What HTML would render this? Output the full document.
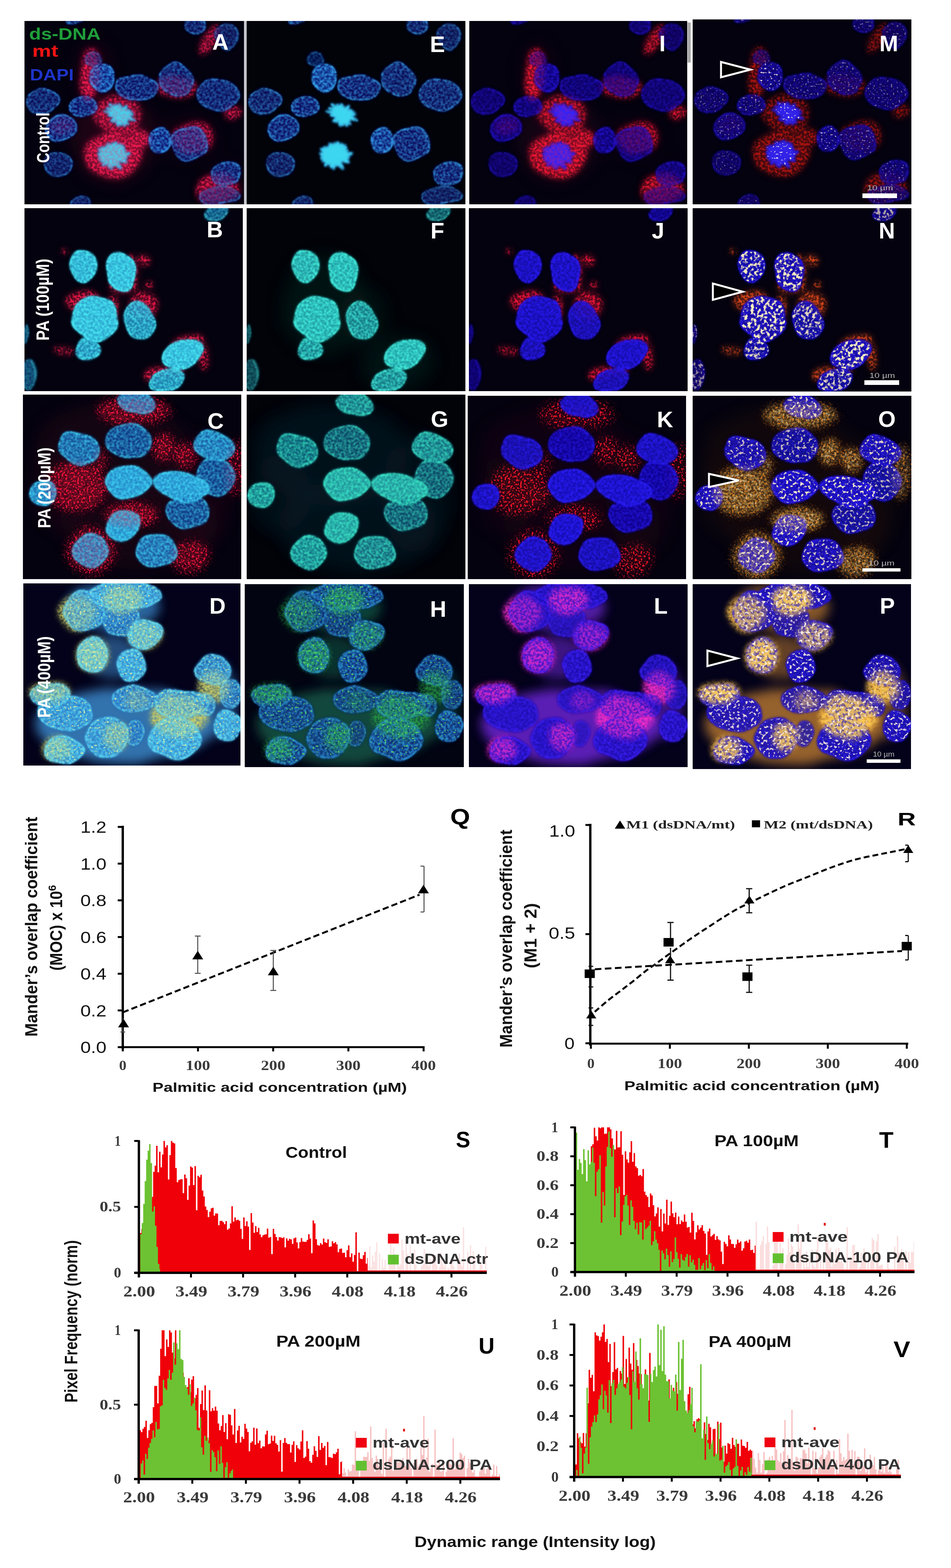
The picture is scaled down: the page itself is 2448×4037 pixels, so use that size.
<!DOCTYPE html>
<html><head><meta charset="utf-8"><title>Figure</title>
<style>
html,body{margin:0;padding:0;background:#fff;}
svg{display:block;}
</style></head><body>

<svg width="2448" height="4037" viewBox="0 0 2448 4037">
<rect width="2448" height="4037" fill="#fff"/>

<filter id="blurBig" x="-30%" y="-30%" width="160%" height="160%"><feTurbulence type="fractalNoise" baseFrequency="0.018" numOctaves="1" seed="41" result="dn" color-interpolation-filters="sRGB"/><feDisplacementMap in="SourceGraphic" in2="dn" scale="22" xChannelSelector="R" yChannelSelector="G" result="src" color-interpolation-filters="sRGB"/><feGaussianBlur in="src" stdDeviation="9"/></filter>
<filter id="blurMid" x="-40%" y="-40%" width="180%" height="180%"><feTurbulence type="fractalNoise" baseFrequency="0.018" numOctaves="1" seed="41" result="dn" color-interpolation-filters="sRGB"/><feDisplacementMap in="SourceGraphic" in2="dn" scale="22" xChannelSelector="R" yChannelSelector="G" result="src" color-interpolation-filters="sRGB"/><feGaussianBlur in="src" stdDeviation="14"/></filter>
<filter id="blurHuge" x="-40%" y="-40%" width="180%" height="180%"><feTurbulence type="fractalNoise" baseFrequency="0.018" numOctaves="1" seed="41" result="dn" color-interpolation-filters="sRGB"/><feDisplacementMap in="SourceGraphic" in2="dn" scale="22" xChannelSelector="R" yChannelSelector="G" result="src" color-interpolation-filters="sRGB"/><feGaussianBlur in="src" stdDeviation="22"/></filter>
<filter id="nucBase" x="-10%" y="-10%" width="120%" height="120%"><feTurbulence type="fractalNoise" baseFrequency="0.018" numOctaves="1" seed="41" result="dn" color-interpolation-filters="sRGB"/><feDisplacementMap in="SourceGraphic" in2="dn" scale="22" xChannelSelector="R" yChannelSelector="G" result="src" color-interpolation-filters="sRGB"/><feGaussianBlur in="src" stdDeviation="3"/></filter>
<filter id="mot" x="-5%" y="-5%" width="110%" height="110%" color-interpolation-filters="sRGB"><feTurbulence type="fractalNoise" baseFrequency="0.018" numOctaves="1" seed="41" result="dn" color-interpolation-filters="sRGB"/><feDisplacementMap in="SourceGraphic" in2="dn" scale="22" xChannelSelector="R" yChannelSelector="G" result="src" color-interpolation-filters="sRGB"/>
  <feTurbulence type="fractalNoise" baseFrequency="0.17" numOctaves="2" seed="7" result="n"/>
  <feColorMatrix in="n" type="matrix" values="0 0 0 0 0  0 0 0 0 0  0 0 0 0 0  3.2 0 0 0 -1.2" result="na"/>
  <feComposite in="src" in2="na" operator="in" result="t"/>
  <feGaussianBlur in="t" stdDeviation="1"/>
</filter>
<filter id="mot2" x="-5%" y="-5%" width="110%" height="110%" color-interpolation-filters="sRGB"><feTurbulence type="fractalNoise" baseFrequency="0.018" numOctaves="1" seed="41" result="dn" color-interpolation-filters="sRGB"/><feDisplacementMap in="SourceGraphic" in2="dn" scale="22" xChannelSelector="R" yChannelSelector="G" result="src" color-interpolation-filters="sRGB"/>
  <feTurbulence type="fractalNoise" baseFrequency="0.12" numOctaves="2" seed="17" result="n"/>
  <feColorMatrix in="n" type="matrix" values="0 0 0 0 0  0 0 0 0 0  0 0 0 0 0  3.5 0 0 0 -1.2" result="na"/>
  <feComposite in="src" in2="na" operator="in" result="t"/>
  <feGaussianBlur in="t" stdDeviation="1.5"/>
</filter>
<filter id="redTex" x="-20%" y="-20%" width="140%" height="140%" color-interpolation-filters="sRGB"><feTurbulence type="fractalNoise" baseFrequency="0.018" numOctaves="1" seed="41" result="dn" color-interpolation-filters="sRGB"/><feDisplacementMap in="SourceGraphic" in2="dn" scale="22" xChannelSelector="R" yChannelSelector="G" result="src" color-interpolation-filters="sRGB"/>
  <feGaussianBlur in="src" stdDeviation="10" result="b"/>
  <feComponentTransfer in="b" result="bd"><feFuncA type="linear" slope="0.45"/></feComponentTransfer>
  <feTurbulence type="fractalNoise" baseFrequency="0.16" numOctaves="2" seed="23" result="n"/>
  <feColorMatrix in="n" type="matrix" values="0 0 0 0 0  0 0 0 0 0  0 0 0 0 0  4.5 0 0 0 -1.9" result="na"/>
  <feGaussianBlur in="src" stdDeviation="5" result="sb"/>
  <feComposite in="sb" in2="na" operator="in" result="t"/>
  <feMerge><feMergeNode in="bd"/><feMergeNode in="t"/></feMerge>
</filter>
<filter id="ovTex" x="-20%" y="-20%" width="140%" height="140%" color-interpolation-filters="sRGB"><feTurbulence type="fractalNoise" baseFrequency="0.018" numOctaves="1" seed="41" result="dn" color-interpolation-filters="sRGB"/><feDisplacementMap in="SourceGraphic" in2="dn" scale="22" xChannelSelector="R" yChannelSelector="G" result="src" color-interpolation-filters="sRGB"/>
  <feGaussianBlur in="src" stdDeviation="8" result="b"/>
  <feTurbulence type="fractalNoise" baseFrequency="0.15" numOctaves="2" seed="31" result="n"/>
  <feColorMatrix in="n" type="matrix" values="0 0 0 0 0  0 0 0 0 0  0 0 0 0 0  5 0 0 0 -2.0" result="na"/>
  <feComposite in="b" in2="na" operator="in" result="t"/>
  <feComponentTransfer in="b" result="bd"><feFuncA type="linear" slope="0.35"/></feComponentTransfer>
  <feMerge><feMergeNode in="bd"/><feMergeNode in="t"/></feMerge>
</filter>
<filter id="ovTex2" x="-20%" y="-20%" width="140%" height="140%" color-interpolation-filters="sRGB"><feTurbulence type="fractalNoise" baseFrequency="0.018" numOctaves="1" seed="41" result="dn" color-interpolation-filters="sRGB"/><feDisplacementMap in="SourceGraphic" in2="dn" scale="22" xChannelSelector="R" yChannelSelector="G" result="src" color-interpolation-filters="sRGB"/>
  <feGaussianBlur in="src" stdDeviation="8" result="b"/>
  <feTurbulence type="fractalNoise" baseFrequency="0.12" numOctaves="2" seed="37" result="n"/>
  <feColorMatrix in="n" type="matrix" values="0 0 0 0 0  0 0 0 0 0  0 0 0 0 0  5 0 0 0 -1.7" result="na"/>
  <feComposite in="b" in2="na" operator="in" result="t"/>
  <feComponentTransfer in="b" result="bd"><feFuncA type="linear" slope="0.4"/></feComponentTransfer>
  <feMerge><feMergeNode in="bd"/><feMergeNode in="t"/></feMerge>
</filter>
<filter id="redSp" x="-20%" y="-20%" width="140%" height="140%" color-interpolation-filters="sRGB"><feTurbulence type="fractalNoise" baseFrequency="0.018" numOctaves="1" seed="41" result="dn" color-interpolation-filters="sRGB"/><feDisplacementMap in="SourceGraphic" in2="dn" scale="22" xChannelSelector="R" yChannelSelector="G" result="src" color-interpolation-filters="sRGB"/>
  <feGaussianBlur in="src" stdDeviation="12" result="b"/>
  <feComponentTransfer in="b" result="bd"><feFuncA type="linear" slope="0.18"/></feComponentTransfer>
  <feTurbulence type="fractalNoise" baseFrequency="0.2" numOctaves="2" seed="29" result="n"/>
  <feColorMatrix in="n" type="matrix" values="0 0 0 0 0  0 0 0 0 0  0 0 0 0 0  7 0 0 0 -3.9" result="na"/>
  <feComposite in="b" in2="na" operator="in" result="t0"/>
  <feComponentTransfer in="t0" result="t"><feFuncA type="linear" slope="2.2"/></feComponentTransfer>
  <feMerge><feMergeNode in="bd"/><feMergeNode in="t"/></feMerge>
</filter>
<filter id="speckA" x="0" y="0" width="100%" height="100%" color-interpolation-filters="sRGB"><feTurbulence type="fractalNoise" baseFrequency="0.018" numOctaves="1" seed="41" result="dn" color-interpolation-filters="sRGB"/><feDisplacementMap in="SourceGraphic" in2="dn" scale="22" xChannelSelector="R" yChannelSelector="G" result="src" color-interpolation-filters="sRGB"/>
  <feTurbulence type="fractalNoise" baseFrequency="0.2" numOctaves="1" seed="11" result="n"/>
  <feColorMatrix in="n" type="matrix" values="0 0 0 0 0  0 0 0 0 0  0 0 0 0 0  9 0 0 0 -5.6" result="na"/>
  <feComposite in="src" in2="na" operator="in"/>
</filter>
<filter id="speckB" x="0" y="0" width="100%" height="100%" color-interpolation-filters="sRGB"><feTurbulence type="fractalNoise" baseFrequency="0.018" numOctaves="1" seed="41" result="dn" color-interpolation-filters="sRGB"/><feDisplacementMap in="SourceGraphic" in2="dn" scale="22" xChannelSelector="R" yChannelSelector="G" result="src" color-interpolation-filters="sRGB"/>
  <feTurbulence type="fractalNoise" baseFrequency="0.14" numOctaves="2" seed="5" result="n"/>
  <feColorMatrix in="n" type="matrix" values="0 0 0 0 0  0 0 0 0 0  0 0 0 0 0  7 0 0 0 -3.9" result="na"/>
  <feComposite in="src" in2="na" operator="in"/>
</filter>
<filter id="speckC" x="0" y="0" width="100%" height="100%" color-interpolation-filters="sRGB"><feTurbulence type="fractalNoise" baseFrequency="0.018" numOctaves="1" seed="41" result="dn" color-interpolation-filters="sRGB"/><feDisplacementMap in="SourceGraphic" in2="dn" scale="22" xChannelSelector="R" yChannelSelector="G" result="src" color-interpolation-filters="sRGB"/>
  <feTurbulence type="fractalNoise" baseFrequency="0.12" numOctaves="2" seed="9" result="n"/>
  <feColorMatrix in="n" type="matrix" values="0 0 0 0 0  0 0 0 0 0  0 0 0 0 0  6 0 0 0 -2.9" result="na"/>
  <feComposite in="src" in2="na" operator="in"/>
</filter>

<clipPath id="cA"><rect x="0" y="0" width="565" height="472"/></clipPath>
<g transform="translate(63 54)" clip-path="url(#cA)">
<rect width="565" height="472" fill="#03020e"/>
<g><g transform="translate(0 0)">
<g filter="url(#blurHuge)" opacity="0.35">
<ellipse cx="230" cy="300" rx="110" ry="120" fill="#801030" opacity="0.60"/>
<ellipse cx="180" cy="130" rx="50" ry="80" fill="#801030" opacity="0.40"/>
<ellipse cx="420" cy="300" rx="80" ry="60" fill="#801030" opacity="0.30"/>
<ellipse cx="520" cy="420" rx="60" ry="60" fill="#801030" opacity="0.30"/>
</g>
<g filter="url(#redTex)">
<ellipse cx="168" cy="138" rx="20" ry="65" fill="#e8184a" transform="rotate(5 168 138)"/>
<ellipse cx="241" cy="241" rx="62" ry="50" fill="#e8184a" opacity="0.78"/>
<ellipse cx="226" cy="346" rx="74" ry="57" fill="#e8184a"/>
<ellipse cx="292" cy="304" rx="28" ry="25" fill="#e8184a" opacity="0.95"/>
<ellipse cx="433" cy="300" rx="50" ry="40" fill="#e8184a" opacity="0.75"/>
<ellipse cx="392" cy="170" rx="52" ry="29" fill="#e8184a" opacity="0.70"/>
<ellipse cx="476" cy="50" rx="15" ry="48" fill="#e8184a" opacity="0.78" transform="rotate(30 476 50)"/>
<ellipse cx="497" cy="432" rx="57" ry="38" fill="#e8184a" opacity="0.83"/>
<ellipse cx="538" cy="237" rx="21" ry="19" fill="#e8184a" opacity="0.78"/>
<ellipse cx="95" cy="270" rx="30" ry="20" fill="#e8184a" opacity="0.64"/>
<ellipse cx="172" cy="95" rx="16" ry="22" fill="#e8184a"/>
</g>
<g filter="url(#nucBase)">
<ellipse cx="200" cy="145" rx="36" ry="36" fill="#0f207f" opacity="0.95" transform="rotate(-10 200 145)"/>
<ellipse cx="291" cy="172" rx="56" ry="32" fill="#0b1072" opacity="0.78" transform="rotate(5 291 172)"/>
<ellipse cx="391" cy="150" rx="46" ry="45" fill="#0a0e70" opacity="0.75"/>
<ellipse cx="498" cy="190" rx="55" ry="43" fill="#0a0e70" opacity="0.75"/>
<ellipse cx="45" cy="205" rx="42" ry="33" fill="#0a0e70" opacity="0.72"/>
<ellipse cx="152" cy="219" rx="38" ry="32" fill="#0b1274" opacity="0.80"/>
<ellipse cx="243.8" cy="244.2" rx="43.4" ry="5.4" fill="#102483" transform="rotate(17.6 246 242)"/><ellipse cx="248.4" cy="239.5" rx="44.1" ry="5.4" fill="#102483" transform="rotate(25.9 246 242)"/><ellipse cx="243.2" cy="241.3" rx="38.6" ry="5.4" fill="#102483" transform="rotate(46.3 246 242)"/><ellipse cx="247.4" cy="239.9" rx="32.0" ry="5.4" fill="#102483" transform="rotate(62.0 246 242)"/><ellipse cx="246.0" cy="244.5" rx="27.3" ry="5.4" fill="#102483" transform="rotate(70.2 246 242)"/><ellipse cx="245.3" cy="243.5" rx="29.3" ry="5.4" fill="#102483" transform="rotate(88.3 246 242)"/><ellipse cx="247.0" cy="243.4" rx="25.3" ry="5.4" fill="#102483" transform="rotate(96.3 246 242)"/><ellipse cx="244.6" cy="240.3" rx="23.6" ry="5.4" fill="#102483" transform="rotate(114.0 246 242)"/><ellipse cx="244.2" cy="244.3" rx="29.4" ry="5.4" fill="#102483" transform="rotate(126.1 246 242)"/><ellipse cx="245.3" cy="242.0" rx="27.1" ry="5.4" fill="#102483" transform="rotate(147.2 246 242)"/><ellipse cx="248.4" cy="239.7" rx="30.9" ry="5.4" fill="#102483" transform="rotate(150.7 246 242)"/><ellipse cx="246.5" cy="244.4" rx="34.5" ry="5.4" fill="#102483" transform="rotate(171.5 246 242)"/><ellipse cx="243.5" cy="242.2" rx="36.2" ry="5.4" fill="#102483" transform="rotate(180.6 246 242)"/><ellipse cx="246" cy="242" rx="28.52" ry="16.74" fill="#102483" transform="rotate(18 246 242)"/>
<ellipse cx="94" cy="275" rx="41" ry="34" fill="#0b1274" opacity="0.80"/>
<ellipse cx="232.5" cy="345.8" rx="39.6" ry="7.0" fill="#102483" transform="rotate(-0.6 230 346)"/><ellipse cx="228.1" cy="346.1" rx="39.5" ry="7.0" fill="#102483" transform="rotate(13.9 230 346)"/><ellipse cx="227.6" cy="344.8" rx="40.5" ry="7.0" fill="#102483" transform="rotate(29.3 230 346)"/><ellipse cx="231.2" cy="343.3" rx="40.0" ry="7.0" fill="#102483" transform="rotate(36.6 230 346)"/><ellipse cx="230.9" cy="346.7" rx="39.3" ry="7.0" fill="#102483" transform="rotate(61.2 230 346)"/><ellipse cx="230.2" cy="343.4" rx="30.5" ry="7.0" fill="#102483" transform="rotate(65.1 230 346)"/><ellipse cx="227.2" cy="345.8" rx="32.0" ry="7.0" fill="#102483" transform="rotate(79.4 230 346)"/><ellipse cx="230.1" cy="346.8" rx="37.2" ry="7.0" fill="#102483" transform="rotate(96.2 230 346)"/><ellipse cx="229.7" cy="344.7" rx="36.1" ry="7.0" fill="#102483" transform="rotate(110.8 230 346)"/><ellipse cx="232.0" cy="347.2" rx="40.5" ry="7.0" fill="#102483" transform="rotate(130.6 230 346)"/><ellipse cx="228.7" cy="343.4" rx="33.9" ry="7.0" fill="#102483" transform="rotate(136.2 230 346)"/><ellipse cx="232.1" cy="345.3" rx="37.0" ry="7.0" fill="#102483" transform="rotate(155.5 230 346)"/><ellipse cx="227.0" cy="344.3" rx="42.3" ry="7.0" fill="#102483" transform="rotate(171.7 230 346)"/><ellipse cx="230" cy="346" rx="24.8" ry="21.7" fill="#102483"/>
<ellipse cx="347" cy="308" rx="33" ry="31" fill="#0e1b7c" opacity="0.90"/>
<ellipse cx="424" cy="314" rx="46" ry="46" fill="#0b1072" opacity="0.78"/>
<ellipse cx="517" cy="394" rx="41" ry="32" fill="#0b1072" opacity="0.78"/>
<ellipse cx="87" cy="370" rx="36" ry="35" fill="#0a0e70" opacity="0.68"/>
<ellipse cx="503" cy="450" rx="53" ry="25" fill="#0a0e70" opacity="0.65"/>
<ellipse cx="146" cy="470" rx="31" ry="20" fill="#0a0e70" opacity="0.65"/>
<ellipse cx="440" cy="10" rx="30" ry="22" fill="#0a0e70" opacity="0.70"/>
<ellipse cx="521" cy="40" rx="30" ry="33" fill="#0a0e70" opacity="0.65" transform="rotate(-20 521 40)"/>
<ellipse cx="129" cy="2" rx="22" ry="8" fill="#0a0e70" opacity="0.75"/>
<ellipse cx="177" cy="99" rx="20" ry="20" fill="#0a0e70" opacity="0.57"/>
</g>
<g filter="url(#mot)">
<ellipse cx="200" cy="145" rx="36" ry="36" fill="#34a0f0" opacity="0.87" transform="rotate(-10 200 145)"/>
<ellipse cx="291" cy="172" rx="56" ry="32" fill="#34a0f0" opacity="0.59" transform="rotate(5 291 172)"/>
<ellipse cx="391" cy="150" rx="46" ry="45" fill="#34a0f0" opacity="0.55"/>
<ellipse cx="498" cy="190" rx="55" ry="43" fill="#34a0f0" opacity="0.55"/>
<ellipse cx="45" cy="205" rx="42" ry="33" fill="#34a0f0" opacity="0.51"/>
<ellipse cx="152" cy="219" rx="38" ry="32" fill="#34a0f0" opacity="0.63"/>
<ellipse cx="243.8" cy="244.2" rx="43.4" ry="5.4" fill="#34a0f0" transform="rotate(17.6 246 242)" opacity="0.95"/><ellipse cx="248.4" cy="239.5" rx="44.1" ry="5.4" fill="#34a0f0" transform="rotate(25.9 246 242)" opacity="0.95"/><ellipse cx="243.2" cy="241.3" rx="38.6" ry="5.4" fill="#34a0f0" transform="rotate(46.3 246 242)" opacity="0.95"/><ellipse cx="247.4" cy="239.9" rx="32.0" ry="5.4" fill="#34a0f0" transform="rotate(62.0 246 242)" opacity="0.95"/><ellipse cx="246.0" cy="244.5" rx="27.3" ry="5.4" fill="#34a0f0" transform="rotate(70.2 246 242)" opacity="0.95"/><ellipse cx="245.3" cy="243.5" rx="29.3" ry="5.4" fill="#34a0f0" transform="rotate(88.3 246 242)" opacity="0.95"/><ellipse cx="247.0" cy="243.4" rx="25.3" ry="5.4" fill="#34a0f0" transform="rotate(96.3 246 242)" opacity="0.95"/><ellipse cx="244.6" cy="240.3" rx="23.6" ry="5.4" fill="#34a0f0" transform="rotate(114.0 246 242)" opacity="0.95"/><ellipse cx="244.2" cy="244.3" rx="29.4" ry="5.4" fill="#34a0f0" transform="rotate(126.1 246 242)" opacity="0.95"/><ellipse cx="245.3" cy="242.0" rx="27.1" ry="5.4" fill="#34a0f0" transform="rotate(147.2 246 242)" opacity="0.95"/><ellipse cx="248.4" cy="239.7" rx="30.9" ry="5.4" fill="#34a0f0" transform="rotate(150.7 246 242)" opacity="0.95"/><ellipse cx="246.5" cy="244.4" rx="34.5" ry="5.4" fill="#34a0f0" transform="rotate(171.5 246 242)" opacity="0.95"/><ellipse cx="243.5" cy="242.2" rx="36.2" ry="5.4" fill="#34a0f0" transform="rotate(180.6 246 242)" opacity="0.95"/><ellipse cx="246" cy="242" rx="28.52" ry="16.74" fill="#34a0f0" opacity="0.95" transform="rotate(18 246 242)"/>
<ellipse cx="94" cy="275" rx="41" ry="34" fill="#34a0f0" opacity="0.63"/>
<ellipse cx="232.5" cy="345.8" rx="39.6" ry="7.0" fill="#34a0f0" transform="rotate(-0.6 230 346)" opacity="0.95"/><ellipse cx="228.1" cy="346.1" rx="39.5" ry="7.0" fill="#34a0f0" transform="rotate(13.9 230 346)" opacity="0.95"/><ellipse cx="227.6" cy="344.8" rx="40.5" ry="7.0" fill="#34a0f0" transform="rotate(29.3 230 346)" opacity="0.95"/><ellipse cx="231.2" cy="343.3" rx="40.0" ry="7.0" fill="#34a0f0" transform="rotate(36.6 230 346)" opacity="0.95"/><ellipse cx="230.9" cy="346.7" rx="39.3" ry="7.0" fill="#34a0f0" transform="rotate(61.2 230 346)" opacity="0.95"/><ellipse cx="230.2" cy="343.4" rx="30.5" ry="7.0" fill="#34a0f0" transform="rotate(65.1 230 346)" opacity="0.95"/><ellipse cx="227.2" cy="345.8" rx="32.0" ry="7.0" fill="#34a0f0" transform="rotate(79.4 230 346)" opacity="0.95"/><ellipse cx="230.1" cy="346.8" rx="37.2" ry="7.0" fill="#34a0f0" transform="rotate(96.2 230 346)" opacity="0.95"/><ellipse cx="229.7" cy="344.7" rx="36.1" ry="7.0" fill="#34a0f0" transform="rotate(110.8 230 346)" opacity="0.95"/><ellipse cx="232.0" cy="347.2" rx="40.5" ry="7.0" fill="#34a0f0" transform="rotate(130.6 230 346)" opacity="0.95"/><ellipse cx="228.7" cy="343.4" rx="33.9" ry="7.0" fill="#34a0f0" transform="rotate(136.2 230 346)" opacity="0.95"/><ellipse cx="232.1" cy="345.3" rx="37.0" ry="7.0" fill="#34a0f0" transform="rotate(155.5 230 346)" opacity="0.95"/><ellipse cx="227.0" cy="344.3" rx="42.3" ry="7.0" fill="#34a0f0" transform="rotate(171.7 230 346)" opacity="0.95"/><ellipse cx="230" cy="346" rx="24.8" ry="21.7" fill="#34a0f0" opacity="0.95"/>
<ellipse cx="347" cy="308" rx="33" ry="31" fill="#34a0f0" opacity="0.79"/>
<ellipse cx="424" cy="314" rx="46" ry="46" fill="#34a0f0" opacity="0.59"/>
<ellipse cx="517" cy="394" rx="41" ry="32" fill="#34a0f0" opacity="0.59"/>
<ellipse cx="87" cy="370" rx="36" ry="35" fill="#34a0f0" opacity="0.43"/>
<ellipse cx="503" cy="450" rx="53" ry="25" fill="#34a0f0" opacity="0.39"/>
<ellipse cx="146" cy="470" rx="31" ry="20" fill="#34a0f0" opacity="0.39"/>
<ellipse cx="440" cy="10" rx="30" ry="22" fill="#34a0f0" opacity="0.47"/>
<ellipse cx="521" cy="40" rx="30" ry="33" fill="#34a0f0" opacity="0.39" transform="rotate(-20 521 40)"/>
<ellipse cx="129" cy="2" rx="22" ry="8" fill="#34a0f0" opacity="0.55"/>
<ellipse cx="177" cy="99" rx="20" ry="20" fill="#34a0f0" opacity="0.27"/>
</g>
<g filter="url(#nucBase)">
<ellipse cx="243.8" cy="244.2" rx="43.4" ry="5.4" fill="#3fd8f2" transform="rotate(17.6 246 242)"/><ellipse cx="248.4" cy="239.5" rx="44.1" ry="5.4" fill="#3fd8f2" transform="rotate(25.9 246 242)"/><ellipse cx="243.2" cy="241.3" rx="38.6" ry="5.4" fill="#3fd8f2" transform="rotate(46.3 246 242)"/><ellipse cx="247.4" cy="239.9" rx="32.0" ry="5.4" fill="#3fd8f2" transform="rotate(62.0 246 242)"/><ellipse cx="246.0" cy="244.5" rx="27.3" ry="5.4" fill="#3fd8f2" transform="rotate(70.2 246 242)"/><ellipse cx="245.3" cy="243.5" rx="29.3" ry="5.4" fill="#3fd8f2" transform="rotate(88.3 246 242)"/><ellipse cx="247.0" cy="243.4" rx="25.3" ry="5.4" fill="#3fd8f2" transform="rotate(96.3 246 242)"/><ellipse cx="244.6" cy="240.3" rx="23.6" ry="5.4" fill="#3fd8f2" transform="rotate(114.0 246 242)"/><ellipse cx="244.2" cy="244.3" rx="29.4" ry="5.4" fill="#3fd8f2" transform="rotate(126.1 246 242)"/><ellipse cx="245.3" cy="242.0" rx="27.1" ry="5.4" fill="#3fd8f2" transform="rotate(147.2 246 242)"/><ellipse cx="248.4" cy="239.7" rx="30.9" ry="5.4" fill="#3fd8f2" transform="rotate(150.7 246 242)"/><ellipse cx="246.5" cy="244.4" rx="34.5" ry="5.4" fill="#3fd8f2" transform="rotate(171.5 246 242)"/><ellipse cx="243.5" cy="242.2" rx="36.2" ry="5.4" fill="#3fd8f2" transform="rotate(180.6 246 242)"/><ellipse cx="246" cy="242" rx="28.52" ry="16.74" fill="#3fd8f2" transform="rotate(18 246 242)"/>
<ellipse cx="232.5" cy="345.8" rx="39.6" ry="7.0" fill="#3fd8f2" transform="rotate(-0.6 230 346)"/><ellipse cx="228.1" cy="346.1" rx="39.5" ry="7.0" fill="#3fd8f2" transform="rotate(13.9 230 346)"/><ellipse cx="227.6" cy="344.8" rx="40.5" ry="7.0" fill="#3fd8f2" transform="rotate(29.3 230 346)"/><ellipse cx="231.2" cy="343.3" rx="40.0" ry="7.0" fill="#3fd8f2" transform="rotate(36.6 230 346)"/><ellipse cx="230.9" cy="346.7" rx="39.3" ry="7.0" fill="#3fd8f2" transform="rotate(61.2 230 346)"/><ellipse cx="230.2" cy="343.4" rx="30.5" ry="7.0" fill="#3fd8f2" transform="rotate(65.1 230 346)"/><ellipse cx="227.2" cy="345.8" rx="32.0" ry="7.0" fill="#3fd8f2" transform="rotate(79.4 230 346)"/><ellipse cx="230.1" cy="346.8" rx="37.2" ry="7.0" fill="#3fd8f2" transform="rotate(96.2 230 346)"/><ellipse cx="229.7" cy="344.7" rx="36.1" ry="7.0" fill="#3fd8f2" transform="rotate(110.8 230 346)"/><ellipse cx="232.0" cy="347.2" rx="40.5" ry="7.0" fill="#3fd8f2" transform="rotate(130.6 230 346)"/><ellipse cx="228.7" cy="343.4" rx="33.9" ry="7.0" fill="#3fd8f2" transform="rotate(136.2 230 346)"/><ellipse cx="232.1" cy="345.3" rx="37.0" ry="7.0" fill="#3fd8f2" transform="rotate(155.5 230 346)"/><ellipse cx="227.0" cy="344.3" rx="42.3" ry="7.0" fill="#3fd8f2" transform="rotate(171.7 230 346)"/><ellipse cx="230" cy="346" rx="24.8" ry="21.7" fill="#3fd8f2"/>
</g>
<g filter="url(#mot2)">
<ellipse cx="200" cy="145" rx="33" ry="33" fill="none" stroke="#34a0f0" stroke-width="5" opacity="0.93" transform="rotate(-10 200 145)"/>
<ellipse cx="291" cy="172" rx="53" ry="29" fill="none" stroke="#34a0f0" stroke-width="5" opacity="0.69" transform="rotate(5 291 172)"/>
<ellipse cx="391" cy="150" rx="43" ry="42" fill="none" stroke="#34a0f0" stroke-width="5" opacity="0.65"/>
<ellipse cx="498" cy="190" rx="52" ry="40" fill="none" stroke="#34a0f0" stroke-width="5" opacity="0.65"/>
<ellipse cx="45" cy="205" rx="39" ry="30" fill="none" stroke="#34a0f0" stroke-width="5" opacity="0.61"/>
<ellipse cx="152" cy="219" rx="35" ry="29" fill="none" stroke="#34a0f0" stroke-width="5" opacity="0.72"/>
<ellipse cx="94" cy="275" rx="38" ry="31" fill="none" stroke="#34a0f0" stroke-width="5" opacity="0.72"/>
<ellipse cx="347" cy="308" rx="30" ry="28" fill="none" stroke="#34a0f0" stroke-width="5" opacity="0.86"/>
<ellipse cx="424" cy="314" rx="43" ry="43" fill="none" stroke="#34a0f0" stroke-width="5" opacity="0.69"/>
<ellipse cx="517" cy="394" rx="38" ry="29" fill="none" stroke="#34a0f0" stroke-width="5" opacity="0.69"/>
<ellipse cx="87" cy="370" rx="33" ry="32" fill="none" stroke="#34a0f0" stroke-width="5" opacity="0.54"/>
<ellipse cx="503" cy="450" rx="50" ry="22" fill="none" stroke="#34a0f0" stroke-width="5" opacity="0.51"/>
<ellipse cx="146" cy="470" rx="28" ry="17" fill="none" stroke="#34a0f0" stroke-width="5" opacity="0.51"/>
<ellipse cx="440" cy="10" rx="27" ry="19" fill="none" stroke="#34a0f0" stroke-width="5" opacity="0.58"/>
<ellipse cx="521" cy="40" rx="27" ry="30" fill="none" stroke="#34a0f0" stroke-width="5" opacity="0.51" transform="rotate(-20 521 40)"/>
<ellipse cx="129" cy="2" rx="19" ry="5" fill="none" stroke="#34a0f0" stroke-width="5" opacity="0.65"/>
<ellipse cx="177" cy="99" rx="17" ry="17" fill="none" stroke="#34a0f0" stroke-width="5" opacity="0.40"/>
</g>
<g filter="url(#ovTex)" opacity="0.30">
<ellipse cx="168" cy="138" rx="20" ry="65" fill="#ff2060" transform="rotate(5 168 138)"/>
<ellipse cx="241" cy="241" rx="62" ry="50" fill="#ff2060" opacity="0.60"/>
<ellipse cx="226" cy="346" rx="74" ry="57" fill="#ff2060"/>
<ellipse cx="292" cy="304" rx="28" ry="25" fill="#ff2060" opacity="0.90"/>
<ellipse cx="433" cy="300" rx="50" ry="40" fill="#ff2060" opacity="0.55"/>
<ellipse cx="392" cy="170" rx="52" ry="29" fill="#ff2060" opacity="0.45"/>
<ellipse cx="476" cy="50" rx="15" ry="48" fill="#ff2060" opacity="0.60" transform="rotate(30 476 50)"/>
<ellipse cx="497" cy="432" rx="57" ry="38" fill="#ff2060" opacity="0.70"/>
<ellipse cx="538" cy="237" rx="21" ry="19" fill="#ff2060" opacity="0.60"/>
<ellipse cx="95" cy="270" rx="30" ry="20" fill="#ff2060" opacity="0.35"/>
<ellipse cx="172" cy="95" rx="16" ry="22" fill="#ff2060"/>
</g>
</g></g></g>
<clipPath id="cE"><rect x="0" y="0" width="563" height="472"/></clipPath>
<g transform="translate(635 54)" clip-path="url(#cE)">
<rect width="563" height="472" fill="#010309"/>
<g><g transform="translate(0 0)">
<g filter="url(#nucBase)">
<ellipse cx="200" cy="145" rx="36" ry="36" fill="#112785" opacity="0.95" transform="rotate(-10 200 145)"/>
<ellipse cx="291" cy="172" rx="56" ry="32" fill="#0b1173" opacity="0.78" transform="rotate(5 291 172)"/>
<ellipse cx="391" cy="150" rx="46" ry="45" fill="#0a0e70" opacity="0.75"/>
<ellipse cx="498" cy="190" rx="55" ry="43" fill="#0a0e70" opacity="0.75"/>
<ellipse cx="45" cy="205" rx="42" ry="33" fill="#0a0e70" opacity="0.72"/>
<ellipse cx="152" cy="219" rx="38" ry="32" fill="#0c1475" opacity="0.80"/>
<ellipse cx="243.8" cy="244.2" rx="43.4" ry="5.4" fill="#132d8a" transform="rotate(17.6 246 242)"/><ellipse cx="248.4" cy="239.5" rx="44.1" ry="5.4" fill="#132d8a" transform="rotate(25.9 246 242)"/><ellipse cx="243.2" cy="241.3" rx="38.6" ry="5.4" fill="#132d8a" transform="rotate(46.3 246 242)"/><ellipse cx="247.4" cy="239.9" rx="32.0" ry="5.4" fill="#132d8a" transform="rotate(62.0 246 242)"/><ellipse cx="246.0" cy="244.5" rx="27.3" ry="5.4" fill="#132d8a" transform="rotate(70.2 246 242)"/><ellipse cx="245.3" cy="243.5" rx="29.3" ry="5.4" fill="#132d8a" transform="rotate(88.3 246 242)"/><ellipse cx="247.0" cy="243.4" rx="25.3" ry="5.4" fill="#132d8a" transform="rotate(96.3 246 242)"/><ellipse cx="244.6" cy="240.3" rx="23.6" ry="5.4" fill="#132d8a" transform="rotate(114.0 246 242)"/><ellipse cx="244.2" cy="244.3" rx="29.4" ry="5.4" fill="#132d8a" transform="rotate(126.1 246 242)"/><ellipse cx="245.3" cy="242.0" rx="27.1" ry="5.4" fill="#132d8a" transform="rotate(147.2 246 242)"/><ellipse cx="248.4" cy="239.7" rx="30.9" ry="5.4" fill="#132d8a" transform="rotate(150.7 246 242)"/><ellipse cx="246.5" cy="244.4" rx="34.5" ry="5.4" fill="#132d8a" transform="rotate(171.5 246 242)"/><ellipse cx="243.5" cy="242.2" rx="36.2" ry="5.4" fill="#132d8a" transform="rotate(180.6 246 242)"/><ellipse cx="246" cy="242" rx="28.52" ry="16.74" fill="#132d8a" transform="rotate(18 246 242)"/>
<ellipse cx="94" cy="275" rx="41" ry="34" fill="#0c1475" opacity="0.80"/>
<ellipse cx="232.5" cy="345.8" rx="39.6" ry="7.0" fill="#132d8a" transform="rotate(-0.6 230 346)"/><ellipse cx="228.1" cy="346.1" rx="39.5" ry="7.0" fill="#132d8a" transform="rotate(13.9 230 346)"/><ellipse cx="227.6" cy="344.8" rx="40.5" ry="7.0" fill="#132d8a" transform="rotate(29.3 230 346)"/><ellipse cx="231.2" cy="343.3" rx="40.0" ry="7.0" fill="#132d8a" transform="rotate(36.6 230 346)"/><ellipse cx="230.9" cy="346.7" rx="39.3" ry="7.0" fill="#132d8a" transform="rotate(61.2 230 346)"/><ellipse cx="230.2" cy="343.4" rx="30.5" ry="7.0" fill="#132d8a" transform="rotate(65.1 230 346)"/><ellipse cx="227.2" cy="345.8" rx="32.0" ry="7.0" fill="#132d8a" transform="rotate(79.4 230 346)"/><ellipse cx="230.1" cy="346.8" rx="37.2" ry="7.0" fill="#132d8a" transform="rotate(96.2 230 346)"/><ellipse cx="229.7" cy="344.7" rx="36.1" ry="7.0" fill="#132d8a" transform="rotate(110.8 230 346)"/><ellipse cx="232.0" cy="347.2" rx="40.5" ry="7.0" fill="#132d8a" transform="rotate(130.6 230 346)"/><ellipse cx="228.7" cy="343.4" rx="33.9" ry="7.0" fill="#132d8a" transform="rotate(136.2 230 346)"/><ellipse cx="232.1" cy="345.3" rx="37.0" ry="7.0" fill="#132d8a" transform="rotate(155.5 230 346)"/><ellipse cx="227.0" cy="344.3" rx="42.3" ry="7.0" fill="#132d8a" transform="rotate(171.7 230 346)"/><ellipse cx="230" cy="346" rx="24.8" ry="21.7" fill="#132d8a"/>
<ellipse cx="347" cy="308" rx="33" ry="31" fill="#0f2080" opacity="0.90"/>
<ellipse cx="424" cy="314" rx="46" ry="46" fill="#0b1173" opacity="0.78"/>
<ellipse cx="517" cy="394" rx="41" ry="32" fill="#0b1173" opacity="0.78"/>
<ellipse cx="87" cy="370" rx="36" ry="35" fill="#0a0e70" opacity="0.68"/>
<ellipse cx="503" cy="450" rx="53" ry="25" fill="#0a0e70" opacity="0.65"/>
<ellipse cx="146" cy="470" rx="31" ry="20" fill="#0a0e70" opacity="0.65"/>
<ellipse cx="440" cy="10" rx="30" ry="22" fill="#0a0e70" opacity="0.70"/>
<ellipse cx="521" cy="40" rx="30" ry="33" fill="#0a0e70" opacity="0.65" transform="rotate(-20 521 40)"/>
<ellipse cx="129" cy="2" rx="22" ry="8" fill="#0a0e70" opacity="0.75"/>
<ellipse cx="177" cy="99" rx="20" ry="20" fill="#0a0e70" opacity="0.57"/>
</g>
<g filter="url(#mot)">
<ellipse cx="200" cy="145" rx="36" ry="36" fill="#36a8f2" opacity="0.87" transform="rotate(-10 200 145)"/>
<ellipse cx="291" cy="172" rx="56" ry="32" fill="#36a8f2" opacity="0.59" transform="rotate(5 291 172)"/>
<ellipse cx="391" cy="150" rx="46" ry="45" fill="#36a8f2" opacity="0.55"/>
<ellipse cx="498" cy="190" rx="55" ry="43" fill="#36a8f2" opacity="0.55"/>
<ellipse cx="45" cy="205" rx="42" ry="33" fill="#36a8f2" opacity="0.51"/>
<ellipse cx="152" cy="219" rx="38" ry="32" fill="#36a8f2" opacity="0.63"/>
<ellipse cx="243.8" cy="244.2" rx="43.4" ry="5.4" fill="#36a8f2" transform="rotate(17.6 246 242)" opacity="0.95"/><ellipse cx="248.4" cy="239.5" rx="44.1" ry="5.4" fill="#36a8f2" transform="rotate(25.9 246 242)" opacity="0.95"/><ellipse cx="243.2" cy="241.3" rx="38.6" ry="5.4" fill="#36a8f2" transform="rotate(46.3 246 242)" opacity="0.95"/><ellipse cx="247.4" cy="239.9" rx="32.0" ry="5.4" fill="#36a8f2" transform="rotate(62.0 246 242)" opacity="0.95"/><ellipse cx="246.0" cy="244.5" rx="27.3" ry="5.4" fill="#36a8f2" transform="rotate(70.2 246 242)" opacity="0.95"/><ellipse cx="245.3" cy="243.5" rx="29.3" ry="5.4" fill="#36a8f2" transform="rotate(88.3 246 242)" opacity="0.95"/><ellipse cx="247.0" cy="243.4" rx="25.3" ry="5.4" fill="#36a8f2" transform="rotate(96.3 246 242)" opacity="0.95"/><ellipse cx="244.6" cy="240.3" rx="23.6" ry="5.4" fill="#36a8f2" transform="rotate(114.0 246 242)" opacity="0.95"/><ellipse cx="244.2" cy="244.3" rx="29.4" ry="5.4" fill="#36a8f2" transform="rotate(126.1 246 242)" opacity="0.95"/><ellipse cx="245.3" cy="242.0" rx="27.1" ry="5.4" fill="#36a8f2" transform="rotate(147.2 246 242)" opacity="0.95"/><ellipse cx="248.4" cy="239.7" rx="30.9" ry="5.4" fill="#36a8f2" transform="rotate(150.7 246 242)" opacity="0.95"/><ellipse cx="246.5" cy="244.4" rx="34.5" ry="5.4" fill="#36a8f2" transform="rotate(171.5 246 242)" opacity="0.95"/><ellipse cx="243.5" cy="242.2" rx="36.2" ry="5.4" fill="#36a8f2" transform="rotate(180.6 246 242)" opacity="0.95"/><ellipse cx="246" cy="242" rx="28.52" ry="16.74" fill="#36a8f2" opacity="0.95" transform="rotate(18 246 242)"/>
<ellipse cx="94" cy="275" rx="41" ry="34" fill="#36a8f2" opacity="0.63"/>
<ellipse cx="232.5" cy="345.8" rx="39.6" ry="7.0" fill="#36a8f2" transform="rotate(-0.6 230 346)" opacity="0.95"/><ellipse cx="228.1" cy="346.1" rx="39.5" ry="7.0" fill="#36a8f2" transform="rotate(13.9 230 346)" opacity="0.95"/><ellipse cx="227.6" cy="344.8" rx="40.5" ry="7.0" fill="#36a8f2" transform="rotate(29.3 230 346)" opacity="0.95"/><ellipse cx="231.2" cy="343.3" rx="40.0" ry="7.0" fill="#36a8f2" transform="rotate(36.6 230 346)" opacity="0.95"/><ellipse cx="230.9" cy="346.7" rx="39.3" ry="7.0" fill="#36a8f2" transform="rotate(61.2 230 346)" opacity="0.95"/><ellipse cx="230.2" cy="343.4" rx="30.5" ry="7.0" fill="#36a8f2" transform="rotate(65.1 230 346)" opacity="0.95"/><ellipse cx="227.2" cy="345.8" rx="32.0" ry="7.0" fill="#36a8f2" transform="rotate(79.4 230 346)" opacity="0.95"/><ellipse cx="230.1" cy="346.8" rx="37.2" ry="7.0" fill="#36a8f2" transform="rotate(96.2 230 346)" opacity="0.95"/><ellipse cx="229.7" cy="344.7" rx="36.1" ry="7.0" fill="#36a8f2" transform="rotate(110.8 230 346)" opacity="0.95"/><ellipse cx="232.0" cy="347.2" rx="40.5" ry="7.0" fill="#36a8f2" transform="rotate(130.6 230 346)" opacity="0.95"/><ellipse cx="228.7" cy="343.4" rx="33.9" ry="7.0" fill="#36a8f2" transform="rotate(136.2 230 346)" opacity="0.95"/><ellipse cx="232.1" cy="345.3" rx="37.0" ry="7.0" fill="#36a8f2" transform="rotate(155.5 230 346)" opacity="0.95"/><ellipse cx="227.0" cy="344.3" rx="42.3" ry="7.0" fill="#36a8f2" transform="rotate(171.7 230 346)" opacity="0.95"/><ellipse cx="230" cy="346" rx="24.8" ry="21.7" fill="#36a8f2" opacity="0.95"/>
<ellipse cx="347" cy="308" rx="33" ry="31" fill="#36a8f2" opacity="0.79"/>
<ellipse cx="424" cy="314" rx="46" ry="46" fill="#36a8f2" opacity="0.59"/>
<ellipse cx="517" cy="394" rx="41" ry="32" fill="#36a8f2" opacity="0.59"/>
<ellipse cx="87" cy="370" rx="36" ry="35" fill="#36a8f2" opacity="0.43"/>
<ellipse cx="503" cy="450" rx="53" ry="25" fill="#36a8f2" opacity="0.39"/>
<ellipse cx="146" cy="470" rx="31" ry="20" fill="#36a8f2" opacity="0.39"/>
<ellipse cx="440" cy="10" rx="30" ry="22" fill="#36a8f2" opacity="0.47"/>
<ellipse cx="521" cy="40" rx="30" ry="33" fill="#36a8f2" opacity="0.39" transform="rotate(-20 521 40)"/>
<ellipse cx="129" cy="2" rx="22" ry="8" fill="#36a8f2" opacity="0.55"/>
<ellipse cx="177" cy="99" rx="20" ry="20" fill="#36a8f2" opacity="0.27"/>
</g>
<g filter="url(#nucBase)">
<ellipse cx="243.8" cy="244.2" rx="43.4" ry="5.4" fill="#3cd6f0" transform="rotate(17.6 246 242)"/><ellipse cx="248.4" cy="239.5" rx="44.1" ry="5.4" fill="#3cd6f0" transform="rotate(25.9 246 242)"/><ellipse cx="243.2" cy="241.3" rx="38.6" ry="5.4" fill="#3cd6f0" transform="rotate(46.3 246 242)"/><ellipse cx="247.4" cy="239.9" rx="32.0" ry="5.4" fill="#3cd6f0" transform="rotate(62.0 246 242)"/><ellipse cx="246.0" cy="244.5" rx="27.3" ry="5.4" fill="#3cd6f0" transform="rotate(70.2 246 242)"/><ellipse cx="245.3" cy="243.5" rx="29.3" ry="5.4" fill="#3cd6f0" transform="rotate(88.3 246 242)"/><ellipse cx="247.0" cy="243.4" rx="25.3" ry="5.4" fill="#3cd6f0" transform="rotate(96.3 246 242)"/><ellipse cx="244.6" cy="240.3" rx="23.6" ry="5.4" fill="#3cd6f0" transform="rotate(114.0 246 242)"/><ellipse cx="244.2" cy="244.3" rx="29.4" ry="5.4" fill="#3cd6f0" transform="rotate(126.1 246 242)"/><ellipse cx="245.3" cy="242.0" rx="27.1" ry="5.4" fill="#3cd6f0" transform="rotate(147.2 246 242)"/><ellipse cx="248.4" cy="239.7" rx="30.9" ry="5.4" fill="#3cd6f0" transform="rotate(150.7 246 242)"/><ellipse cx="246.5" cy="244.4" rx="34.5" ry="5.4" fill="#3cd6f0" transform="rotate(171.5 246 242)"/><ellipse cx="243.5" cy="242.2" rx="36.2" ry="5.4" fill="#3cd6f0" transform="rotate(180.6 246 242)"/><ellipse cx="246" cy="242" rx="28.52" ry="16.74" fill="#3cd6f0" transform="rotate(18 246 242)"/>
<ellipse cx="232.5" cy="345.8" rx="39.6" ry="7.0" fill="#3cd6f0" transform="rotate(-0.6 230 346)"/><ellipse cx="228.1" cy="346.1" rx="39.5" ry="7.0" fill="#3cd6f0" transform="rotate(13.9 230 346)"/><ellipse cx="227.6" cy="344.8" rx="40.5" ry="7.0" fill="#3cd6f0" transform="rotate(29.3 230 346)"/><ellipse cx="231.2" cy="343.3" rx="40.0" ry="7.0" fill="#3cd6f0" transform="rotate(36.6 230 346)"/><ellipse cx="230.9" cy="346.7" rx="39.3" ry="7.0" fill="#3cd6f0" transform="rotate(61.2 230 346)"/><ellipse cx="230.2" cy="343.4" rx="30.5" ry="7.0" fill="#3cd6f0" transform="rotate(65.1 230 346)"/><ellipse cx="227.2" cy="345.8" rx="32.0" ry="7.0" fill="#3cd6f0" transform="rotate(79.4 230 346)"/><ellipse cx="230.1" cy="346.8" rx="37.2" ry="7.0" fill="#3cd6f0" transform="rotate(96.2 230 346)"/><ellipse cx="229.7" cy="344.7" rx="36.1" ry="7.0" fill="#3cd6f0" transform="rotate(110.8 230 346)"/><ellipse cx="232.0" cy="347.2" rx="40.5" ry="7.0" fill="#3cd6f0" transform="rotate(130.6 230 346)"/><ellipse cx="228.7" cy="343.4" rx="33.9" ry="7.0" fill="#3cd6f0" transform="rotate(136.2 230 346)"/><ellipse cx="232.1" cy="345.3" rx="37.0" ry="7.0" fill="#3cd6f0" transform="rotate(155.5 230 346)"/><ellipse cx="227.0" cy="344.3" rx="42.3" ry="7.0" fill="#3cd6f0" transform="rotate(171.7 230 346)"/><ellipse cx="230" cy="346" rx="24.8" ry="21.7" fill="#3cd6f0"/>
</g>
<g filter="url(#mot2)">
<ellipse cx="200" cy="145" rx="33" ry="33" fill="none" stroke="#36a8f2" stroke-width="5" opacity="0.93" transform="rotate(-10 200 145)"/>
<ellipse cx="291" cy="172" rx="53" ry="29" fill="none" stroke="#36a8f2" stroke-width="5" opacity="0.69" transform="rotate(5 291 172)"/>
<ellipse cx="391" cy="150" rx="43" ry="42" fill="none" stroke="#36a8f2" stroke-width="5" opacity="0.65"/>
<ellipse cx="498" cy="190" rx="52" ry="40" fill="none" stroke="#36a8f2" stroke-width="5" opacity="0.65"/>
<ellipse cx="45" cy="205" rx="39" ry="30" fill="none" stroke="#36a8f2" stroke-width="5" opacity="0.61"/>
<ellipse cx="152" cy="219" rx="35" ry="29" fill="none" stroke="#36a8f2" stroke-width="5" opacity="0.72"/>
<ellipse cx="94" cy="275" rx="38" ry="31" fill="none" stroke="#36a8f2" stroke-width="5" opacity="0.72"/>
<ellipse cx="347" cy="308" rx="30" ry="28" fill="none" stroke="#36a8f2" stroke-width="5" opacity="0.86"/>
<ellipse cx="424" cy="314" rx="43" ry="43" fill="none" stroke="#36a8f2" stroke-width="5" opacity="0.69"/>
<ellipse cx="517" cy="394" rx="38" ry="29" fill="none" stroke="#36a8f2" stroke-width="5" opacity="0.69"/>
<ellipse cx="87" cy="370" rx="33" ry="32" fill="none" stroke="#36a8f2" stroke-width="5" opacity="0.54"/>
<ellipse cx="503" cy="450" rx="50" ry="22" fill="none" stroke="#36a8f2" stroke-width="5" opacity="0.51"/>
<ellipse cx="146" cy="470" rx="28" ry="17" fill="none" stroke="#36a8f2" stroke-width="5" opacity="0.51"/>
<ellipse cx="440" cy="10" rx="27" ry="19" fill="none" stroke="#36a8f2" stroke-width="5" opacity="0.58"/>
<ellipse cx="521" cy="40" rx="27" ry="30" fill="none" stroke="#36a8f2" stroke-width="5" opacity="0.51" transform="rotate(-20 521 40)"/>
<ellipse cx="129" cy="2" rx="19" ry="5" fill="none" stroke="#36a8f2" stroke-width="5" opacity="0.65"/>
<ellipse cx="177" cy="99" rx="17" ry="17" fill="none" stroke="#36a8f2" stroke-width="5" opacity="0.40"/>
</g>
</g></g></g>
<clipPath id="cI"><rect x="0" y="0" width="561" height="472"/></clipPath>
<g transform="translate(1208 54)" clip-path="url(#cI)">
<rect width="561" height="472" fill="#03020e"/>
<g><g transform="translate(0 0)">
<g filter="url(#blurHuge)" opacity="0.30">
<ellipse cx="230" cy="300" rx="110" ry="120" fill="#601030" opacity="0.60"/>
<ellipse cx="180" cy="130" rx="50" ry="80" fill="#601030" opacity="0.40"/>
<ellipse cx="420" cy="300" rx="80" ry="60" fill="#601030" opacity="0.30"/>
<ellipse cx="520" cy="420" rx="60" ry="60" fill="#601030" opacity="0.30"/>
</g>
<g filter="url(#redTex)">
<ellipse cx="168" cy="138" rx="20" ry="65" fill="#e81430" transform="rotate(5 168 138)"/>
<ellipse cx="241" cy="241" rx="62" ry="50" fill="#e81430" opacity="0.78"/>
<ellipse cx="226" cy="346" rx="74" ry="57" fill="#e81430"/>
<ellipse cx="292" cy="304" rx="28" ry="25" fill="#e81430" opacity="0.95"/>
<ellipse cx="433" cy="300" rx="50" ry="40" fill="#e81430" opacity="0.75"/>
<ellipse cx="392" cy="170" rx="52" ry="29" fill="#e81430" opacity="0.70"/>
<ellipse cx="476" cy="50" rx="15" ry="48" fill="#e81430" opacity="0.78" transform="rotate(30 476 50)"/>
<ellipse cx="497" cy="432" rx="57" ry="38" fill="#e81430" opacity="0.83"/>
<ellipse cx="538" cy="237" rx="21" ry="19" fill="#e81430" opacity="0.78"/>
<ellipse cx="95" cy="270" rx="30" ry="20" fill="#e81430" opacity="0.64"/>
<ellipse cx="172" cy="95" rx="16" ry="22" fill="#e81430"/>
</g>
<g filter="url(#nucBase)">
<ellipse cx="200" cy="145" rx="36" ry="36" fill="#0e0678" opacity="0.95" transform="rotate(-10 200 145)"/>
<ellipse cx="291" cy="172" rx="56" ry="32" fill="#0e0678" opacity="0.78" transform="rotate(5 291 172)"/>
<ellipse cx="391" cy="150" rx="46" ry="45" fill="#0e0678" opacity="0.75"/>
<ellipse cx="498" cy="190" rx="55" ry="43" fill="#0e0678" opacity="0.75"/>
<ellipse cx="45" cy="205" rx="42" ry="33" fill="#0e0678" opacity="0.72"/>
<ellipse cx="152" cy="219" rx="38" ry="32" fill="#0e0678" opacity="0.80"/>
<ellipse cx="243.8" cy="244.2" rx="43.4" ry="5.4" fill="#0e0678" transform="rotate(17.6 246 242)"/><ellipse cx="248.4" cy="239.5" rx="44.1" ry="5.4" fill="#0e0678" transform="rotate(25.9 246 242)"/><ellipse cx="243.2" cy="241.3" rx="38.6" ry="5.4" fill="#0e0678" transform="rotate(46.3 246 242)"/><ellipse cx="247.4" cy="239.9" rx="32.0" ry="5.4" fill="#0e0678" transform="rotate(62.0 246 242)"/><ellipse cx="246.0" cy="244.5" rx="27.3" ry="5.4" fill="#0e0678" transform="rotate(70.2 246 242)"/><ellipse cx="245.3" cy="243.5" rx="29.3" ry="5.4" fill="#0e0678" transform="rotate(88.3 246 242)"/><ellipse cx="247.0" cy="243.4" rx="25.3" ry="5.4" fill="#0e0678" transform="rotate(96.3 246 242)"/><ellipse cx="244.6" cy="240.3" rx="23.6" ry="5.4" fill="#0e0678" transform="rotate(114.0 246 242)"/><ellipse cx="244.2" cy="244.3" rx="29.4" ry="5.4" fill="#0e0678" transform="rotate(126.1 246 242)"/><ellipse cx="245.3" cy="242.0" rx="27.1" ry="5.4" fill="#0e0678" transform="rotate(147.2 246 242)"/><ellipse cx="248.4" cy="239.7" rx="30.9" ry="5.4" fill="#0e0678" transform="rotate(150.7 246 242)"/><ellipse cx="246.5" cy="244.4" rx="34.5" ry="5.4" fill="#0e0678" transform="rotate(171.5 246 242)"/><ellipse cx="243.5" cy="242.2" rx="36.2" ry="5.4" fill="#0e0678" transform="rotate(180.6 246 242)"/><ellipse cx="246" cy="242" rx="28.52" ry="16.74" fill="#0e0678" transform="rotate(18 246 242)"/>
<ellipse cx="94" cy="275" rx="41" ry="34" fill="#0e0678" opacity="0.80"/>
<ellipse cx="232.5" cy="345.8" rx="39.6" ry="7.0" fill="#0e0678" transform="rotate(-0.6 230 346)"/><ellipse cx="228.1" cy="346.1" rx="39.5" ry="7.0" fill="#0e0678" transform="rotate(13.9 230 346)"/><ellipse cx="227.6" cy="344.8" rx="40.5" ry="7.0" fill="#0e0678" transform="rotate(29.3 230 346)"/><ellipse cx="231.2" cy="343.3" rx="40.0" ry="7.0" fill="#0e0678" transform="rotate(36.6 230 346)"/><ellipse cx="230.9" cy="346.7" rx="39.3" ry="7.0" fill="#0e0678" transform="rotate(61.2 230 346)"/><ellipse cx="230.2" cy="343.4" rx="30.5" ry="7.0" fill="#0e0678" transform="rotate(65.1 230 346)"/><ellipse cx="227.2" cy="345.8" rx="32.0" ry="7.0" fill="#0e0678" transform="rotate(79.4 230 346)"/><ellipse cx="230.1" cy="346.8" rx="37.2" ry="7.0" fill="#0e0678" transform="rotate(96.2 230 346)"/><ellipse cx="229.7" cy="344.7" rx="36.1" ry="7.0" fill="#0e0678" transform="rotate(110.8 230 346)"/><ellipse cx="232.0" cy="347.2" rx="40.5" ry="7.0" fill="#0e0678" transform="rotate(130.6 230 346)"/><ellipse cx="228.7" cy="343.4" rx="33.9" ry="7.0" fill="#0e0678" transform="rotate(136.2 230 346)"/><ellipse cx="232.1" cy="345.3" rx="37.0" ry="7.0" fill="#0e0678" transform="rotate(155.5 230 346)"/><ellipse cx="227.0" cy="344.3" rx="42.3" ry="7.0" fill="#0e0678" transform="rotate(171.7 230 346)"/><ellipse cx="230" cy="346" rx="24.8" ry="21.7" fill="#0e0678"/>
<ellipse cx="347" cy="308" rx="33" ry="31" fill="#0e0678" opacity="0.90"/>
<ellipse cx="424" cy="314" rx="46" ry="46" fill="#0e0678" opacity="0.78"/>
<ellipse cx="517" cy="394" rx="41" ry="32" fill="#0e0678" opacity="0.78"/>
<ellipse cx="87" cy="370" rx="36" ry="35" fill="#0e0678" opacity="0.68"/>
<ellipse cx="503" cy="450" rx="53" ry="25" fill="#0e0678" opacity="0.65"/>
<ellipse cx="146" cy="470" rx="31" ry="20" fill="#0e0678" opacity="0.65"/>
<ellipse cx="440" cy="10" rx="30" ry="22" fill="#0e0678" opacity="0.70"/>
<ellipse cx="521" cy="40" rx="30" ry="33" fill="#0e0678" opacity="0.65" transform="rotate(-20 521 40)"/>
<ellipse cx="129" cy="2" rx="22" ry="8" fill="#0e0678" opacity="0.75"/>
<ellipse cx="177" cy="99" rx="20" ry="20" fill="#0e0678" opacity="0.57"/>
</g>
<g filter="url(#mot)">
<ellipse cx="200" cy="145" rx="36" ry="36" fill="#2212d0" opacity="0.87" transform="rotate(-10 200 145)"/>
<ellipse cx="291" cy="172" rx="56" ry="32" fill="#2212d0" opacity="0.59" transform="rotate(5 291 172)"/>
<ellipse cx="391" cy="150" rx="46" ry="45" fill="#2212d0" opacity="0.55"/>
<ellipse cx="498" cy="190" rx="55" ry="43" fill="#2212d0" opacity="0.55"/>
<ellipse cx="45" cy="205" rx="42" ry="33" fill="#2212d0" opacity="0.51"/>
<ellipse cx="152" cy="219" rx="38" ry="32" fill="#2212d0" opacity="0.63"/>
<ellipse cx="243.8" cy="244.2" rx="43.4" ry="5.4" fill="#2212d0" transform="rotate(17.6 246 242)" opacity="0.95"/><ellipse cx="248.4" cy="239.5" rx="44.1" ry="5.4" fill="#2212d0" transform="rotate(25.9 246 242)" opacity="0.95"/><ellipse cx="243.2" cy="241.3" rx="38.6" ry="5.4" fill="#2212d0" transform="rotate(46.3 246 242)" opacity="0.95"/><ellipse cx="247.4" cy="239.9" rx="32.0" ry="5.4" fill="#2212d0" transform="rotate(62.0 246 242)" opacity="0.95"/><ellipse cx="246.0" cy="244.5" rx="27.3" ry="5.4" fill="#2212d0" transform="rotate(70.2 246 242)" opacity="0.95"/><ellipse cx="245.3" cy="243.5" rx="29.3" ry="5.4" fill="#2212d0" transform="rotate(88.3 246 242)" opacity="0.95"/><ellipse cx="247.0" cy="243.4" rx="25.3" ry="5.4" fill="#2212d0" transform="rotate(96.3 246 242)" opacity="0.95"/><ellipse cx="244.6" cy="240.3" rx="23.6" ry="5.4" fill="#2212d0" transform="rotate(114.0 246 242)" opacity="0.95"/><ellipse cx="244.2" cy="244.3" rx="29.4" ry="5.4" fill="#2212d0" transform="rotate(126.1 246 242)" opacity="0.95"/><ellipse cx="245.3" cy="242.0" rx="27.1" ry="5.4" fill="#2212d0" transform="rotate(147.2 246 242)" opacity="0.95"/><ellipse cx="248.4" cy="239.7" rx="30.9" ry="5.4" fill="#2212d0" transform="rotate(150.7 246 242)" opacity="0.95"/><ellipse cx="246.5" cy="244.4" rx="34.5" ry="5.4" fill="#2212d0" transform="rotate(171.5 246 242)" opacity="0.95"/><ellipse cx="243.5" cy="242.2" rx="36.2" ry="5.4" fill="#2212d0" transform="rotate(180.6 246 242)" opacity="0.95"/><ellipse cx="246" cy="242" rx="28.52" ry="16.74" fill="#2212d0" opacity="0.95" transform="rotate(18 246 242)"/>
<ellipse cx="94" cy="275" rx="41" ry="34" fill="#2212d0" opacity="0.63"/>
<ellipse cx="232.5" cy="345.8" rx="39.6" ry="7.0" fill="#2212d0" transform="rotate(-0.6 230 346)" opacity="0.95"/><ellipse cx="228.1" cy="346.1" rx="39.5" ry="7.0" fill="#2212d0" transform="rotate(13.9 230 346)" opacity="0.95"/><ellipse cx="227.6" cy="344.8" rx="40.5" ry="7.0" fill="#2212d0" transform="rotate(29.3 230 346)" opacity="0.95"/><ellipse cx="231.2" cy="343.3" rx="40.0" ry="7.0" fill="#2212d0" transform="rotate(36.6 230 346)" opacity="0.95"/><ellipse cx="230.9" cy="346.7" rx="39.3" ry="7.0" fill="#2212d0" transform="rotate(61.2 230 346)" opacity="0.95"/><ellipse cx="230.2" cy="343.4" rx="30.5" ry="7.0" fill="#2212d0" transform="rotate(65.1 230 346)" opacity="0.95"/><ellipse cx="227.2" cy="345.8" rx="32.0" ry="7.0" fill="#2212d0" transform="rotate(79.4 230 346)" opacity="0.95"/><ellipse cx="230.1" cy="346.8" rx="37.2" ry="7.0" fill="#2212d0" transform="rotate(96.2 230 346)" opacity="0.95"/><ellipse cx="229.7" cy="344.7" rx="36.1" ry="7.0" fill="#2212d0" transform="rotate(110.8 230 346)" opacity="0.95"/><ellipse cx="232.0" cy="347.2" rx="40.5" ry="7.0" fill="#2212d0" transform="rotate(130.6 230 346)" opacity="0.95"/><ellipse cx="228.7" cy="343.4" rx="33.9" ry="7.0" fill="#2212d0" transform="rotate(136.2 230 346)" opacity="0.95"/><ellipse cx="232.1" cy="345.3" rx="37.0" ry="7.0" fill="#2212d0" transform="rotate(155.5 230 346)" opacity="0.95"/><ellipse cx="227.0" cy="344.3" rx="42.3" ry="7.0" fill="#2212d0" transform="rotate(171.7 230 346)" opacity="0.95"/><ellipse cx="230" cy="346" rx="24.8" ry="21.7" fill="#2212d0" opacity="0.95"/>
<ellipse cx="347" cy="308" rx="33" ry="31" fill="#2212d0" opacity="0.79"/>
<ellipse cx="424" cy="314" rx="46" ry="46" fill="#2212d0" opacity="0.59"/>
<ellipse cx="517" cy="394" rx="41" ry="32" fill="#2212d0" opacity="0.59"/>
<ellipse cx="87" cy="370" rx="36" ry="35" fill="#2212d0" opacity="0.43"/>
<ellipse cx="503" cy="450" rx="53" ry="25" fill="#2212d0" opacity="0.39"/>
<ellipse cx="146" cy="470" rx="31" ry="20" fill="#2212d0" opacity="0.39"/>
<ellipse cx="440" cy="10" rx="30" ry="22" fill="#2212d0" opacity="0.47"/>
<ellipse cx="521" cy="40" rx="30" ry="33" fill="#2212d0" opacity="0.39" transform="rotate(-20 521 40)"/>
<ellipse cx="129" cy="2" rx="22" ry="8" fill="#2212d0" opacity="0.55"/>
<ellipse cx="177" cy="99" rx="20" ry="20" fill="#2212d0" opacity="0.27"/>
</g>
<g filter="url(#nucBase)">
<ellipse cx="243.8" cy="244.2" rx="43.4" ry="5.4" fill="#2a20ff" transform="rotate(17.6 246 242)"/><ellipse cx="248.4" cy="239.5" rx="44.1" ry="5.4" fill="#2a20ff" transform="rotate(25.9 246 242)"/><ellipse cx="243.2" cy="241.3" rx="38.6" ry="5.4" fill="#2a20ff" transform="rotate(46.3 246 242)"/><ellipse cx="247.4" cy="239.9" rx="32.0" ry="5.4" fill="#2a20ff" transform="rotate(62.0 246 242)"/><ellipse cx="246.0" cy="244.5" rx="27.3" ry="5.4" fill="#2a20ff" transform="rotate(70.2 246 242)"/><ellipse cx="245.3" cy="243.5" rx="29.3" ry="5.4" fill="#2a20ff" transform="rotate(88.3 246 242)"/><ellipse cx="247.0" cy="243.4" rx="25.3" ry="5.4" fill="#2a20ff" transform="rotate(96.3 246 242)"/><ellipse cx="244.6" cy="240.3" rx="23.6" ry="5.4" fill="#2a20ff" transform="rotate(114.0 246 242)"/><ellipse cx="244.2" cy="244.3" rx="29.4" ry="5.4" fill="#2a20ff" transform="rotate(126.1 246 242)"/><ellipse cx="245.3" cy="242.0" rx="27.1" ry="5.4" fill="#2a20ff" transform="rotate(147.2 246 242)"/><ellipse cx="248.4" cy="239.7" rx="30.9" ry="5.4" fill="#2a20ff" transform="rotate(150.7 246 242)"/><ellipse cx="246.5" cy="244.4" rx="34.5" ry="5.4" fill="#2a20ff" transform="rotate(171.5 246 242)"/><ellipse cx="243.5" cy="242.2" rx="36.2" ry="5.4" fill="#2a20ff" transform="rotate(180.6 246 242)"/><ellipse cx="246" cy="242" rx="28.52" ry="16.74" fill="#2a20ff" transform="rotate(18 246 242)"/>
<ellipse cx="232.5" cy="345.8" rx="39.6" ry="7.0" fill="#2a20ff" transform="rotate(-0.6 230 346)"/><ellipse cx="228.1" cy="346.1" rx="39.5" ry="7.0" fill="#2a20ff" transform="rotate(13.9 230 346)"/><ellipse cx="227.6" cy="344.8" rx="40.5" ry="7.0" fill="#2a20ff" transform="rotate(29.3 230 346)"/><ellipse cx="231.2" cy="343.3" rx="40.0" ry="7.0" fill="#2a20ff" transform="rotate(36.6 230 346)"/><ellipse cx="230.9" cy="346.7" rx="39.3" ry="7.0" fill="#2a20ff" transform="rotate(61.2 230 346)"/><ellipse cx="230.2" cy="343.4" rx="30.5" ry="7.0" fill="#2a20ff" transform="rotate(65.1 230 346)"/><ellipse cx="227.2" cy="345.8" rx="32.0" ry="7.0" fill="#2a20ff" transform="rotate(79.4 230 346)"/><ellipse cx="230.1" cy="346.8" rx="37.2" ry="7.0" fill="#2a20ff" transform="rotate(96.2 230 346)"/><ellipse cx="229.7" cy="344.7" rx="36.1" ry="7.0" fill="#2a20ff" transform="rotate(110.8 230 346)"/><ellipse cx="232.0" cy="347.2" rx="40.5" ry="7.0" fill="#2a20ff" transform="rotate(130.6 230 346)"/><ellipse cx="228.7" cy="343.4" rx="33.9" ry="7.0" fill="#2a20ff" transform="rotate(136.2 230 346)"/><ellipse cx="232.1" cy="345.3" rx="37.0" ry="7.0" fill="#2a20ff" transform="rotate(155.5 230 346)"/><ellipse cx="227.0" cy="344.3" rx="42.3" ry="7.0" fill="#2a20ff" transform="rotate(171.7 230 346)"/><ellipse cx="230" cy="346" rx="24.8" ry="21.7" fill="#2a20ff"/>
</g>
<g filter="url(#mot2)">
<ellipse cx="200" cy="145" rx="33" ry="33" fill="none" stroke="#2212d0" stroke-width="5" opacity="0.93" transform="rotate(-10 200 145)"/>
<ellipse cx="291" cy="172" rx="53" ry="29" fill="none" stroke="#2212d0" stroke-width="5" opacity="0.69" transform="rotate(5 291 172)"/>
<ellipse cx="391" cy="150" rx="43" ry="42" fill="none" stroke="#2212d0" stroke-width="5" opacity="0.65"/>
<ellipse cx="498" cy="190" rx="52" ry="40" fill="none" stroke="#2212d0" stroke-width="5" opacity="0.65"/>
<ellipse cx="45" cy="205" rx="39" ry="30" fill="none" stroke="#2212d0" stroke-width="5" opacity="0.61"/>
<ellipse cx="152" cy="219" rx="35" ry="29" fill="none" stroke="#2212d0" stroke-width="5" opacity="0.72"/>
<ellipse cx="94" cy="275" rx="38" ry="31" fill="none" stroke="#2212d0" stroke-width="5" opacity="0.72"/>
<ellipse cx="347" cy="308" rx="30" ry="28" fill="none" stroke="#2212d0" stroke-width="5" opacity="0.86"/>
<ellipse cx="424" cy="314" rx="43" ry="43" fill="none" stroke="#2212d0" stroke-width="5" opacity="0.69"/>
<ellipse cx="517" cy="394" rx="38" ry="29" fill="none" stroke="#2212d0" stroke-width="5" opacity="0.69"/>
<ellipse cx="87" cy="370" rx="33" ry="32" fill="none" stroke="#2212d0" stroke-width="5" opacity="0.54"/>
<ellipse cx="503" cy="450" rx="50" ry="22" fill="none" stroke="#2212d0" stroke-width="5" opacity="0.51"/>
<ellipse cx="146" cy="470" rx="28" ry="17" fill="none" stroke="#2212d0" stroke-width="5" opacity="0.51"/>
<ellipse cx="440" cy="10" rx="27" ry="19" fill="none" stroke="#2212d0" stroke-width="5" opacity="0.58"/>
<ellipse cx="521" cy="40" rx="27" ry="30" fill="none" stroke="#2212d0" stroke-width="5" opacity="0.51" transform="rotate(-20 521 40)"/>
<ellipse cx="129" cy="2" rx="19" ry="5" fill="none" stroke="#2212d0" stroke-width="5" opacity="0.65"/>
<ellipse cx="177" cy="99" rx="17" ry="17" fill="none" stroke="#2212d0" stroke-width="5" opacity="0.40"/>
</g>
<g filter="url(#ovTex)" opacity="0.30">
<ellipse cx="168" cy="138" rx="20" ry="65" fill="#ff2040" transform="rotate(5 168 138)"/>
<ellipse cx="241" cy="241" rx="62" ry="50" fill="#ff2040" opacity="0.60"/>
<ellipse cx="226" cy="346" rx="74" ry="57" fill="#ff2040"/>
<ellipse cx="292" cy="304" rx="28" ry="25" fill="#ff2040" opacity="0.90"/>
<ellipse cx="433" cy="300" rx="50" ry="40" fill="#ff2040" opacity="0.55"/>
<ellipse cx="392" cy="170" rx="52" ry="29" fill="#ff2040" opacity="0.45"/>
<ellipse cx="476" cy="50" rx="15" ry="48" fill="#ff2040" opacity="0.60" transform="rotate(30 476 50)"/>
<ellipse cx="497" cy="432" rx="57" ry="38" fill="#ff2040" opacity="0.70"/>
<ellipse cx="538" cy="237" rx="21" ry="19" fill="#ff2040" opacity="0.60"/>
<ellipse cx="95" cy="270" rx="30" ry="20" fill="#ff2040" opacity="0.35"/>
<ellipse cx="172" cy="95" rx="16" ry="22" fill="#ff2040"/>
</g>
</g></g></g>
<clipPath id="cM"><rect x="0" y="0" width="563" height="476"/></clipPath>
<g transform="translate(1783 50)" clip-path="url(#cM)">
<rect width="563" height="476" fill="#03020e"/>
<g><g transform="translate(0 0)">
<g filter="url(#redTex)">
<ellipse cx="168" cy="138" rx="20" ry="65" fill="#a81410" transform="rotate(5 168 138)"/>
<ellipse cx="241" cy="241" rx="62" ry="50" fill="#a81410" opacity="0.78"/>
<ellipse cx="226" cy="346" rx="74" ry="57" fill="#a81410"/>
<ellipse cx="292" cy="304" rx="28" ry="25" fill="#a81410" opacity="0.95"/>
<ellipse cx="433" cy="300" rx="50" ry="40" fill="#a81410" opacity="0.75"/>
<ellipse cx="392" cy="170" rx="52" ry="29" fill="#a81410" opacity="0.70"/>
<ellipse cx="476" cy="50" rx="15" ry="48" fill="#a81410" opacity="0.78" transform="rotate(30 476 50)"/>
<ellipse cx="497" cy="432" rx="57" ry="38" fill="#a81410" opacity="0.83"/>
<ellipse cx="538" cy="237" rx="21" ry="19" fill="#a81410" opacity="0.78"/>
<ellipse cx="95" cy="270" rx="30" ry="20" fill="#a81410" opacity="0.64"/>
<ellipse cx="172" cy="95" rx="16" ry="22" fill="#a81410"/>
</g>
<g filter="url(#nucBase)">
<ellipse cx="200" cy="145" rx="36" ry="36" fill="#0c0670" opacity="0.95" transform="rotate(-10 200 145)"/>
<ellipse cx="291" cy="172" rx="56" ry="32" fill="#0c0670" opacity="0.78" transform="rotate(5 291 172)"/>
<ellipse cx="391" cy="150" rx="46" ry="45" fill="#0c0670" opacity="0.75"/>
<ellipse cx="498" cy="190" rx="55" ry="43" fill="#0c0670" opacity="0.75"/>
<ellipse cx="45" cy="205" rx="42" ry="33" fill="#0c0670" opacity="0.72"/>
<ellipse cx="152" cy="219" rx="38" ry="32" fill="#0c0670" opacity="0.80"/>
<ellipse cx="243.8" cy="244.2" rx="43.4" ry="5.4" fill="#0c0670" transform="rotate(17.6 246 242)"/><ellipse cx="248.4" cy="239.5" rx="44.1" ry="5.4" fill="#0c0670" transform="rotate(25.9 246 242)"/><ellipse cx="243.2" cy="241.3" rx="38.6" ry="5.4" fill="#0c0670" transform="rotate(46.3 246 242)"/><ellipse cx="247.4" cy="239.9" rx="32.0" ry="5.4" fill="#0c0670" transform="rotate(62.0 246 242)"/><ellipse cx="246.0" cy="244.5" rx="27.3" ry="5.4" fill="#0c0670" transform="rotate(70.2 246 242)"/><ellipse cx="245.3" cy="243.5" rx="29.3" ry="5.4" fill="#0c0670" transform="rotate(88.3 246 242)"/><ellipse cx="247.0" cy="243.4" rx="25.3" ry="5.4" fill="#0c0670" transform="rotate(96.3 246 242)"/><ellipse cx="244.6" cy="240.3" rx="23.6" ry="5.4" fill="#0c0670" transform="rotate(114.0 246 242)"/><ellipse cx="244.2" cy="244.3" rx="29.4" ry="5.4" fill="#0c0670" transform="rotate(126.1 246 242)"/><ellipse cx="245.3" cy="242.0" rx="27.1" ry="5.4" fill="#0c0670" transform="rotate(147.2 246 242)"/><ellipse cx="248.4" cy="239.7" rx="30.9" ry="5.4" fill="#0c0670" transform="rotate(150.7 246 242)"/><ellipse cx="246.5" cy="244.4" rx="34.5" ry="5.4" fill="#0c0670" transform="rotate(171.5 246 242)"/><ellipse cx="243.5" cy="242.2" rx="36.2" ry="5.4" fill="#0c0670" transform="rotate(180.6 246 242)"/><ellipse cx="246" cy="242" rx="28.52" ry="16.74" fill="#0c0670" transform="rotate(18 246 242)"/>
<ellipse cx="94" cy="275" rx="41" ry="34" fill="#0c0670" opacity="0.80"/>
<ellipse cx="232.5" cy="345.8" rx="39.6" ry="7.0" fill="#0c0670" transform="rotate(-0.6 230 346)"/><ellipse cx="228.1" cy="346.1" rx="39.5" ry="7.0" fill="#0c0670" transform="rotate(13.9 230 346)"/><ellipse cx="227.6" cy="344.8" rx="40.5" ry="7.0" fill="#0c0670" transform="rotate(29.3 230 346)"/><ellipse cx="231.2" cy="343.3" rx="40.0" ry="7.0" fill="#0c0670" transform="rotate(36.6 230 346)"/><ellipse cx="230.9" cy="346.7" rx="39.3" ry="7.0" fill="#0c0670" transform="rotate(61.2 230 346)"/><ellipse cx="230.2" cy="343.4" rx="30.5" ry="7.0" fill="#0c0670" transform="rotate(65.1 230 346)"/><ellipse cx="227.2" cy="345.8" rx="32.0" ry="7.0" fill="#0c0670" transform="rotate(79.4 230 346)"/><ellipse cx="230.1" cy="346.8" rx="37.2" ry="7.0" fill="#0c0670" transform="rotate(96.2 230 346)"/><ellipse cx="229.7" cy="344.7" rx="36.1" ry="7.0" fill="#0c0670" transform="rotate(110.8 230 346)"/><ellipse cx="232.0" cy="347.2" rx="40.5" ry="7.0" fill="#0c0670" transform="rotate(130.6 230 346)"/><ellipse cx="228.7" cy="343.4" rx="33.9" ry="7.0" fill="#0c0670" transform="rotate(136.2 230 346)"/><ellipse cx="232.1" cy="345.3" rx="37.0" ry="7.0" fill="#0c0670" transform="rotate(155.5 230 346)"/><ellipse cx="227.0" cy="344.3" rx="42.3" ry="7.0" fill="#0c0670" transform="rotate(171.7 230 346)"/><ellipse cx="230" cy="346" rx="24.8" ry="21.7" fill="#0c0670"/>
<ellipse cx="347" cy="308" rx="33" ry="31" fill="#0c0670" opacity="0.90"/>
<ellipse cx="424" cy="314" rx="46" ry="46" fill="#0c0670" opacity="0.78"/>
<ellipse cx="517" cy="394" rx="41" ry="32" fill="#0c0670" opacity="0.78"/>
<ellipse cx="87" cy="370" rx="36" ry="35" fill="#0c0670" opacity="0.68"/>
<ellipse cx="503" cy="450" rx="53" ry="25" fill="#0c0670" opacity="0.65"/>
<ellipse cx="146" cy="470" rx="31" ry="20" fill="#0c0670" opacity="0.65"/>
<ellipse cx="440" cy="10" rx="30" ry="22" fill="#0c0670" opacity="0.70"/>
<ellipse cx="521" cy="40" rx="30" ry="33" fill="#0c0670" opacity="0.65" transform="rotate(-20 521 40)"/>
<ellipse cx="129" cy="2" rx="22" ry="8" fill="#0c0670" opacity="0.75"/>
<ellipse cx="177" cy="99" rx="20" ry="20" fill="#0c0670" opacity="0.57"/>
</g>
<g filter="url(#mot)">
<ellipse cx="200" cy="145" rx="36" ry="36" fill="#1c10b8" opacity="0.87" transform="rotate(-10 200 145)"/>
<ellipse cx="291" cy="172" rx="56" ry="32" fill="#1c10b8" opacity="0.59" transform="rotate(5 291 172)"/>
<ellipse cx="391" cy="150" rx="46" ry="45" fill="#1c10b8" opacity="0.55"/>
<ellipse cx="498" cy="190" rx="55" ry="43" fill="#1c10b8" opacity="0.55"/>
<ellipse cx="45" cy="205" rx="42" ry="33" fill="#1c10b8" opacity="0.51"/>
<ellipse cx="152" cy="219" rx="38" ry="32" fill="#1c10b8" opacity="0.63"/>
<ellipse cx="243.8" cy="244.2" rx="43.4" ry="5.4" fill="#1c10b8" transform="rotate(17.6 246 242)" opacity="0.95"/><ellipse cx="248.4" cy="239.5" rx="44.1" ry="5.4" fill="#1c10b8" transform="rotate(25.9 246 242)" opacity="0.95"/><ellipse cx="243.2" cy="241.3" rx="38.6" ry="5.4" fill="#1c10b8" transform="rotate(46.3 246 242)" opacity="0.95"/><ellipse cx="247.4" cy="239.9" rx="32.0" ry="5.4" fill="#1c10b8" transform="rotate(62.0 246 242)" opacity="0.95"/><ellipse cx="246.0" cy="244.5" rx="27.3" ry="5.4" fill="#1c10b8" transform="rotate(70.2 246 242)" opacity="0.95"/><ellipse cx="245.3" cy="243.5" rx="29.3" ry="5.4" fill="#1c10b8" transform="rotate(88.3 246 242)" opacity="0.95"/><ellipse cx="247.0" cy="243.4" rx="25.3" ry="5.4" fill="#1c10b8" transform="rotate(96.3 246 242)" opacity="0.95"/><ellipse cx="244.6" cy="240.3" rx="23.6" ry="5.4" fill="#1c10b8" transform="rotate(114.0 246 242)" opacity="0.95"/><ellipse cx="244.2" cy="244.3" rx="29.4" ry="5.4" fill="#1c10b8" transform="rotate(126.1 246 242)" opacity="0.95"/><ellipse cx="245.3" cy="242.0" rx="27.1" ry="5.4" fill="#1c10b8" transform="rotate(147.2 246 242)" opacity="0.95"/><ellipse cx="248.4" cy="239.7" rx="30.9" ry="5.4" fill="#1c10b8" transform="rotate(150.7 246 242)" opacity="0.95"/><ellipse cx="246.5" cy="244.4" rx="34.5" ry="5.4" fill="#1c10b8" transform="rotate(171.5 246 242)" opacity="0.95"/><ellipse cx="243.5" cy="242.2" rx="36.2" ry="5.4" fill="#1c10b8" transform="rotate(180.6 246 242)" opacity="0.95"/><ellipse cx="246" cy="242" rx="28.52" ry="16.74" fill="#1c10b8" opacity="0.95" transform="rotate(18 246 242)"/>
<ellipse cx="94" cy="275" rx="41" ry="34" fill="#1c10b8" opacity="0.63"/>
<ellipse cx="232.5" cy="345.8" rx="39.6" ry="7.0" fill="#1c10b8" transform="rotate(-0.6 230 346)" opacity="0.95"/><ellipse cx="228.1" cy="346.1" rx="39.5" ry="7.0" fill="#1c10b8" transform="rotate(13.9 230 346)" opacity="0.95"/><ellipse cx="227.6" cy="344.8" rx="40.5" ry="7.0" fill="#1c10b8" transform="rotate(29.3 230 346)" opacity="0.95"/><ellipse cx="231.2" cy="343.3" rx="40.0" ry="7.0" fill="#1c10b8" transform="rotate(36.6 230 346)" opacity="0.95"/><ellipse cx="230.9" cy="346.7" rx="39.3" ry="7.0" fill="#1c10b8" transform="rotate(61.2 230 346)" opacity="0.95"/><ellipse cx="230.2" cy="343.4" rx="30.5" ry="7.0" fill="#1c10b8" transform="rotate(65.1 230 346)" opacity="0.95"/><ellipse cx="227.2" cy="345.8" rx="32.0" ry="7.0" fill="#1c10b8" transform="rotate(79.4 230 346)" opacity="0.95"/><ellipse cx="230.1" cy="346.8" rx="37.2" ry="7.0" fill="#1c10b8" transform="rotate(96.2 230 346)" opacity="0.95"/><ellipse cx="229.7" cy="344.7" rx="36.1" ry="7.0" fill="#1c10b8" transform="rotate(110.8 230 346)" opacity="0.95"/><ellipse cx="232.0" cy="347.2" rx="40.5" ry="7.0" fill="#1c10b8" transform="rotate(130.6 230 346)" opacity="0.95"/><ellipse cx="228.7" cy="343.4" rx="33.9" ry="7.0" fill="#1c10b8" transform="rotate(136.2 230 346)" opacity="0.95"/><ellipse cx="232.1" cy="345.3" rx="37.0" ry="7.0" fill="#1c10b8" transform="rotate(155.5 230 346)" opacity="0.95"/><ellipse cx="227.0" cy="344.3" rx="42.3" ry="7.0" fill="#1c10b8" transform="rotate(171.7 230 346)" opacity="0.95"/><ellipse cx="230" cy="346" rx="24.8" ry="21.7" fill="#1c10b8" opacity="0.95"/>
<ellipse cx="347" cy="308" rx="33" ry="31" fill="#1c10b8" opacity="0.79"/>
<ellipse cx="424" cy="314" rx="46" ry="46" fill="#1c10b8" opacity="0.59"/>
<ellipse cx="517" cy="394" rx="41" ry="32" fill="#1c10b8" opacity="0.59"/>
<ellipse cx="87" cy="370" rx="36" ry="35" fill="#1c10b8" opacity="0.43"/>
<ellipse cx="503" cy="450" rx="53" ry="25" fill="#1c10b8" opacity="0.39"/>
<ellipse cx="146" cy="470" rx="31" ry="20" fill="#1c10b8" opacity="0.39"/>
<ellipse cx="440" cy="10" rx="30" ry="22" fill="#1c10b8" opacity="0.47"/>
<ellipse cx="521" cy="40" rx="30" ry="33" fill="#1c10b8" opacity="0.39" transform="rotate(-20 521 40)"/>
<ellipse cx="129" cy="2" rx="22" ry="8" fill="#1c10b8" opacity="0.55"/>
<ellipse cx="177" cy="99" rx="20" ry="20" fill="#1c10b8" opacity="0.27"/>
</g>
<g filter="url(#nucBase)">
<ellipse cx="243.8" cy="244.2" rx="43.4" ry="5.4" fill="#3020e8" transform="rotate(17.6 246 242)"/><ellipse cx="248.4" cy="239.5" rx="44.1" ry="5.4" fill="#3020e8" transform="rotate(25.9 246 242)"/><ellipse cx="243.2" cy="241.3" rx="38.6" ry="5.4" fill="#3020e8" transform="rotate(46.3 246 242)"/><ellipse cx="247.4" cy="239.9" rx="32.0" ry="5.4" fill="#3020e8" transform="rotate(62.0 246 242)"/><ellipse cx="246.0" cy="244.5" rx="27.3" ry="5.4" fill="#3020e8" transform="rotate(70.2 246 242)"/><ellipse cx="245.3" cy="243.5" rx="29.3" ry="5.4" fill="#3020e8" transform="rotate(88.3 246 242)"/><ellipse cx="247.0" cy="243.4" rx="25.3" ry="5.4" fill="#3020e8" transform="rotate(96.3 246 242)"/><ellipse cx="244.6" cy="240.3" rx="23.6" ry="5.4" fill="#3020e8" transform="rotate(114.0 246 242)"/><ellipse cx="244.2" cy="244.3" rx="29.4" ry="5.4" fill="#3020e8" transform="rotate(126.1 246 242)"/><ellipse cx="245.3" cy="242.0" rx="27.1" ry="5.4" fill="#3020e8" transform="rotate(147.2 246 242)"/><ellipse cx="248.4" cy="239.7" rx="30.9" ry="5.4" fill="#3020e8" transform="rotate(150.7 246 242)"/><ellipse cx="246.5" cy="244.4" rx="34.5" ry="5.4" fill="#3020e8" transform="rotate(171.5 246 242)"/><ellipse cx="243.5" cy="242.2" rx="36.2" ry="5.4" fill="#3020e8" transform="rotate(180.6 246 242)"/><ellipse cx="246" cy="242" rx="28.52" ry="16.74" fill="#3020e8" transform="rotate(18 246 242)"/>
<ellipse cx="232.5" cy="345.8" rx="39.6" ry="7.0" fill="#3020e8" transform="rotate(-0.6 230 346)"/><ellipse cx="228.1" cy="346.1" rx="39.5" ry="7.0" fill="#3020e8" transform="rotate(13.9 230 346)"/><ellipse cx="227.6" cy="344.8" rx="40.5" ry="7.0" fill="#3020e8" transform="rotate(29.3 230 346)"/><ellipse cx="231.2" cy="343.3" rx="40.0" ry="7.0" fill="#3020e8" transform="rotate(36.6 230 346)"/><ellipse cx="230.9" cy="346.7" rx="39.3" ry="7.0" fill="#3020e8" transform="rotate(61.2 230 346)"/><ellipse cx="230.2" cy="343.4" rx="30.5" ry="7.0" fill="#3020e8" transform="rotate(65.1 230 346)"/><ellipse cx="227.2" cy="345.8" rx="32.0" ry="7.0" fill="#3020e8" transform="rotate(79.4 230 346)"/><ellipse cx="230.1" cy="346.8" rx="37.2" ry="7.0" fill="#3020e8" transform="rotate(96.2 230 346)"/><ellipse cx="229.7" cy="344.7" rx="36.1" ry="7.0" fill="#3020e8" transform="rotate(110.8 230 346)"/><ellipse cx="232.0" cy="347.2" rx="40.5" ry="7.0" fill="#3020e8" transform="rotate(130.6 230 346)"/><ellipse cx="228.7" cy="343.4" rx="33.9" ry="7.0" fill="#3020e8" transform="rotate(136.2 230 346)"/><ellipse cx="232.1" cy="345.3" rx="37.0" ry="7.0" fill="#3020e8" transform="rotate(155.5 230 346)"/><ellipse cx="227.0" cy="344.3" rx="42.3" ry="7.0" fill="#3020e8" transform="rotate(171.7 230 346)"/><ellipse cx="230" cy="346" rx="24.8" ry="21.7" fill="#3020e8"/>
</g>
<g filter="url(#mot2)">
<ellipse cx="200" cy="145" rx="33" ry="33" fill="none" stroke="#1c10b8" stroke-width="5" opacity="0.93" transform="rotate(-10 200 145)"/>
<ellipse cx="291" cy="172" rx="53" ry="29" fill="none" stroke="#1c10b8" stroke-width="5" opacity="0.69" transform="rotate(5 291 172)"/>
<ellipse cx="391" cy="150" rx="43" ry="42" fill="none" stroke="#1c10b8" stroke-width="5" opacity="0.65"/>
<ellipse cx="498" cy="190" rx="52" ry="40" fill="none" stroke="#1c10b8" stroke-width="5" opacity="0.65"/>
<ellipse cx="45" cy="205" rx="39" ry="30" fill="none" stroke="#1c10b8" stroke-width="5" opacity="0.61"/>
<ellipse cx="152" cy="219" rx="35" ry="29" fill="none" stroke="#1c10b8" stroke-width="5" opacity="0.72"/>
<ellipse cx="94" cy="275" rx="38" ry="31" fill="none" stroke="#1c10b8" stroke-width="5" opacity="0.72"/>
<ellipse cx="347" cy="308" rx="30" ry="28" fill="none" stroke="#1c10b8" stroke-width="5" opacity="0.86"/>
<ellipse cx="424" cy="314" rx="43" ry="43" fill="none" stroke="#1c10b8" stroke-width="5" opacity="0.69"/>
<ellipse cx="517" cy="394" rx="38" ry="29" fill="none" stroke="#1c10b8" stroke-width="5" opacity="0.69"/>
<ellipse cx="87" cy="370" rx="33" ry="32" fill="none" stroke="#1c10b8" stroke-width="5" opacity="0.54"/>
<ellipse cx="503" cy="450" rx="50" ry="22" fill="none" stroke="#1c10b8" stroke-width="5" opacity="0.51"/>
<ellipse cx="146" cy="470" rx="28" ry="17" fill="none" stroke="#1c10b8" stroke-width="5" opacity="0.51"/>
<ellipse cx="440" cy="10" rx="27" ry="19" fill="none" stroke="#1c10b8" stroke-width="5" opacity="0.58"/>
<ellipse cx="521" cy="40" rx="27" ry="30" fill="none" stroke="#1c10b8" stroke-width="5" opacity="0.51" transform="rotate(-20 521 40)"/>
<ellipse cx="129" cy="2" rx="19" ry="5" fill="none" stroke="#1c10b8" stroke-width="5" opacity="0.65"/>
<ellipse cx="177" cy="99" rx="17" ry="17" fill="none" stroke="#1c10b8" stroke-width="5" opacity="0.40"/>
</g>
<g filter="url(#speckA)">
<ellipse cx="200" cy="145" rx="34.2" ry="34.2" fill="#fff4e0" opacity="0.87" transform="rotate(-10 200 145)"/>
<ellipse cx="291" cy="172" rx="53.2" ry="30.4" fill="#fff4e0" opacity="0.51" transform="rotate(5 291 172)"/>
<ellipse cx="391" cy="150" rx="43.7" ry="42.75" fill="#fff4e0" opacity="0.47"/>
<ellipse cx="498" cy="190" rx="52.25" ry="40.85" fill="#fff4e0" opacity="0.47"/>
<ellipse cx="45" cy="205" rx="39.9" ry="31.35" fill="#fff4e0" opacity="0.44"/>
<ellipse cx="152" cy="219" rx="36.1" ry="30.4" fill="#fff4e0" opacity="0.55"/>
<ellipse cx="243.8" cy="244.2" rx="41.2" ry="5.1" fill="#fff4e0" transform="rotate(17.6 246 242)"/><ellipse cx="248.4" cy="239.5" rx="41.9" ry="5.1" fill="#fff4e0" transform="rotate(25.9 246 242)"/><ellipse cx="243.2" cy="241.3" rx="36.7" ry="5.1" fill="#fff4e0" transform="rotate(46.3 246 242)"/><ellipse cx="247.4" cy="239.9" rx="30.4" ry="5.1" fill="#fff4e0" transform="rotate(62.0 246 242)"/><ellipse cx="246.0" cy="244.5" rx="25.9" ry="5.1" fill="#fff4e0" transform="rotate(70.2 246 242)"/><ellipse cx="245.3" cy="243.5" rx="27.8" ry="5.1" fill="#fff4e0" transform="rotate(88.3 246 242)"/><ellipse cx="247.0" cy="243.4" rx="24.0" ry="5.1" fill="#fff4e0" transform="rotate(96.3 246 242)"/><ellipse cx="244.6" cy="240.3" rx="22.4" ry="5.1" fill="#fff4e0" transform="rotate(114.0 246 242)"/><ellipse cx="244.2" cy="244.3" rx="27.9" ry="5.1" fill="#fff4e0" transform="rotate(126.1 246 242)"/><ellipse cx="245.3" cy="242.0" rx="25.8" ry="5.1" fill="#fff4e0" transform="rotate(147.2 246 242)"/><ellipse cx="248.4" cy="239.7" rx="29.4" ry="5.1" fill="#fff4e0" transform="rotate(150.7 246 242)"/><ellipse cx="246.5" cy="244.4" rx="32.8" ry="5.1" fill="#fff4e0" transform="rotate(171.5 246 242)"/><ellipse cx="243.5" cy="242.2" rx="34.4" ry="5.1" fill="#fff4e0" transform="rotate(180.6 246 242)"/><ellipse cx="246" cy="242" rx="27.094" ry="15.903" fill="#fff4e0" transform="rotate(18 246 242)"/>
<ellipse cx="94" cy="275" rx="38.95" ry="32.3" fill="#fff4e0" opacity="0.55"/>
<ellipse cx="232.5" cy="345.8" rx="37.6" ry="6.7" fill="#fff4e0" transform="rotate(-0.6 230 346)"/><ellipse cx="228.1" cy="346.1" rx="37.5" ry="6.7" fill="#fff4e0" transform="rotate(13.9 230 346)"/><ellipse cx="227.6" cy="344.8" rx="38.5" ry="6.7" fill="#fff4e0" transform="rotate(29.3 230 346)"/><ellipse cx="231.2" cy="343.3" rx="38.0" ry="6.7" fill="#fff4e0" transform="rotate(36.6 230 346)"/><ellipse cx="230.9" cy="346.7" rx="37.3" ry="6.7" fill="#fff4e0" transform="rotate(61.2 230 346)"/><ellipse cx="230.2" cy="343.4" rx="29.0" ry="6.7" fill="#fff4e0" transform="rotate(65.1 230 346)"/><ellipse cx="227.2" cy="345.8" rx="30.4" ry="6.7" fill="#fff4e0" transform="rotate(79.4 230 346)"/><ellipse cx="230.1" cy="346.8" rx="35.3" ry="6.7" fill="#fff4e0" transform="rotate(96.2 230 346)"/><ellipse cx="229.7" cy="344.7" rx="34.3" ry="6.7" fill="#fff4e0" transform="rotate(110.8 230 346)"/><ellipse cx="232.0" cy="347.2" rx="38.5" ry="6.7" fill="#fff4e0" transform="rotate(130.6 230 346)"/><ellipse cx="228.7" cy="343.4" rx="32.2" ry="6.7" fill="#fff4e0" transform="rotate(136.2 230 346)"/><ellipse cx="232.1" cy="345.3" rx="35.2" ry="6.7" fill="#fff4e0" transform="rotate(155.5 230 346)"/><ellipse cx="227.0" cy="344.3" rx="40.2" ry="6.7" fill="#fff4e0" transform="rotate(171.7 230 346)"/><ellipse cx="230" cy="346" rx="23.56" ry="20.615" fill="#fff4e0"/>
<ellipse cx="347" cy="308" rx="31.35" ry="29.45" fill="#fff4e0" opacity="0.75"/>
<ellipse cx="424" cy="314" rx="43.7" ry="43.7" fill="#fff4e0" opacity="0.51"/>
<ellipse cx="517" cy="394" rx="38.95" ry="30.4" fill="#fff4e0" opacity="0.51"/>
<ellipse cx="87" cy="370" rx="34.2" ry="33.25" fill="#fff4e0" opacity="0.39"/>
<ellipse cx="503" cy="450" rx="50.35" ry="23.75" fill="#fff4e0" opacity="0.36"/>
<ellipse cx="146" cy="470" rx="29.45" ry="19" fill="#fff4e0" opacity="0.36"/>
<ellipse cx="440" cy="10" rx="28.5" ry="20.9" fill="#fff4e0" opacity="0.41"/>
<ellipse cx="521" cy="40" rx="28.5" ry="31.35" fill="#fff4e0" opacity="0.36" transform="rotate(-20 521 40)"/>
<ellipse cx="129" cy="2" rx="20.9" ry="7.6" fill="#fff4e0" opacity="0.47"/>
<ellipse cx="177" cy="99" rx="19" ry="19" fill="#fff4e0" opacity="0.32"/>
</g>
</g></g></g>
<clipPath id="cB"><rect x="0" y="0" width="562" height="471"/></clipPath>
<g transform="translate(63 536)" clip-path="url(#cB)">
<rect width="562" height="471" fill="#03020e"/>
<g><g transform="translate(0 0)">
<g filter="url(#redTex)">
<ellipse cx="250" cy="200" rx="30" ry="16" fill="#f01848" opacity="0.95"/>
<ellipse cx="280" cy="165" rx="8" ry="50" fill="#f01848" opacity="0.89" transform="rotate(-10 280 165)"/>
<ellipse cx="307" cy="137" rx="16" ry="12" fill="#f01848" opacity="0.95"/>
<ellipse cx="325" cy="195" rx="10" ry="8" fill="#f01848" opacity="0.89"/>
<ellipse cx="150" cy="238" rx="45" ry="26" fill="#f01848" opacity="0.95" transform="rotate(-10 150 238)"/>
<ellipse cx="226" cy="260" rx="16" ry="35" fill="#f01848" opacity="0.78"/>
<ellipse cx="307" cy="252" rx="35" ry="35" fill="#f01848" opacity="0.89"/>
<ellipse cx="418" cy="345" rx="42" ry="17" fill="#f01848" opacity="0.95" transform="rotate(-15 418 345)"/>
<ellipse cx="458" cy="385" rx="10" ry="35" fill="#f01848" opacity="0.83"/>
<ellipse cx="340" cy="425" rx="30" ry="14" fill="#f01848" transform="rotate(-15 340 425)"/>
<ellipse cx="385" cy="418" rx="25" ry="12" fill="#f01848" opacity="0.83" transform="rotate(-20 385 418)"/>
<ellipse cx="100" cy="366" rx="25" ry="12" fill="#f01848" opacity="0.61"/>
<ellipse cx="102" cy="111" rx="8" ry="6" fill="#f01848" opacity="0.78"/>
</g>
<g filter="url(#nucBase)">
<ellipse cx="150" cy="146" rx="32" ry="41" fill="#2aa5ce" opacity="0.97" transform="rotate(-10 150 146)"/>
<ellipse cx="248" cy="164" rx="37" ry="51" fill="#2dabd1" transform="rotate(-15 248 164)"/>
<ellipse cx="182" cy="284" rx="60" ry="58" fill="#2dabd1"/>
<ellipse cx="296" cy="291" rx="38" ry="50" fill="#208ec0" opacity="0.88" transform="rotate(-10 296 291)"/>
<ellipse cx="164" cy="362" rx="35" ry="28" fill="#2293c4" opacity="0.90" transform="rotate(10 164 362)"/>
<ellipse cx="405" cy="375" rx="55" ry="36" fill="#2dabd1" transform="rotate(-20 405 375)"/>
<ellipse cx="366" cy="445" rx="48" ry="30" fill="#208ec0" opacity="0.88" transform="rotate(-20 366 445)"/>
<ellipse cx="495" cy="10" rx="30" ry="22" fill="#1270b0" opacity="0.68"/>
<ellipse cx="2" cy="325" rx="8" ry="28" fill="#1270b0" opacity="0.56"/>
<ellipse cx="10" cy="430" rx="20" ry="40" fill="#1270b0" opacity="0.56"/>
</g>
<g filter="url(#mot)">
<ellipse cx="150" cy="146" rx="32" ry="41" fill="#48e6f2" transform="rotate(-10 150 146)"/>
<ellipse cx="248" cy="164" rx="37" ry="51" fill="#48e6f2" transform="rotate(-15 248 164)"/>
<ellipse cx="182" cy="284" rx="60" ry="58" fill="#48e6f2"/>
<ellipse cx="296" cy="291" rx="38" ry="50" fill="#48e6f2" opacity="0.83" transform="rotate(-10 296 291)"/>
<ellipse cx="164" cy="362" rx="35" ry="28" fill="#48e6f2" opacity="0.87" transform="rotate(10 164 362)"/>
<ellipse cx="405" cy="375" rx="55" ry="36" fill="#48e6f2" transform="rotate(-20 405 375)"/>
<ellipse cx="366" cy="445" rx="48" ry="30" fill="#48e6f2" opacity="0.83" transform="rotate(-20 366 445)"/>
<ellipse cx="495" cy="10" rx="30" ry="22" fill="#48e6f2" opacity="0.46"/>
<ellipse cx="2" cy="325" rx="8" ry="28" fill="#48e6f2" opacity="0.26"/>
<ellipse cx="10" cy="430" rx="20" ry="40" fill="#48e6f2" opacity="0.26"/>
</g>
<g filter="url(#nucBase)">
</g>
<g filter="url(#mot2)">
<ellipse cx="150" cy="146" rx="29" ry="38" fill="none" stroke="#48e6f2" stroke-width="5" opacity="0.96" transform="rotate(-10 150 146)"/>
<ellipse cx="248" cy="164" rx="34" ry="48" fill="none" stroke="#48e6f2" stroke-width="5" opacity="1.00" transform="rotate(-15 248 164)"/>
<ellipse cx="182" cy="284" rx="57" ry="55" fill="none" stroke="#48e6f2" stroke-width="5" opacity="1.00"/>
<ellipse cx="296" cy="291" rx="35" ry="47" fill="none" stroke="#48e6f2" stroke-width="5" opacity="0.82" transform="rotate(-10 296 291)"/>
<ellipse cx="164" cy="362" rx="32" ry="25" fill="none" stroke="#48e6f2" stroke-width="5" opacity="0.86" transform="rotate(10 164 362)"/>
<ellipse cx="405" cy="375" rx="52" ry="33" fill="none" stroke="#48e6f2" stroke-width="5" opacity="1.00" transform="rotate(-20 405 375)"/>
<ellipse cx="366" cy="445" rx="45" ry="27" fill="none" stroke="#48e6f2" stroke-width="5" opacity="0.82" transform="rotate(-20 366 445)"/>
<ellipse cx="495" cy="10" rx="27" ry="19" fill="none" stroke="#48e6f2" stroke-width="5" opacity="0.54"/>
<ellipse cx="2" cy="325" rx="5" ry="25" fill="none" stroke="#48e6f2" stroke-width="5" opacity="0.38"/>
<ellipse cx="10" cy="430" rx="17" ry="37" fill="none" stroke="#48e6f2" stroke-width="5" opacity="0.38"/>
</g>
</g></g></g>
<clipPath id="cF"><rect x="0" y="0" width="563" height="471"/></clipPath>
<g transform="translate(635 536)" clip-path="url(#cF)">
<rect width="563" height="471" fill="#010309"/>
<g><g transform="translate(0 0)">
<g filter="url(#blurHuge)" opacity="0.60">
<ellipse cx="200" cy="250" rx="110" ry="130" fill="#0a3a28" opacity="0.50"/>
<ellipse cx="300" cy="280" rx="60" ry="80" fill="#0a3a28" opacity="0.40"/>
<ellipse cx="390" cy="400" rx="90" ry="70" fill="#0a3a28" opacity="0.50" transform="rotate(-15 390 400)"/>
</g>
<g filter="url(#nucBase)">
<ellipse cx="150" cy="146" rx="32" ry="41" fill="#219da4" opacity="0.97" transform="rotate(-10 150 146)"/>
<ellipse cx="248" cy="164" rx="37" ry="51" fill="#23a3a8" transform="rotate(-15 248 164)"/>
<ellipse cx="182" cy="284" rx="60" ry="58" fill="#23a3a8"/>
<ellipse cx="296" cy="291" rx="38" ry="50" fill="#188694" opacity="0.88" transform="rotate(-10 296 291)"/>
<ellipse cx="164" cy="362" rx="35" ry="28" fill="#1a8c98" opacity="0.90" transform="rotate(10 164 362)"/>
<ellipse cx="405" cy="375" rx="55" ry="36" fill="#23a3a8" transform="rotate(-20 405 375)"/>
<ellipse cx="366" cy="445" rx="48" ry="30" fill="#188694" opacity="0.88" transform="rotate(-20 366 445)"/>
<ellipse cx="495" cy="10" rx="30" ry="22" fill="#0c6a80" opacity="0.68"/>
<ellipse cx="2" cy="325" rx="8" ry="28" fill="#0c6a80" opacity="0.56"/>
<ellipse cx="10" cy="430" rx="20" ry="40" fill="#0c6a80" opacity="0.56"/>
</g>
<g filter="url(#mot)">
<ellipse cx="150" cy="146" rx="32" ry="41" fill="#40e8d8" transform="rotate(-10 150 146)"/>
<ellipse cx="248" cy="164" rx="37" ry="51" fill="#40e8d8" transform="rotate(-15 248 164)"/>
<ellipse cx="182" cy="284" rx="60" ry="58" fill="#40e8d8"/>
<ellipse cx="296" cy="291" rx="38" ry="50" fill="#40e8d8" opacity="0.83" transform="rotate(-10 296 291)"/>
<ellipse cx="164" cy="362" rx="35" ry="28" fill="#40e8d8" opacity="0.87" transform="rotate(10 164 362)"/>
<ellipse cx="405" cy="375" rx="55" ry="36" fill="#40e8d8" transform="rotate(-20 405 375)"/>
<ellipse cx="366" cy="445" rx="48" ry="30" fill="#40e8d8" opacity="0.83" transform="rotate(-20 366 445)"/>
<ellipse cx="495" cy="10" rx="30" ry="22" fill="#40e8d8" opacity="0.46"/>
<ellipse cx="2" cy="325" rx="8" ry="28" fill="#40e8d8" opacity="0.26"/>
<ellipse cx="10" cy="430" rx="20" ry="40" fill="#40e8d8" opacity="0.26"/>
</g>
<g filter="url(#nucBase)">
</g>
<g filter="url(#mot2)">
<ellipse cx="150" cy="146" rx="29" ry="38" fill="none" stroke="#40e8d8" stroke-width="5" opacity="0.96" transform="rotate(-10 150 146)"/>
<ellipse cx="248" cy="164" rx="34" ry="48" fill="none" stroke="#40e8d8" stroke-width="5" opacity="1.00" transform="rotate(-15 248 164)"/>
<ellipse cx="182" cy="284" rx="57" ry="55" fill="none" stroke="#40e8d8" stroke-width="5" opacity="1.00"/>
<ellipse cx="296" cy="291" rx="35" ry="47" fill="none" stroke="#40e8d8" stroke-width="5" opacity="0.82" transform="rotate(-10 296 291)"/>
<ellipse cx="164" cy="362" rx="32" ry="25" fill="none" stroke="#40e8d8" stroke-width="5" opacity="0.86" transform="rotate(10 164 362)"/>
<ellipse cx="405" cy="375" rx="52" ry="33" fill="none" stroke="#40e8d8" stroke-width="5" opacity="1.00" transform="rotate(-20 405 375)"/>
<ellipse cx="366" cy="445" rx="45" ry="27" fill="none" stroke="#40e8d8" stroke-width="5" opacity="0.82" transform="rotate(-20 366 445)"/>
<ellipse cx="495" cy="10" rx="27" ry="19" fill="none" stroke="#40e8d8" stroke-width="5" opacity="0.54"/>
<ellipse cx="2" cy="325" rx="5" ry="25" fill="none" stroke="#40e8d8" stroke-width="5" opacity="0.38"/>
<ellipse cx="10" cy="430" rx="17" ry="37" fill="none" stroke="#40e8d8" stroke-width="5" opacity="0.38"/>
</g>
</g></g></g>
<clipPath id="cJ"><rect x="0" y="0" width="563" height="471"/></clipPath>
<g transform="translate(1207 536)" clip-path="url(#cJ)">
<rect width="563" height="471" fill="#03020e"/>
<g><g transform="translate(0 0)">
<g filter="url(#redTex)">
<ellipse cx="250" cy="200" rx="30" ry="16" fill="#f01438" opacity="0.95"/>
<ellipse cx="280" cy="165" rx="8" ry="50" fill="#f01438" opacity="0.89" transform="rotate(-10 280 165)"/>
<ellipse cx="307" cy="137" rx="16" ry="12" fill="#f01438" opacity="0.95"/>
<ellipse cx="325" cy="195" rx="10" ry="8" fill="#f01438" opacity="0.89"/>
<ellipse cx="150" cy="238" rx="45" ry="26" fill="#f01438" opacity="0.95" transform="rotate(-10 150 238)"/>
<ellipse cx="226" cy="260" rx="16" ry="35" fill="#f01438" opacity="0.78"/>
<ellipse cx="307" cy="252" rx="35" ry="35" fill="#f01438" opacity="0.89"/>
<ellipse cx="418" cy="345" rx="42" ry="17" fill="#f01438" opacity="0.95" transform="rotate(-15 418 345)"/>
<ellipse cx="458" cy="385" rx="10" ry="35" fill="#f01438" opacity="0.83"/>
<ellipse cx="340" cy="425" rx="30" ry="14" fill="#f01438" transform="rotate(-15 340 425)"/>
<ellipse cx="385" cy="418" rx="25" ry="12" fill="#f01438" opacity="0.83" transform="rotate(-20 385 418)"/>
<ellipse cx="100" cy="366" rx="25" ry="12" fill="#f01438" opacity="0.61"/>
<ellipse cx="102" cy="111" rx="8" ry="6" fill="#f01438" opacity="0.78"/>
</g>
<g filter="url(#nucBase)">
<ellipse cx="150" cy="146" rx="32" ry="41" fill="#1408a8" opacity="0.97" transform="rotate(-10 150 146)"/>
<ellipse cx="248" cy="164" rx="37" ry="51" fill="#1408a8" transform="rotate(-15 248 164)"/>
<ellipse cx="182" cy="284" rx="60" ry="58" fill="#1408a8"/>
<ellipse cx="296" cy="291" rx="38" ry="50" fill="#1408a8" opacity="0.88" transform="rotate(-10 296 291)"/>
<ellipse cx="164" cy="362" rx="35" ry="28" fill="#1408a8" opacity="0.90" transform="rotate(10 164 362)"/>
<ellipse cx="405" cy="375" rx="55" ry="36" fill="#1408a8" transform="rotate(-20 405 375)"/>
<ellipse cx="366" cy="445" rx="48" ry="30" fill="#1408a8" opacity="0.88" transform="rotate(-20 366 445)"/>
<ellipse cx="495" cy="10" rx="30" ry="22" fill="#1408a8" opacity="0.68"/>
<ellipse cx="2" cy="325" rx="8" ry="28" fill="#1408a8" opacity="0.56"/>
<ellipse cx="10" cy="430" rx="20" ry="40" fill="#1408a8" opacity="0.56"/>
</g>
<g filter="url(#mot)">
<ellipse cx="150" cy="146" rx="32" ry="41" fill="#2818f0" transform="rotate(-10 150 146)"/>
<ellipse cx="248" cy="164" rx="37" ry="51" fill="#2818f0" transform="rotate(-15 248 164)"/>
<ellipse cx="182" cy="284" rx="60" ry="58" fill="#2818f0"/>
<ellipse cx="296" cy="291" rx="38" ry="50" fill="#2818f0" opacity="0.83" transform="rotate(-10 296 291)"/>
<ellipse cx="164" cy="362" rx="35" ry="28" fill="#2818f0" opacity="0.87" transform="rotate(10 164 362)"/>
<ellipse cx="405" cy="375" rx="55" ry="36" fill="#2818f0" transform="rotate(-20 405 375)"/>
<ellipse cx="366" cy="445" rx="48" ry="30" fill="#2818f0" opacity="0.83" transform="rotate(-20 366 445)"/>
<ellipse cx="495" cy="10" rx="30" ry="22" fill="#2818f0" opacity="0.46"/>
<ellipse cx="2" cy="325" rx="8" ry="28" fill="#2818f0" opacity="0.26"/>
<ellipse cx="10" cy="430" rx="20" ry="40" fill="#2818f0" opacity="0.26"/>
</g>
<g filter="url(#nucBase)">
</g>
<g filter="url(#mot2)">
<ellipse cx="150" cy="146" rx="29" ry="38" fill="none" stroke="#2818f0" stroke-width="5" opacity="0.96" transform="rotate(-10 150 146)"/>
<ellipse cx="248" cy="164" rx="34" ry="48" fill="none" stroke="#2818f0" stroke-width="5" opacity="1.00" transform="rotate(-15 248 164)"/>
<ellipse cx="182" cy="284" rx="57" ry="55" fill="none" stroke="#2818f0" stroke-width="5" opacity="1.00"/>
<ellipse cx="296" cy="291" rx="35" ry="47" fill="none" stroke="#2818f0" stroke-width="5" opacity="0.82" transform="rotate(-10 296 291)"/>
<ellipse cx="164" cy="362" rx="32" ry="25" fill="none" stroke="#2818f0" stroke-width="5" opacity="0.86" transform="rotate(10 164 362)"/>
<ellipse cx="405" cy="375" rx="52" ry="33" fill="none" stroke="#2818f0" stroke-width="5" opacity="1.00" transform="rotate(-20 405 375)"/>
<ellipse cx="366" cy="445" rx="45" ry="27" fill="none" stroke="#2818f0" stroke-width="5" opacity="0.82" transform="rotate(-20 366 445)"/>
<ellipse cx="495" cy="10" rx="27" ry="19" fill="none" stroke="#2818f0" stroke-width="5" opacity="0.54"/>
<ellipse cx="2" cy="325" rx="5" ry="25" fill="none" stroke="#2818f0" stroke-width="5" opacity="0.38"/>
<ellipse cx="10" cy="430" rx="17" ry="37" fill="none" stroke="#2818f0" stroke-width="5" opacity="0.38"/>
</g>
</g></g></g>
<clipPath id="cN"><rect x="0" y="0" width="563" height="472"/></clipPath>
<g transform="translate(1783 536)" clip-path="url(#cN)">
<rect width="563" height="472" fill="#03020e"/>
<g><g transform="translate(0 0)">
<g filter="url(#redTex)">
<ellipse cx="250" cy="200" rx="30" ry="16" fill="#e04818" opacity="0.95"/>
<ellipse cx="280" cy="165" rx="8" ry="50" fill="#e04818" opacity="0.89" transform="rotate(-10 280 165)"/>
<ellipse cx="307" cy="137" rx="16" ry="12" fill="#e04818" opacity="0.95"/>
<ellipse cx="325" cy="195" rx="10" ry="8" fill="#e04818" opacity="0.89"/>
<ellipse cx="150" cy="238" rx="45" ry="26" fill="#e04818" opacity="0.95" transform="rotate(-10 150 238)"/>
<ellipse cx="226" cy="260" rx="16" ry="35" fill="#e04818" opacity="0.78"/>
<ellipse cx="307" cy="252" rx="35" ry="35" fill="#e04818" opacity="0.89"/>
<ellipse cx="418" cy="345" rx="42" ry="17" fill="#e04818" opacity="0.95" transform="rotate(-15 418 345)"/>
<ellipse cx="458" cy="385" rx="10" ry="35" fill="#e04818" opacity="0.83"/>
<ellipse cx="340" cy="425" rx="30" ry="14" fill="#e04818" transform="rotate(-15 340 425)"/>
<ellipse cx="385" cy="418" rx="25" ry="12" fill="#e04818" opacity="0.83" transform="rotate(-20 385 418)"/>
<ellipse cx="100" cy="366" rx="25" ry="12" fill="#e04818" opacity="0.61"/>
<ellipse cx="102" cy="111" rx="8" ry="6" fill="#e04818" opacity="0.78"/>
</g>
<g filter="url(#nucBase)">
<ellipse cx="150" cy="146" rx="32" ry="41" fill="#120898" opacity="0.97" transform="rotate(-10 150 146)"/>
<ellipse cx="248" cy="164" rx="37" ry="51" fill="#120898" transform="rotate(-15 248 164)"/>
<ellipse cx="182" cy="284" rx="60" ry="58" fill="#120898"/>
<ellipse cx="296" cy="291" rx="38" ry="50" fill="#120898" opacity="0.88" transform="rotate(-10 296 291)"/>
<ellipse cx="164" cy="362" rx="35" ry="28" fill="#120898" opacity="0.90" transform="rotate(10 164 362)"/>
<ellipse cx="405" cy="375" rx="55" ry="36" fill="#120898" transform="rotate(-20 405 375)"/>
<ellipse cx="366" cy="445" rx="48" ry="30" fill="#120898" opacity="0.88" transform="rotate(-20 366 445)"/>
<ellipse cx="495" cy="10" rx="30" ry="22" fill="#120898" opacity="0.68"/>
<ellipse cx="2" cy="325" rx="8" ry="28" fill="#120898" opacity="0.56"/>
<ellipse cx="10" cy="430" rx="20" ry="40" fill="#120898" opacity="0.56"/>
</g>
<g filter="url(#mot)">
<ellipse cx="150" cy="146" rx="32" ry="41" fill="#2414dc" transform="rotate(-10 150 146)"/>
<ellipse cx="248" cy="164" rx="37" ry="51" fill="#2414dc" transform="rotate(-15 248 164)"/>
<ellipse cx="182" cy="284" rx="60" ry="58" fill="#2414dc"/>
<ellipse cx="296" cy="291" rx="38" ry="50" fill="#2414dc" opacity="0.83" transform="rotate(-10 296 291)"/>
<ellipse cx="164" cy="362" rx="35" ry="28" fill="#2414dc" opacity="0.87" transform="rotate(10 164 362)"/>
<ellipse cx="405" cy="375" rx="55" ry="36" fill="#2414dc" transform="rotate(-20 405 375)"/>
<ellipse cx="366" cy="445" rx="48" ry="30" fill="#2414dc" opacity="0.83" transform="rotate(-20 366 445)"/>
<ellipse cx="495" cy="10" rx="30" ry="22" fill="#2414dc" opacity="0.46"/>
<ellipse cx="2" cy="325" rx="8" ry="28" fill="#2414dc" opacity="0.26"/>
<ellipse cx="10" cy="430" rx="20" ry="40" fill="#2414dc" opacity="0.26"/>
</g>
<g filter="url(#nucBase)">
</g>
<g filter="url(#mot2)">
<ellipse cx="150" cy="146" rx="29" ry="38" fill="none" stroke="#2414dc" stroke-width="5" opacity="0.96" transform="rotate(-10 150 146)"/>
<ellipse cx="248" cy="164" rx="34" ry="48" fill="none" stroke="#2414dc" stroke-width="5" opacity="1.00" transform="rotate(-15 248 164)"/>
<ellipse cx="182" cy="284" rx="57" ry="55" fill="none" stroke="#2414dc" stroke-width="5" opacity="1.00"/>
<ellipse cx="296" cy="291" rx="35" ry="47" fill="none" stroke="#2414dc" stroke-width="5" opacity="0.82" transform="rotate(-10 296 291)"/>
<ellipse cx="164" cy="362" rx="32" ry="25" fill="none" stroke="#2414dc" stroke-width="5" opacity="0.86" transform="rotate(10 164 362)"/>
<ellipse cx="405" cy="375" rx="52" ry="33" fill="none" stroke="#2414dc" stroke-width="5" opacity="1.00" transform="rotate(-20 405 375)"/>
<ellipse cx="366" cy="445" rx="45" ry="27" fill="none" stroke="#2414dc" stroke-width="5" opacity="0.82" transform="rotate(-20 366 445)"/>
<ellipse cx="495" cy="10" rx="27" ry="19" fill="none" stroke="#2414dc" stroke-width="5" opacity="0.54"/>
<ellipse cx="2" cy="325" rx="5" ry="25" fill="none" stroke="#2414dc" stroke-width="5" opacity="0.38"/>
<ellipse cx="10" cy="430" rx="17" ry="37" fill="none" stroke="#2414dc" stroke-width="5" opacity="0.38"/>
</g>
<g filter="url(#speckC)">
<ellipse cx="150" cy="146" rx="30.4" ry="38.95" fill="#fff2c0" opacity="0.97" transform="rotate(-10 150 146)"/>
<ellipse cx="248" cy="164" rx="35.15" ry="48.45" fill="#fff2c0" transform="rotate(-15 248 164)"/>
<ellipse cx="182" cy="284" rx="57" ry="55.1" fill="#fff2c0"/>
<ellipse cx="296" cy="291" rx="36.1" ry="47.5" fill="#fff2c0" opacity="0.88" transform="rotate(-10 296 291)"/>
<ellipse cx="164" cy="362" rx="33.25" ry="26.6" fill="#fff2c0" opacity="0.90" transform="rotate(10 164 362)"/>
<ellipse cx="405" cy="375" rx="52.25" ry="34.2" fill="#fff2c0" transform="rotate(-20 405 375)"/>
<ellipse cx="366" cy="445" rx="45.6" ry="28.5" fill="#fff2c0" opacity="0.88" transform="rotate(-20 366 445)"/>
<ellipse cx="495" cy="10" rx="28.5" ry="20.9" fill="#fff2c0" opacity="0.68"/>
<ellipse cx="2" cy="325" rx="7.6" ry="26.6" fill="#fff2c0" opacity="0.56"/>
<ellipse cx="10" cy="430" rx="19" ry="38" fill="#fff2c0" opacity="0.56"/>
</g>
</g></g></g>
<clipPath id="cC"><rect x="0" y="0" width="562" height="475"/></clipPath>
<g transform="translate(59 1016)" clip-path="url(#cC)">
<rect width="562" height="475" fill="#03020e"/>
<g><g transform="translate(0 0)">
<g filter="url(#blurHuge)" opacity="0.30">
<ellipse cx="230" cy="150" rx="200" ry="130" fill="#701028" opacity="0.50"/>
<ellipse cx="300" cy="330" rx="200" ry="120" fill="#701028" opacity="0.50"/>
<ellipse cx="450" cy="250" rx="90" ry="150" fill="#701028" opacity="0.40"/>
<ellipse cx="100" cy="250" rx="80" ry="100" fill="#701028" opacity="0.40"/>
</g>
<g filter="url(#redSp)">
<ellipse cx="286" cy="40" rx="94" ry="33" fill="#f01438" opacity="0.83"/>
<ellipse cx="361" cy="137" rx="27" ry="35" fill="#f01438" opacity="0.83"/>
<ellipse cx="420" cy="154" rx="25" ry="33" fill="#f01438" opacity="0.78"/>
<ellipse cx="137" cy="234" rx="75" ry="62" fill="#f01438" opacity="0.86"/>
<ellipse cx="276" cy="310" rx="65" ry="31" fill="#f01438" opacity="0.92"/>
<ellipse cx="175" cy="401" rx="60" ry="60" fill="#f01438" opacity="0.78"/>
<ellipse cx="428" cy="417" rx="48" ry="38" fill="#f01438" opacity="0.78"/>
<ellipse cx="546" cy="188" rx="21" ry="76" fill="#f01438" opacity="0.64"/>
<ellipse cx="196" cy="168" rx="15" ry="26" fill="#f01438" opacity="0.73"/>
</g>
<g filter="url(#nucBase)">
<ellipse cx="142" cy="136" rx="54" ry="40" fill="#1a5fb1" opacity="0.85" transform="rotate(20 142 136)"/>
<ellipse cx="272" cy="119" rx="61" ry="45" fill="#1248a4" opacity="0.78" transform="rotate(5 272 119)"/>
<ellipse cx="294" cy="18" rx="48" ry="30" fill="#1f6eba" opacity="0.90" transform="rotate(15 294 18)"/>
<ellipse cx="492" cy="133" rx="52" ry="39" fill="#1f6eba" opacity="0.90" transform="rotate(10 492 133)"/>
<ellipse cx="496" cy="214" rx="52" ry="50" fill="#1248a4" opacity="0.78"/>
<ellipse cx="272" cy="224" rx="61" ry="44" fill="#288dcb" transform="rotate(-5 272 224)"/>
<ellipse cx="406" cy="236" rx="73" ry="37" fill="#288dcb" transform="rotate(10 406 236)"/>
<ellipse cx="423" cy="302" rx="55" ry="42" fill="#1248a4" opacity="0.78"/>
<ellipse cx="258" cy="336" rx="41" ry="43" fill="#288dcb" transform="rotate(20 258 336)"/>
<ellipse cx="175" cy="401" rx="44" ry="45" fill="#2176be" opacity="0.93"/>
<ellipse cx="345" cy="401" rx="50" ry="45" fill="#1c66b5" opacity="0.88"/>
<ellipse cx="52" cy="254" rx="33" ry="33" fill="#2176be" opacity="0.93"/>
</g>
<g filter="url(#mot)">
<ellipse cx="142" cy="136" rx="54" ry="40" fill="#3cccee" opacity="0.78" transform="rotate(20 142 136)"/>
<ellipse cx="272" cy="119" rx="61" ry="45" fill="#3cccee" opacity="0.65" transform="rotate(5 272 119)"/>
<ellipse cx="294" cy="18" rx="48" ry="30" fill="#3cccee" opacity="0.87" transform="rotate(15 294 18)"/>
<ellipse cx="492" cy="133" rx="52" ry="39" fill="#3cccee" opacity="0.87" transform="rotate(10 492 133)"/>
<ellipse cx="496" cy="214" rx="52" ry="50" fill="#3cccee" opacity="0.65"/>
<ellipse cx="272" cy="224" rx="61" ry="44" fill="#3cccee" transform="rotate(-5 272 224)"/>
<ellipse cx="406" cy="236" rx="73" ry="37" fill="#3cccee" transform="rotate(10 406 236)"/>
<ellipse cx="423" cy="302" rx="55" ry="42" fill="#3cccee" opacity="0.65"/>
<ellipse cx="258" cy="336" rx="41" ry="43" fill="#3cccee" transform="rotate(20 258 336)"/>
<ellipse cx="175" cy="401" rx="44" ry="45" fill="#3cccee" opacity="0.92"/>
<ellipse cx="345" cy="401" rx="50" ry="45" fill="#3cccee" opacity="0.83"/>
<ellipse cx="52" cy="254" rx="33" ry="33" fill="#3cccee" opacity="0.92"/>
</g>
<g filter="url(#nucBase)">
</g>
<g filter="url(#mot2)">
<ellipse cx="142" cy="136" rx="51" ry="37" fill="none" stroke="#3cccee" stroke-width="5" opacity="0.79" transform="rotate(20 142 136)"/>
<ellipse cx="272" cy="119" rx="58" ry="42" fill="none" stroke="#3cccee" stroke-width="5" opacity="0.69" transform="rotate(5 272 119)"/>
<ellipse cx="294" cy="18" rx="45" ry="27" fill="none" stroke="#3cccee" stroke-width="5" opacity="0.86" transform="rotate(15 294 18)"/>
<ellipse cx="492" cy="133" rx="49" ry="36" fill="none" stroke="#3cccee" stroke-width="5" opacity="0.86" transform="rotate(10 492 133)"/>
<ellipse cx="496" cy="214" rx="49" ry="47" fill="none" stroke="#3cccee" stroke-width="5" opacity="0.69"/>
<ellipse cx="272" cy="224" rx="58" ry="41" fill="none" stroke="#3cccee" stroke-width="5" opacity="1.00" transform="rotate(-5 272 224)"/>
<ellipse cx="406" cy="236" rx="70" ry="34" fill="none" stroke="#3cccee" stroke-width="5" opacity="1.00" transform="rotate(10 406 236)"/>
<ellipse cx="423" cy="302" rx="52" ry="39" fill="none" stroke="#3cccee" stroke-width="5" opacity="0.69"/>
<ellipse cx="258" cy="336" rx="38" ry="40" fill="none" stroke="#3cccee" stroke-width="5" opacity="1.00" transform="rotate(20 258 336)"/>
<ellipse cx="175" cy="401" rx="41" ry="42" fill="none" stroke="#3cccee" stroke-width="5" opacity="0.90"/>
<ellipse cx="345" cy="401" rx="47" ry="42" fill="none" stroke="#3cccee" stroke-width="5" opacity="0.82"/>
<ellipse cx="52" cy="254" rx="30" ry="30" fill="none" stroke="#3cccee" stroke-width="5" opacity="0.90"/>
</g>
<g filter="url(#ovTex)" opacity="0.35">
<ellipse cx="286" cy="40" rx="94" ry="33" fill="#ff1840" opacity="0.70"/>
<ellipse cx="361" cy="137" rx="27" ry="35" fill="#ff1840" opacity="0.70"/>
<ellipse cx="420" cy="154" rx="25" ry="33" fill="#ff1840" opacity="0.60"/>
<ellipse cx="137" cy="234" rx="75" ry="62" fill="#ff1840" opacity="0.75"/>
<ellipse cx="276" cy="310" rx="65" ry="31" fill="#ff1840" opacity="0.85"/>
<ellipse cx="175" cy="401" rx="60" ry="60" fill="#ff1840" opacity="0.60"/>
<ellipse cx="428" cy="417" rx="48" ry="38" fill="#ff1840" opacity="0.60"/>
<ellipse cx="546" cy="188" rx="21" ry="76" fill="#ff1840" opacity="0.35"/>
<ellipse cx="196" cy="168" rx="15" ry="26" fill="#ff1840" opacity="0.50"/>
</g>
</g></g></g>
<clipPath id="cG"><rect x="0" y="0" width="563" height="475"/></clipPath>
<g transform="translate(635 1016)" clip-path="url(#cG)">
<rect width="563" height="475" fill="#010309"/>
<g><g transform="translate(-14 5)">
<g filter="url(#blurHuge)" opacity="0.60">
<ellipse cx="230" cy="150" rx="200" ry="130" fill="#0a3040" opacity="0.50"/>
<ellipse cx="300" cy="330" rx="200" ry="120" fill="#0a3040" opacity="0.50"/>
<ellipse cx="450" cy="250" rx="90" ry="150" fill="#0a3040" opacity="0.40"/>
<ellipse cx="100" cy="250" rx="80" ry="100" fill="#0a3040" opacity="0.40"/>
</g>
<g filter="url(#nucBase)">
<ellipse cx="142" cy="136" rx="54" ry="40" fill="#136c86" opacity="0.85" transform="rotate(20 142 136)"/>
<ellipse cx="272" cy="119" rx="61" ry="45" fill="#0c577c" opacity="0.78" transform="rotate(5 272 119)"/>
<ellipse cx="294" cy="18" rx="48" ry="30" fill="#177a8e" opacity="0.90" transform="rotate(15 294 18)"/>
<ellipse cx="492" cy="133" rx="52" ry="39" fill="#177a8e" opacity="0.90" transform="rotate(10 492 133)"/>
<ellipse cx="496" cy="214" rx="52" ry="50" fill="#0c577c" opacity="0.78"/>
<ellipse cx="272" cy="224" rx="61" ry="44" fill="#20969c" transform="rotate(-5 272 224)"/>
<ellipse cx="406" cy="236" rx="73" ry="37" fill="#20969c" transform="rotate(10 406 236)"/>
<ellipse cx="423" cy="302" rx="55" ry="42" fill="#0c577c" opacity="0.78"/>
<ellipse cx="258" cy="336" rx="41" ry="43" fill="#20969c" transform="rotate(20 258 336)"/>
<ellipse cx="175" cy="401" rx="44" ry="45" fill="#198191" opacity="0.93"/>
<ellipse cx="345" cy="401" rx="50" ry="45" fill="#15738a" opacity="0.88"/>
<ellipse cx="52" cy="254" rx="33" ry="33" fill="#198191" opacity="0.93"/>
</g>
<g filter="url(#mot)">
<ellipse cx="142" cy="136" rx="54" ry="40" fill="#36dcc0" opacity="0.78" transform="rotate(20 142 136)"/>
<ellipse cx="272" cy="119" rx="61" ry="45" fill="#36dcc0" opacity="0.65" transform="rotate(5 272 119)"/>
<ellipse cx="294" cy="18" rx="48" ry="30" fill="#36dcc0" opacity="0.87" transform="rotate(15 294 18)"/>
<ellipse cx="492" cy="133" rx="52" ry="39" fill="#36dcc0" opacity="0.87" transform="rotate(10 492 133)"/>
<ellipse cx="496" cy="214" rx="52" ry="50" fill="#36dcc0" opacity="0.65"/>
<ellipse cx="272" cy="224" rx="61" ry="44" fill="#36dcc0" transform="rotate(-5 272 224)"/>
<ellipse cx="406" cy="236" rx="73" ry="37" fill="#36dcc0" transform="rotate(10 406 236)"/>
<ellipse cx="423" cy="302" rx="55" ry="42" fill="#36dcc0" opacity="0.65"/>
<ellipse cx="258" cy="336" rx="41" ry="43" fill="#36dcc0" transform="rotate(20 258 336)"/>
<ellipse cx="175" cy="401" rx="44" ry="45" fill="#36dcc0" opacity="0.92"/>
<ellipse cx="345" cy="401" rx="50" ry="45" fill="#36dcc0" opacity="0.83"/>
<ellipse cx="52" cy="254" rx="33" ry="33" fill="#36dcc0" opacity="0.92"/>
</g>
<g filter="url(#nucBase)">
</g>
<g filter="url(#mot2)">
<ellipse cx="142" cy="136" rx="51" ry="37" fill="none" stroke="#36dcc0" stroke-width="5" opacity="0.79" transform="rotate(20 142 136)"/>
<ellipse cx="272" cy="119" rx="58" ry="42" fill="none" stroke="#36dcc0" stroke-width="5" opacity="0.69" transform="rotate(5 272 119)"/>
<ellipse cx="294" cy="18" rx="45" ry="27" fill="none" stroke="#36dcc0" stroke-width="5" opacity="0.86" transform="rotate(15 294 18)"/>
<ellipse cx="492" cy="133" rx="49" ry="36" fill="none" stroke="#36dcc0" stroke-width="5" opacity="0.86" transform="rotate(10 492 133)"/>
<ellipse cx="496" cy="214" rx="49" ry="47" fill="none" stroke="#36dcc0" stroke-width="5" opacity="0.69"/>
<ellipse cx="272" cy="224" rx="58" ry="41" fill="none" stroke="#36dcc0" stroke-width="5" opacity="1.00" transform="rotate(-5 272 224)"/>
<ellipse cx="406" cy="236" rx="70" ry="34" fill="none" stroke="#36dcc0" stroke-width="5" opacity="1.00" transform="rotate(10 406 236)"/>
<ellipse cx="423" cy="302" rx="52" ry="39" fill="none" stroke="#36dcc0" stroke-width="5" opacity="0.69"/>
<ellipse cx="258" cy="336" rx="38" ry="40" fill="none" stroke="#36dcc0" stroke-width="5" opacity="1.00" transform="rotate(20 258 336)"/>
<ellipse cx="175" cy="401" rx="41" ry="42" fill="none" stroke="#36dcc0" stroke-width="5" opacity="0.90"/>
<ellipse cx="345" cy="401" rx="47" ry="42" fill="none" stroke="#36dcc0" stroke-width="5" opacity="0.82"/>
<ellipse cx="52" cy="254" rx="30" ry="30" fill="none" stroke="#36dcc0" stroke-width="5" opacity="0.90"/>
</g>
</g></g></g>
<clipPath id="cK"><rect x="0" y="0" width="562" height="472"/></clipPath>
<g transform="translate(1204 1019)" clip-path="url(#cK)">
<rect width="562" height="472" fill="#03020e"/>
<g><g transform="translate(-5 6)">
<g filter="url(#blurHuge)" opacity="0.30">
<ellipse cx="230" cy="150" rx="200" ry="130" fill="#500a20" opacity="0.50"/>
<ellipse cx="300" cy="330" rx="200" ry="120" fill="#500a20" opacity="0.50"/>
<ellipse cx="450" cy="250" rx="90" ry="150" fill="#500a20" opacity="0.40"/>
<ellipse cx="100" cy="250" rx="80" ry="100" fill="#500a20" opacity="0.40"/>
</g>
<g filter="url(#redSp)">
<ellipse cx="286" cy="40" rx="94" ry="33" fill="#f01428" opacity="0.83"/>
<ellipse cx="361" cy="137" rx="27" ry="35" fill="#f01428" opacity="0.83"/>
<ellipse cx="420" cy="154" rx="25" ry="33" fill="#f01428" opacity="0.78"/>
<ellipse cx="137" cy="234" rx="75" ry="62" fill="#f01428" opacity="0.86"/>
<ellipse cx="276" cy="310" rx="65" ry="31" fill="#f01428" opacity="0.92"/>
<ellipse cx="175" cy="401" rx="60" ry="60" fill="#f01428" opacity="0.78"/>
<ellipse cx="428" cy="417" rx="48" ry="38" fill="#f01428" opacity="0.78"/>
<ellipse cx="546" cy="188" rx="21" ry="76" fill="#f01428" opacity="0.64"/>
<ellipse cx="196" cy="168" rx="15" ry="26" fill="#f01428" opacity="0.73"/>
</g>
<g filter="url(#nucBase)">
<ellipse cx="142" cy="136" rx="54" ry="40" fill="#1408b4" opacity="0.85" transform="rotate(20 142 136)"/>
<ellipse cx="272" cy="119" rx="61" ry="45" fill="#1408b4" opacity="0.78" transform="rotate(5 272 119)"/>
<ellipse cx="294" cy="18" rx="48" ry="30" fill="#1408b4" opacity="0.90" transform="rotate(15 294 18)"/>
<ellipse cx="492" cy="133" rx="52" ry="39" fill="#1408b4" opacity="0.90" transform="rotate(10 492 133)"/>
<ellipse cx="496" cy="214" rx="52" ry="50" fill="#1408b4" opacity="0.78"/>
<ellipse cx="272" cy="224" rx="61" ry="44" fill="#1408b4" transform="rotate(-5 272 224)"/>
<ellipse cx="406" cy="236" rx="73" ry="37" fill="#1408b4" transform="rotate(10 406 236)"/>
<ellipse cx="423" cy="302" rx="55" ry="42" fill="#1408b4" opacity="0.78"/>
<ellipse cx="258" cy="336" rx="41" ry="43" fill="#1408b4" transform="rotate(20 258 336)"/>
<ellipse cx="175" cy="401" rx="44" ry="45" fill="#1408b4" opacity="0.93"/>
<ellipse cx="345" cy="401" rx="50" ry="45" fill="#1408b4" opacity="0.88"/>
<ellipse cx="52" cy="254" rx="33" ry="33" fill="#1408b4" opacity="0.93"/>
</g>
<g filter="url(#mot)">
<ellipse cx="142" cy="136" rx="54" ry="40" fill="#281cf4" opacity="0.78" transform="rotate(20 142 136)"/>
<ellipse cx="272" cy="119" rx="61" ry="45" fill="#281cf4" opacity="0.65" transform="rotate(5 272 119)"/>
<ellipse cx="294" cy="18" rx="48" ry="30" fill="#281cf4" opacity="0.87" transform="rotate(15 294 18)"/>
<ellipse cx="492" cy="133" rx="52" ry="39" fill="#281cf4" opacity="0.87" transform="rotate(10 492 133)"/>
<ellipse cx="496" cy="214" rx="52" ry="50" fill="#281cf4" opacity="0.65"/>
<ellipse cx="272" cy="224" rx="61" ry="44" fill="#281cf4" transform="rotate(-5 272 224)"/>
<ellipse cx="406" cy="236" rx="73" ry="37" fill="#281cf4" transform="rotate(10 406 236)"/>
<ellipse cx="423" cy="302" rx="55" ry="42" fill="#281cf4" opacity="0.65"/>
<ellipse cx="258" cy="336" rx="41" ry="43" fill="#281cf4" transform="rotate(20 258 336)"/>
<ellipse cx="175" cy="401" rx="44" ry="45" fill="#281cf4" opacity="0.92"/>
<ellipse cx="345" cy="401" rx="50" ry="45" fill="#281cf4" opacity="0.83"/>
<ellipse cx="52" cy="254" rx="33" ry="33" fill="#281cf4" opacity="0.92"/>
</g>
<g filter="url(#nucBase)">
</g>
<g filter="url(#mot2)">
<ellipse cx="142" cy="136" rx="51" ry="37" fill="none" stroke="#281cf4" stroke-width="5" opacity="0.79" transform="rotate(20 142 136)"/>
<ellipse cx="272" cy="119" rx="58" ry="42" fill="none" stroke="#281cf4" stroke-width="5" opacity="0.69" transform="rotate(5 272 119)"/>
<ellipse cx="294" cy="18" rx="45" ry="27" fill="none" stroke="#281cf4" stroke-width="5" opacity="0.86" transform="rotate(15 294 18)"/>
<ellipse cx="492" cy="133" rx="49" ry="36" fill="none" stroke="#281cf4" stroke-width="5" opacity="0.86" transform="rotate(10 492 133)"/>
<ellipse cx="496" cy="214" rx="49" ry="47" fill="none" stroke="#281cf4" stroke-width="5" opacity="0.69"/>
<ellipse cx="272" cy="224" rx="58" ry="41" fill="none" stroke="#281cf4" stroke-width="5" opacity="1.00" transform="rotate(-5 272 224)"/>
<ellipse cx="406" cy="236" rx="70" ry="34" fill="none" stroke="#281cf4" stroke-width="5" opacity="1.00" transform="rotate(10 406 236)"/>
<ellipse cx="423" cy="302" rx="52" ry="39" fill="none" stroke="#281cf4" stroke-width="5" opacity="0.69"/>
<ellipse cx="258" cy="336" rx="38" ry="40" fill="none" stroke="#281cf4" stroke-width="5" opacity="1.00" transform="rotate(20 258 336)"/>
<ellipse cx="175" cy="401" rx="41" ry="42" fill="none" stroke="#281cf4" stroke-width="5" opacity="0.90"/>
<ellipse cx="345" cy="401" rx="47" ry="42" fill="none" stroke="#281cf4" stroke-width="5" opacity="0.82"/>
<ellipse cx="52" cy="254" rx="30" ry="30" fill="none" stroke="#281cf4" stroke-width="5" opacity="0.90"/>
</g>
</g></g></g>
<clipPath id="cO"><rect x="0" y="0" width="563" height="472"/></clipPath>
<g transform="translate(1783 1019)" clip-path="url(#cO)">
<rect width="563" height="472" fill="#03020e"/>
<g><g transform="translate(-9 9)">
<g filter="url(#blurHuge)" opacity="0.20">
<ellipse cx="230" cy="150" rx="200" ry="130" fill="#803808" opacity="0.50"/>
<ellipse cx="300" cy="330" rx="200" ry="120" fill="#803808" opacity="0.50"/>
<ellipse cx="450" cy="250" rx="90" ry="150" fill="#803808" opacity="0.40"/>
<ellipse cx="100" cy="250" rx="80" ry="100" fill="#803808" opacity="0.40"/>
</g>
<g filter="url(#redSp)">
<ellipse cx="286" cy="40" rx="94" ry="33" fill="#b85a10" opacity="0.83"/>
<ellipse cx="361" cy="137" rx="27" ry="35" fill="#b85a10" opacity="0.83"/>
<ellipse cx="420" cy="154" rx="25" ry="33" fill="#b85a10" opacity="0.78"/>
<ellipse cx="137" cy="234" rx="75" ry="62" fill="#b85a10" opacity="0.86"/>
<ellipse cx="276" cy="310" rx="65" ry="31" fill="#b85a10" opacity="0.92"/>
<ellipse cx="175" cy="401" rx="60" ry="60" fill="#b85a10" opacity="0.78"/>
<ellipse cx="428" cy="417" rx="48" ry="38" fill="#b85a10" opacity="0.78"/>
<ellipse cx="546" cy="188" rx="21" ry="76" fill="#b85a10" opacity="0.64"/>
<ellipse cx="196" cy="168" rx="15" ry="26" fill="#b85a10" opacity="0.73"/>
</g>
<g filter="url(#nucBase)">
<ellipse cx="142" cy="136" rx="54" ry="40" fill="#140aa8" opacity="0.85" transform="rotate(20 142 136)"/>
<ellipse cx="272" cy="119" rx="61" ry="45" fill="#140aa8" opacity="0.78" transform="rotate(5 272 119)"/>
<ellipse cx="294" cy="18" rx="48" ry="30" fill="#140aa8" opacity="0.90" transform="rotate(15 294 18)"/>
<ellipse cx="492" cy="133" rx="52" ry="39" fill="#140aa8" opacity="0.90" transform="rotate(10 492 133)"/>
<ellipse cx="496" cy="214" rx="52" ry="50" fill="#140aa8" opacity="0.78"/>
<ellipse cx="272" cy="224" rx="61" ry="44" fill="#140aa8" transform="rotate(-5 272 224)"/>
<ellipse cx="406" cy="236" rx="73" ry="37" fill="#140aa8" transform="rotate(10 406 236)"/>
<ellipse cx="423" cy="302" rx="55" ry="42" fill="#140aa8" opacity="0.78"/>
<ellipse cx="258" cy="336" rx="41" ry="43" fill="#140aa8" transform="rotate(20 258 336)"/>
<ellipse cx="175" cy="401" rx="44" ry="45" fill="#140aa8" opacity="0.93"/>
<ellipse cx="345" cy="401" rx="50" ry="45" fill="#140aa8" opacity="0.88"/>
<ellipse cx="52" cy="254" rx="33" ry="33" fill="#140aa8" opacity="0.93"/>
</g>
<g filter="url(#mot)">
<ellipse cx="142" cy="136" rx="54" ry="40" fill="#2818e8" opacity="0.78" transform="rotate(20 142 136)"/>
<ellipse cx="272" cy="119" rx="61" ry="45" fill="#2818e8" opacity="0.65" transform="rotate(5 272 119)"/>
<ellipse cx="294" cy="18" rx="48" ry="30" fill="#2818e8" opacity="0.87" transform="rotate(15 294 18)"/>
<ellipse cx="492" cy="133" rx="52" ry="39" fill="#2818e8" opacity="0.87" transform="rotate(10 492 133)"/>
<ellipse cx="496" cy="214" rx="52" ry="50" fill="#2818e8" opacity="0.65"/>
<ellipse cx="272" cy="224" rx="61" ry="44" fill="#2818e8" transform="rotate(-5 272 224)"/>
<ellipse cx="406" cy="236" rx="73" ry="37" fill="#2818e8" transform="rotate(10 406 236)"/>
<ellipse cx="423" cy="302" rx="55" ry="42" fill="#2818e8" opacity="0.65"/>
<ellipse cx="258" cy="336" rx="41" ry="43" fill="#2818e8" transform="rotate(20 258 336)"/>
<ellipse cx="175" cy="401" rx="44" ry="45" fill="#2818e8" opacity="0.92"/>
<ellipse cx="345" cy="401" rx="50" ry="45" fill="#2818e8" opacity="0.83"/>
<ellipse cx="52" cy="254" rx="33" ry="33" fill="#2818e8" opacity="0.92"/>
</g>
<g filter="url(#nucBase)">
</g>
<g filter="url(#mot2)">
<ellipse cx="142" cy="136" rx="51" ry="37" fill="none" stroke="#2818e8" stroke-width="5" opacity="0.79" transform="rotate(20 142 136)"/>
<ellipse cx="272" cy="119" rx="58" ry="42" fill="none" stroke="#2818e8" stroke-width="5" opacity="0.69" transform="rotate(5 272 119)"/>
<ellipse cx="294" cy="18" rx="45" ry="27" fill="none" stroke="#2818e8" stroke-width="5" opacity="0.86" transform="rotate(15 294 18)"/>
<ellipse cx="492" cy="133" rx="49" ry="36" fill="none" stroke="#2818e8" stroke-width="5" opacity="0.86" transform="rotate(10 492 133)"/>
<ellipse cx="496" cy="214" rx="49" ry="47" fill="none" stroke="#2818e8" stroke-width="5" opacity="0.69"/>
<ellipse cx="272" cy="224" rx="58" ry="41" fill="none" stroke="#2818e8" stroke-width="5" opacity="1.00" transform="rotate(-5 272 224)"/>
<ellipse cx="406" cy="236" rx="70" ry="34" fill="none" stroke="#2818e8" stroke-width="5" opacity="1.00" transform="rotate(10 406 236)"/>
<ellipse cx="423" cy="302" rx="52" ry="39" fill="none" stroke="#2818e8" stroke-width="5" opacity="0.69"/>
<ellipse cx="258" cy="336" rx="38" ry="40" fill="none" stroke="#2818e8" stroke-width="5" opacity="1.00" transform="rotate(20 258 336)"/>
<ellipse cx="175" cy="401" rx="41" ry="42" fill="none" stroke="#2818e8" stroke-width="5" opacity="0.90"/>
<ellipse cx="345" cy="401" rx="47" ry="42" fill="none" stroke="#2818e8" stroke-width="5" opacity="0.82"/>
<ellipse cx="52" cy="254" rx="30" ry="30" fill="none" stroke="#2818e8" stroke-width="5" opacity="0.90"/>
</g>
<g filter="url(#ovTex)" opacity="0.55">
<ellipse cx="286" cy="40" rx="94" ry="33" fill="#ffd060" opacity="0.70"/>
<ellipse cx="361" cy="137" rx="27" ry="35" fill="#ffd060" opacity="0.70"/>
<ellipse cx="420" cy="154" rx="25" ry="33" fill="#ffd060" opacity="0.60"/>
<ellipse cx="137" cy="234" rx="75" ry="62" fill="#ffd060" opacity="0.75"/>
<ellipse cx="276" cy="310" rx="65" ry="31" fill="#ffd060" opacity="0.85"/>
<ellipse cx="175" cy="401" rx="60" ry="60" fill="#ffd060" opacity="0.60"/>
<ellipse cx="428" cy="417" rx="48" ry="38" fill="#ffd060" opacity="0.60"/>
<ellipse cx="546" cy="188" rx="21" ry="76" fill="#ffd060" opacity="0.35"/>
<ellipse cx="196" cy="168" rx="15" ry="26" fill="#ffd060" opacity="0.50"/>
</g>
<g filter="url(#speckB)">
<ellipse cx="142" cy="136" rx="51.3" ry="38" fill="#fff0c8" opacity="0.85" transform="rotate(20 142 136)"/>
<ellipse cx="272" cy="119" rx="57.95" ry="42.75" fill="#fff0c8" opacity="0.78" transform="rotate(5 272 119)"/>
<ellipse cx="294" cy="18" rx="45.6" ry="28.5" fill="#fff0c8" opacity="0.90" transform="rotate(15 294 18)"/>
<ellipse cx="492" cy="133" rx="49.4" ry="37.05" fill="#fff0c8" opacity="0.90" transform="rotate(10 492 133)"/>
<ellipse cx="496" cy="214" rx="49.4" ry="47.5" fill="#fff0c8" opacity="0.78"/>
<ellipse cx="272" cy="224" rx="57.95" ry="41.8" fill="#fff0c8" transform="rotate(-5 272 224)"/>
<ellipse cx="406" cy="236" rx="69.35" ry="35.15" fill="#fff0c8" transform="rotate(10 406 236)"/>
<ellipse cx="423" cy="302" rx="52.25" ry="39.9" fill="#fff0c8" opacity="0.78"/>
<ellipse cx="258" cy="336" rx="38.95" ry="40.85" fill="#fff0c8" transform="rotate(20 258 336)"/>
<ellipse cx="175" cy="401" rx="41.8" ry="42.75" fill="#fff0c8" opacity="0.93"/>
<ellipse cx="345" cy="401" rx="47.5" ry="42.75" fill="#fff0c8" opacity="0.88"/>
<ellipse cx="52" cy="254" rx="31.35" ry="31.35" fill="#fff0c8" opacity="0.93"/>
<ellipse cx="286" cy="40" rx="75.2" ry="26.4" fill="#fff0c8" opacity="0.42"/>
<ellipse cx="361" cy="137" rx="21.6" ry="28" fill="#fff0c8" opacity="0.42"/>
<ellipse cx="420" cy="154" rx="20" ry="26.4" fill="#fff0c8" opacity="0.36"/>
<ellipse cx="137" cy="234" rx="60" ry="49.6" fill="#fff0c8" opacity="0.45"/>
<ellipse cx="276" cy="310" rx="52" ry="24.8" fill="#fff0c8" opacity="0.51"/>
<ellipse cx="175" cy="401" rx="48" ry="48" fill="#fff0c8" opacity="0.36"/>
<ellipse cx="428" cy="417" rx="38.4" ry="30.4" fill="#fff0c8" opacity="0.36"/>
<ellipse cx="546" cy="188" rx="16.8" ry="60.8" fill="#fff0c8" opacity="0.21"/>
<ellipse cx="196" cy="168" rx="12" ry="20.8" fill="#fff0c8" opacity="0.30"/>
</g>
</g></g></g>
<clipPath id="cD"><rect x="0" y="0" width="559" height="469"/></clipPath>
<g transform="translate(60 1502)" clip-path="url(#cD)">
<rect width="559" height="469" fill="#03021a"/>
<g><g transform="translate(0 0)">
<g filter="url(#blurMid)" opacity="0.95">
<ellipse cx="230" cy="60" rx="120" ry="60" fill="#3a86c8" opacity="0.80"/>
<ellipse cx="230" cy="190" rx="65" ry="55" fill="#3a86c8" opacity="0.60"/>
<ellipse cx="260" cy="365" rx="230" ry="95" fill="#3a86c8" opacity="0.90"/>
<ellipse cx="505" cy="300" rx="45" ry="100" fill="#3a86c8" opacity="0.60"/>
</g>
<g filter="url(#redTex)">
<ellipse cx="178" cy="185" rx="40" ry="40" fill="#c8c050" opacity="0.95"/>
<ellipse cx="256" cy="40" rx="50" ry="35" fill="#c8c050" opacity="0.95"/>
<ellipse cx="140" cy="75" rx="45" ry="45" fill="#c8c050" opacity="0.78"/>
<ellipse cx="68" cy="280" rx="50" ry="25" fill="#c8c050" opacity="0.95"/>
<ellipse cx="86" cy="425" rx="40" ry="28" fill="#c8c050" opacity="0.89"/>
<ellipse cx="240" cy="395" rx="32" ry="35" fill="#c8c050" opacity="0.89"/>
<ellipse cx="400" cy="340" rx="70" ry="55" fill="#c8c050" opacity="0.89"/>
<ellipse cx="490" cy="265" rx="40" ry="40" fill="#c8c050" opacity="0.83"/>
<ellipse cx="312" cy="135" rx="45" ry="33" fill="#c8c050" opacity="0.78"/>
<ellipse cx="290" cy="300" rx="30" ry="25" fill="#c8c050" opacity="0.67"/>
</g>
<g filter="url(#nucBase)">
<ellipse cx="158" cy="70" rx="52" ry="52" fill="#2a7ecd" opacity="0.85"/>
<ellipse cx="262" cy="30" rx="94" ry="38" fill="#348fd4" opacity="0.93"/>
<ellipse cx="252" cy="95" rx="50" ry="43" fill="#216ec6" opacity="0.78"/>
<ellipse cx="312" cy="132" rx="48" ry="36" fill="#3a9ad9" opacity="0.97" transform="rotate(-15 312 132)"/>
<ellipse cx="178" cy="185" rx="40" ry="45" fill="#3da0db"/>
<ellipse cx="281" cy="212" rx="40" ry="44" fill="#3795d6" opacity="0.95"/>
<ellipse cx="490" cy="225" rx="50" ry="39" fill="#2a7ecd" opacity="0.85"/>
<ellipse cx="534" cy="285" rx="29" ry="36" fill="#216ec6" opacity="0.78"/>
<ellipse cx="524" cy="367" rx="35" ry="42" fill="#3795d6" opacity="0.95"/>
<ellipse cx="70" cy="288" rx="52" ry="33" fill="#2e84d0" opacity="0.88"/>
<ellipse cx="107" cy="333" rx="73" ry="46" fill="#2e84d0" opacity="0.88"/>
<ellipse cx="104" cy="428" rx="54" ry="35" fill="#3795d6" opacity="0.95"/>
<ellipse cx="216" cy="395" rx="56" ry="53" fill="#2e84d0" opacity="0.88"/>
<ellipse cx="284" cy="298" rx="58" ry="35" fill="#2473c9" opacity="0.80"/>
<ellipse cx="289" cy="387" rx="25" ry="31" fill="#1e68c4" opacity="0.70"/>
<ellipse cx="390" cy="398" rx="65" ry="57" fill="#3795d6" opacity="0.95"/>
<ellipse cx="404" cy="310" rx="71" ry="38" fill="#2e84d0" opacity="0.88"/>
<ellipse cx="465" cy="314" rx="29" ry="27" fill="#2473c9" opacity="0.80"/>
</g>
<g filter="url(#mot)">
<ellipse cx="158" cy="70" rx="52" ry="52" fill="#5cd8f2" opacity="0.78"/>
<ellipse cx="262" cy="30" rx="94" ry="38" fill="#5cd8f2" opacity="0.92"/>
<ellipse cx="252" cy="95" rx="50" ry="43" fill="#5cd8f2" opacity="0.65"/>
<ellipse cx="312" cy="132" rx="48" ry="36" fill="#5cd8f2" transform="rotate(-15 312 132)"/>
<ellipse cx="178" cy="185" rx="40" ry="45" fill="#5cd8f2"/>
<ellipse cx="281" cy="212" rx="40" ry="44" fill="#5cd8f2" opacity="0.96"/>
<ellipse cx="490" cy="225" rx="50" ry="39" fill="#5cd8f2" opacity="0.78"/>
<ellipse cx="534" cy="285" rx="29" ry="36" fill="#5cd8f2" opacity="0.65"/>
<ellipse cx="524" cy="367" rx="35" ry="42" fill="#5cd8f2" opacity="0.96"/>
<ellipse cx="70" cy="288" rx="52" ry="33" fill="#5cd8f2" opacity="0.83"/>
<ellipse cx="107" cy="333" rx="73" ry="46" fill="#5cd8f2" opacity="0.83"/>
<ellipse cx="104" cy="428" rx="54" ry="35" fill="#5cd8f2" opacity="0.96"/>
<ellipse cx="216" cy="395" rx="56" ry="53" fill="#5cd8f2" opacity="0.83"/>
<ellipse cx="284" cy="298" rx="58" ry="35" fill="#5cd8f2" opacity="0.69"/>
<ellipse cx="289" cy="387" rx="25" ry="31" fill="#5cd8f2" opacity="0.51"/>
<ellipse cx="390" cy="398" rx="65" ry="57" fill="#5cd8f2" opacity="0.96"/>
<ellipse cx="404" cy="310" rx="71" ry="38" fill="#5cd8f2" opacity="0.83"/>
<ellipse cx="465" cy="314" rx="29" ry="27" fill="#5cd8f2" opacity="0.69"/>
</g>
<g filter="url(#nucBase)">
</g>
<g filter="url(#mot2)">
<ellipse cx="158" cy="70" rx="49" ry="49" fill="none" stroke="#5cd8f2" stroke-width="5" opacity="0.79"/>
<ellipse cx="262" cy="30" rx="91" ry="35" fill="none" stroke="#5cd8f2" stroke-width="5" opacity="0.90"/>
<ellipse cx="252" cy="95" rx="47" ry="40" fill="none" stroke="#5cd8f2" stroke-width="5" opacity="0.69"/>
<ellipse cx="312" cy="132" rx="45" ry="33" fill="none" stroke="#5cd8f2" stroke-width="5" opacity="0.96" transform="rotate(-15 312 132)"/>
<ellipse cx="178" cy="185" rx="37" ry="42" fill="none" stroke="#5cd8f2" stroke-width="5" opacity="1.00"/>
<ellipse cx="281" cy="212" rx="37" ry="41" fill="none" stroke="#5cd8f2" stroke-width="5" opacity="0.93"/>
<ellipse cx="490" cy="225" rx="47" ry="36" fill="none" stroke="#5cd8f2" stroke-width="5" opacity="0.79"/>
<ellipse cx="534" cy="285" rx="26" ry="33" fill="none" stroke="#5cd8f2" stroke-width="5" opacity="0.69"/>
<ellipse cx="524" cy="367" rx="32" ry="39" fill="none" stroke="#5cd8f2" stroke-width="5" opacity="0.93"/>
<ellipse cx="70" cy="288" rx="49" ry="30" fill="none" stroke="#5cd8f2" stroke-width="5" opacity="0.82"/>
<ellipse cx="107" cy="333" rx="70" ry="43" fill="none" stroke="#5cd8f2" stroke-width="5" opacity="0.82"/>
<ellipse cx="104" cy="428" rx="51" ry="32" fill="none" stroke="#5cd8f2" stroke-width="5" opacity="0.93"/>
<ellipse cx="216" cy="395" rx="53" ry="50" fill="none" stroke="#5cd8f2" stroke-width="5" opacity="0.82"/>
<ellipse cx="284" cy="298" rx="55" ry="32" fill="none" stroke="#5cd8f2" stroke-width="5" opacity="0.72"/>
<ellipse cx="289" cy="387" rx="22" ry="28" fill="none" stroke="#5cd8f2" stroke-width="5" opacity="0.58"/>
<ellipse cx="390" cy="398" rx="62" ry="54" fill="none" stroke="#5cd8f2" stroke-width="5" opacity="0.93"/>
<ellipse cx="404" cy="310" rx="68" ry="35" fill="none" stroke="#5cd8f2" stroke-width="5" opacity="0.82"/>
<ellipse cx="465" cy="314" rx="26" ry="24" fill="none" stroke="#5cd8f2" stroke-width="5" opacity="0.72"/>
</g>
<g filter="url(#ovTex)" opacity="0.60">
<ellipse cx="178" cy="185" rx="40" ry="40" fill="#d8e880" opacity="0.90"/>
<ellipse cx="256" cy="40" rx="50" ry="35" fill="#d8e880" opacity="0.90"/>
<ellipse cx="140" cy="75" rx="45" ry="45" fill="#d8e880" opacity="0.60"/>
<ellipse cx="68" cy="280" rx="50" ry="25" fill="#d8e880" opacity="0.90"/>
<ellipse cx="86" cy="425" rx="40" ry="28" fill="#d8e880" opacity="0.80"/>
<ellipse cx="240" cy="395" rx="32" ry="35" fill="#d8e880" opacity="0.80"/>
<ellipse cx="400" cy="340" rx="70" ry="55" fill="#d8e880" opacity="0.80"/>
<ellipse cx="490" cy="265" rx="40" ry="40" fill="#d8e880" opacity="0.70"/>
<ellipse cx="312" cy="135" rx="45" ry="33" fill="#d8e880" opacity="0.60"/>
<ellipse cx="290" cy="300" rx="30" ry="25" fill="#d8e880" opacity="0.40"/>
</g>
<g filter="url(#speckA)">
<ellipse cx="158" cy="70" rx="49.4" ry="49.4" fill="#e8f0a0" opacity="0.85"/>
<ellipse cx="262" cy="30" rx="89.3" ry="36.1" fill="#e8f0a0" opacity="0.93"/>
<ellipse cx="252" cy="95" rx="47.5" ry="40.85" fill="#e8f0a0" opacity="0.78"/>
<ellipse cx="312" cy="132" rx="45.6" ry="34.2" fill="#e8f0a0" opacity="0.97" transform="rotate(-15 312 132)"/>
<ellipse cx="178" cy="185" rx="38" ry="42.75" fill="#e8f0a0"/>
<ellipse cx="281" cy="212" rx="38" ry="41.8" fill="#e8f0a0" opacity="0.95"/>
<ellipse cx="490" cy="225" rx="47.5" ry="37.05" fill="#e8f0a0" opacity="0.85"/>
<ellipse cx="534" cy="285" rx="27.55" ry="34.2" fill="#e8f0a0" opacity="0.78"/>
<ellipse cx="524" cy="367" rx="33.25" ry="39.9" fill="#e8f0a0" opacity="0.95"/>
<ellipse cx="70" cy="288" rx="49.4" ry="31.35" fill="#e8f0a0" opacity="0.88"/>
<ellipse cx="107" cy="333" rx="69.35" ry="43.7" fill="#e8f0a0" opacity="0.88"/>
<ellipse cx="104" cy="428" rx="51.3" ry="33.25" fill="#e8f0a0" opacity="0.95"/>
<ellipse cx="216" cy="395" rx="53.2" ry="50.35" fill="#e8f0a0" opacity="0.88"/>
<ellipse cx="284" cy="298" rx="55.1" ry="33.25" fill="#e8f0a0" opacity="0.80"/>
<ellipse cx="289" cy="387" rx="23.75" ry="29.45" fill="#e8f0a0" opacity="0.70"/>
<ellipse cx="390" cy="398" rx="61.75" ry="54.15" fill="#e8f0a0" opacity="0.95"/>
<ellipse cx="404" cy="310" rx="67.45" ry="36.1" fill="#e8f0a0" opacity="0.88"/>
<ellipse cx="465" cy="314" rx="27.55" ry="25.65" fill="#e8f0a0" opacity="0.80"/>
</g>
</g></g></g>
<clipPath id="cH"><rect x="0" y="0" width="564" height="471"/></clipPath>
<g transform="translate(630 1504)" clip-path="url(#cH)">
<rect width="564" height="471" fill="#020412"/>
<g><g transform="translate(0 0)">
<g filter="url(#blurMid)" opacity="0.90">
<ellipse cx="230" cy="60" rx="120" ry="60" fill="#145a48" opacity="0.80"/>
<ellipse cx="230" cy="190" rx="65" ry="55" fill="#145a48" opacity="0.60"/>
<ellipse cx="260" cy="365" rx="230" ry="95" fill="#145a48" opacity="0.90"/>
<ellipse cx="505" cy="300" rx="45" ry="100" fill="#145a48" opacity="0.60"/>
</g>
<g filter="url(#nucBase)">
<ellipse cx="158" cy="70" rx="52" ry="52" fill="#0e2c78" opacity="0.85"/>
<ellipse cx="262" cy="30" rx="94" ry="38" fill="#0e2c78" opacity="0.93"/>
<ellipse cx="252" cy="95" rx="50" ry="43" fill="#0e2c78" opacity="0.78"/>
<ellipse cx="312" cy="132" rx="48" ry="36" fill="#0e2c78" opacity="0.97" transform="rotate(-15 312 132)"/>
<ellipse cx="178" cy="185" rx="40" ry="45" fill="#0e2c78"/>
<ellipse cx="281" cy="212" rx="40" ry="44" fill="#0e2c78" opacity="0.95"/>
<ellipse cx="490" cy="225" rx="50" ry="39" fill="#0e2c78" opacity="0.85"/>
<ellipse cx="534" cy="285" rx="29" ry="36" fill="#0e2c78" opacity="0.78"/>
<ellipse cx="524" cy="367" rx="35" ry="42" fill="#0e2c78" opacity="0.95"/>
<ellipse cx="70" cy="288" rx="52" ry="33" fill="#0e2c78" opacity="0.88"/>
<ellipse cx="107" cy="333" rx="73" ry="46" fill="#0e2c78" opacity="0.88"/>
<ellipse cx="104" cy="428" rx="54" ry="35" fill="#0e2c78" opacity="0.95"/>
<ellipse cx="216" cy="395" rx="56" ry="53" fill="#0e2c78" opacity="0.88"/>
<ellipse cx="284" cy="298" rx="58" ry="35" fill="#0e2c78" opacity="0.80"/>
<ellipse cx="289" cy="387" rx="25" ry="31" fill="#0e2c78" opacity="0.70"/>
<ellipse cx="390" cy="398" rx="65" ry="57" fill="#0e2c78" opacity="0.95"/>
<ellipse cx="404" cy="310" rx="71" ry="38" fill="#0e2c78" opacity="0.88"/>
<ellipse cx="465" cy="314" rx="29" ry="27" fill="#0e2c78" opacity="0.80"/>
</g>
<g filter="url(#mot)">
<ellipse cx="158" cy="70" rx="52" ry="52" fill="#2a8ed0" opacity="0.78"/>
<ellipse cx="262" cy="30" rx="94" ry="38" fill="#2a8ed0" opacity="0.92"/>
<ellipse cx="252" cy="95" rx="50" ry="43" fill="#2a8ed0" opacity="0.65"/>
<ellipse cx="312" cy="132" rx="48" ry="36" fill="#2a8ed0" transform="rotate(-15 312 132)"/>
<ellipse cx="178" cy="185" rx="40" ry="45" fill="#2a8ed0"/>
<ellipse cx="281" cy="212" rx="40" ry="44" fill="#2a8ed0" opacity="0.96"/>
<ellipse cx="490" cy="225" rx="50" ry="39" fill="#2a8ed0" opacity="0.78"/>
<ellipse cx="534" cy="285" rx="29" ry="36" fill="#2a8ed0" opacity="0.65"/>
<ellipse cx="524" cy="367" rx="35" ry="42" fill="#2a8ed0" opacity="0.96"/>
<ellipse cx="70" cy="288" rx="52" ry="33" fill="#2a8ed0" opacity="0.83"/>
<ellipse cx="107" cy="333" rx="73" ry="46" fill="#2a8ed0" opacity="0.83"/>
<ellipse cx="104" cy="428" rx="54" ry="35" fill="#2a8ed0" opacity="0.96"/>
<ellipse cx="216" cy="395" rx="56" ry="53" fill="#2a8ed0" opacity="0.83"/>
<ellipse cx="284" cy="298" rx="58" ry="35" fill="#2a8ed0" opacity="0.69"/>
<ellipse cx="289" cy="387" rx="25" ry="31" fill="#2a8ed0" opacity="0.51"/>
<ellipse cx="390" cy="398" rx="65" ry="57" fill="#2a8ed0" opacity="0.96"/>
<ellipse cx="404" cy="310" rx="71" ry="38" fill="#2a8ed0" opacity="0.83"/>
<ellipse cx="465" cy="314" rx="29" ry="27" fill="#2a8ed0" opacity="0.69"/>
</g>
<g filter="url(#nucBase)">
</g>
<g filter="url(#mot2)">
<ellipse cx="158" cy="70" rx="49" ry="49" fill="none" stroke="#2a8ed0" stroke-width="5" opacity="0.79"/>
<ellipse cx="262" cy="30" rx="91" ry="35" fill="none" stroke="#2a8ed0" stroke-width="5" opacity="0.90"/>
<ellipse cx="252" cy="95" rx="47" ry="40" fill="none" stroke="#2a8ed0" stroke-width="5" opacity="0.69"/>
<ellipse cx="312" cy="132" rx="45" ry="33" fill="none" stroke="#2a8ed0" stroke-width="5" opacity="0.96" transform="rotate(-15 312 132)"/>
<ellipse cx="178" cy="185" rx="37" ry="42" fill="none" stroke="#2a8ed0" stroke-width="5" opacity="1.00"/>
<ellipse cx="281" cy="212" rx="37" ry="41" fill="none" stroke="#2a8ed0" stroke-width="5" opacity="0.93"/>
<ellipse cx="490" cy="225" rx="47" ry="36" fill="none" stroke="#2a8ed0" stroke-width="5" opacity="0.79"/>
<ellipse cx="534" cy="285" rx="26" ry="33" fill="none" stroke="#2a8ed0" stroke-width="5" opacity="0.69"/>
<ellipse cx="524" cy="367" rx="32" ry="39" fill="none" stroke="#2a8ed0" stroke-width="5" opacity="0.93"/>
<ellipse cx="70" cy="288" rx="49" ry="30" fill="none" stroke="#2a8ed0" stroke-width="5" opacity="0.82"/>
<ellipse cx="107" cy="333" rx="70" ry="43" fill="none" stroke="#2a8ed0" stroke-width="5" opacity="0.82"/>
<ellipse cx="104" cy="428" rx="51" ry="32" fill="none" stroke="#2a8ed0" stroke-width="5" opacity="0.93"/>
<ellipse cx="216" cy="395" rx="53" ry="50" fill="none" stroke="#2a8ed0" stroke-width="5" opacity="0.82"/>
<ellipse cx="284" cy="298" rx="55" ry="32" fill="none" stroke="#2a8ed0" stroke-width="5" opacity="0.72"/>
<ellipse cx="289" cy="387" rx="22" ry="28" fill="none" stroke="#2a8ed0" stroke-width="5" opacity="0.58"/>
<ellipse cx="390" cy="398" rx="62" ry="54" fill="none" stroke="#2a8ed0" stroke-width="5" opacity="0.93"/>
<ellipse cx="404" cy="310" rx="68" ry="35" fill="none" stroke="#2a8ed0" stroke-width="5" opacity="0.82"/>
<ellipse cx="465" cy="314" rx="26" ry="24" fill="none" stroke="#2a8ed0" stroke-width="5" opacity="0.72"/>
</g>
<g filter="url(#ovTex)" opacity="0.70">
<ellipse cx="178" cy="185" rx="40" ry="40" fill="#34c848" opacity="0.90"/>
<ellipse cx="256" cy="40" rx="50" ry="35" fill="#34c848" opacity="0.90"/>
<ellipse cx="140" cy="75" rx="45" ry="45" fill="#34c848" opacity="0.60"/>
<ellipse cx="68" cy="280" rx="50" ry="25" fill="#34c848" opacity="0.90"/>
<ellipse cx="86" cy="425" rx="40" ry="28" fill="#34c848" opacity="0.80"/>
<ellipse cx="240" cy="395" rx="32" ry="35" fill="#34c848" opacity="0.80"/>
<ellipse cx="400" cy="340" rx="70" ry="55" fill="#34c848" opacity="0.80"/>
<ellipse cx="490" cy="265" rx="40" ry="40" fill="#34c848" opacity="0.70"/>
<ellipse cx="312" cy="135" rx="45" ry="33" fill="#34c848" opacity="0.60"/>
<ellipse cx="290" cy="300" rx="30" ry="25" fill="#34c848" opacity="0.40"/>
</g>
<g filter="url(#speckA)">
<ellipse cx="158" cy="70" rx="49.4" ry="49.4" fill="#60e060" opacity="0.85"/>
<ellipse cx="262" cy="30" rx="89.3" ry="36.1" fill="#60e060" opacity="0.93"/>
<ellipse cx="252" cy="95" rx="47.5" ry="40.85" fill="#60e060" opacity="0.78"/>
<ellipse cx="312" cy="132" rx="45.6" ry="34.2" fill="#60e060" opacity="0.97" transform="rotate(-15 312 132)"/>
<ellipse cx="178" cy="185" rx="38" ry="42.75" fill="#60e060"/>
<ellipse cx="281" cy="212" rx="38" ry="41.8" fill="#60e060" opacity="0.95"/>
<ellipse cx="490" cy="225" rx="47.5" ry="37.05" fill="#60e060" opacity="0.85"/>
<ellipse cx="534" cy="285" rx="27.55" ry="34.2" fill="#60e060" opacity="0.78"/>
<ellipse cx="524" cy="367" rx="33.25" ry="39.9" fill="#60e060" opacity="0.95"/>
<ellipse cx="70" cy="288" rx="49.4" ry="31.35" fill="#60e060" opacity="0.88"/>
<ellipse cx="107" cy="333" rx="69.35" ry="43.7" fill="#60e060" opacity="0.88"/>
<ellipse cx="104" cy="428" rx="51.3" ry="33.25" fill="#60e060" opacity="0.95"/>
<ellipse cx="216" cy="395" rx="53.2" ry="50.35" fill="#60e060" opacity="0.88"/>
<ellipse cx="284" cy="298" rx="55.1" ry="33.25" fill="#60e060" opacity="0.80"/>
<ellipse cx="289" cy="387" rx="23.75" ry="29.45" fill="#60e060" opacity="0.70"/>
<ellipse cx="390" cy="398" rx="61.75" ry="54.15" fill="#60e060" opacity="0.95"/>
<ellipse cx="404" cy="310" rx="67.45" ry="36.1" fill="#60e060" opacity="0.88"/>
<ellipse cx="465" cy="314" rx="27.55" ry="25.65" fill="#60e060" opacity="0.80"/>
</g>
</g></g></g>
<clipPath id="cL"><rect x="0" y="0" width="563" height="471"/></clipPath>
<g transform="translate(1207 1504)" clip-path="url(#cL)">
<rect width="563" height="471" fill="#03021a"/>
<g><g transform="translate(0 0)">
<g filter="url(#blurMid)" opacity="0.95">
<ellipse cx="230" cy="60" rx="120" ry="60" fill="#6a24d0" opacity="0.80"/>
<ellipse cx="230" cy="190" rx="65" ry="55" fill="#6a24d0" opacity="0.60"/>
<ellipse cx="260" cy="365" rx="230" ry="95" fill="#6a24d0" opacity="0.90"/>
<ellipse cx="505" cy="300" rx="45" ry="100" fill="#6a24d0" opacity="0.60"/>
</g>
<g filter="url(#redTex)">
<ellipse cx="178" cy="185" rx="40" ry="40" fill="#f028c8" opacity="0.95"/>
<ellipse cx="256" cy="40" rx="50" ry="35" fill="#f028c8" opacity="0.95"/>
<ellipse cx="140" cy="75" rx="45" ry="45" fill="#f028c8" opacity="0.78"/>
<ellipse cx="68" cy="280" rx="50" ry="25" fill="#f028c8" opacity="0.95"/>
<ellipse cx="86" cy="425" rx="40" ry="28" fill="#f028c8" opacity="0.89"/>
<ellipse cx="240" cy="395" rx="32" ry="35" fill="#f028c8" opacity="0.89"/>
<ellipse cx="400" cy="340" rx="70" ry="55" fill="#f028c8" opacity="0.89"/>
<ellipse cx="490" cy="265" rx="40" ry="40" fill="#f028c8" opacity="0.83"/>
<ellipse cx="312" cy="135" rx="45" ry="33" fill="#f028c8" opacity="0.78"/>
<ellipse cx="290" cy="300" rx="30" ry="25" fill="#f028c8" opacity="0.67"/>
</g>
<g filter="url(#nucBase)">
<ellipse cx="158" cy="70" rx="52" ry="52" fill="#1a0ab0" opacity="0.85"/>
<ellipse cx="262" cy="30" rx="94" ry="38" fill="#1a0ab0" opacity="0.93"/>
<ellipse cx="252" cy="95" rx="50" ry="43" fill="#1a0ab0" opacity="0.78"/>
<ellipse cx="312" cy="132" rx="48" ry="36" fill="#1a0ab0" opacity="0.97" transform="rotate(-15 312 132)"/>
<ellipse cx="178" cy="185" rx="40" ry="45" fill="#1a0ab0"/>
<ellipse cx="281" cy="212" rx="40" ry="44" fill="#1a0ab0" opacity="0.95"/>
<ellipse cx="490" cy="225" rx="50" ry="39" fill="#1a0ab0" opacity="0.85"/>
<ellipse cx="534" cy="285" rx="29" ry="36" fill="#1a0ab0" opacity="0.78"/>
<ellipse cx="524" cy="367" rx="35" ry="42" fill="#1a0ab0" opacity="0.95"/>
<ellipse cx="70" cy="288" rx="52" ry="33" fill="#1a0ab0" opacity="0.88"/>
<ellipse cx="107" cy="333" rx="73" ry="46" fill="#1a0ab0" opacity="0.88"/>
<ellipse cx="104" cy="428" rx="54" ry="35" fill="#1a0ab0" opacity="0.95"/>
<ellipse cx="216" cy="395" rx="56" ry="53" fill="#1a0ab0" opacity="0.88"/>
<ellipse cx="284" cy="298" rx="58" ry="35" fill="#1a0ab0" opacity="0.80"/>
<ellipse cx="289" cy="387" rx="25" ry="31" fill="#1a0ab0" opacity="0.70"/>
<ellipse cx="390" cy="398" rx="65" ry="57" fill="#1a0ab0" opacity="0.95"/>
<ellipse cx="404" cy="310" rx="71" ry="38" fill="#1a0ab0" opacity="0.88"/>
<ellipse cx="465" cy="314" rx="29" ry="27" fill="#1a0ab0" opacity="0.80"/>
</g>
<g filter="url(#mot)">
<ellipse cx="158" cy="70" rx="52" ry="52" fill="#3a1cf0" opacity="0.78"/>
<ellipse cx="262" cy="30" rx="94" ry="38" fill="#3a1cf0" opacity="0.92"/>
<ellipse cx="252" cy="95" rx="50" ry="43" fill="#3a1cf0" opacity="0.65"/>
<ellipse cx="312" cy="132" rx="48" ry="36" fill="#3a1cf0" transform="rotate(-15 312 132)"/>
<ellipse cx="178" cy="185" rx="40" ry="45" fill="#3a1cf0"/>
<ellipse cx="281" cy="212" rx="40" ry="44" fill="#3a1cf0" opacity="0.96"/>
<ellipse cx="490" cy="225" rx="50" ry="39" fill="#3a1cf0" opacity="0.78"/>
<ellipse cx="534" cy="285" rx="29" ry="36" fill="#3a1cf0" opacity="0.65"/>
<ellipse cx="524" cy="367" rx="35" ry="42" fill="#3a1cf0" opacity="0.96"/>
<ellipse cx="70" cy="288" rx="52" ry="33" fill="#3a1cf0" opacity="0.83"/>
<ellipse cx="107" cy="333" rx="73" ry="46" fill="#3a1cf0" opacity="0.83"/>
<ellipse cx="104" cy="428" rx="54" ry="35" fill="#3a1cf0" opacity="0.96"/>
<ellipse cx="216" cy="395" rx="56" ry="53" fill="#3a1cf0" opacity="0.83"/>
<ellipse cx="284" cy="298" rx="58" ry="35" fill="#3a1cf0" opacity="0.69"/>
<ellipse cx="289" cy="387" rx="25" ry="31" fill="#3a1cf0" opacity="0.51"/>
<ellipse cx="390" cy="398" rx="65" ry="57" fill="#3a1cf0" opacity="0.96"/>
<ellipse cx="404" cy="310" rx="71" ry="38" fill="#3a1cf0" opacity="0.83"/>
<ellipse cx="465" cy="314" rx="29" ry="27" fill="#3a1cf0" opacity="0.69"/>
</g>
<g filter="url(#nucBase)">
</g>
<g filter="url(#mot2)">
<ellipse cx="158" cy="70" rx="49" ry="49" fill="none" stroke="#3a1cf0" stroke-width="5" opacity="0.79"/>
<ellipse cx="262" cy="30" rx="91" ry="35" fill="none" stroke="#3a1cf0" stroke-width="5" opacity="0.90"/>
<ellipse cx="252" cy="95" rx="47" ry="40" fill="none" stroke="#3a1cf0" stroke-width="5" opacity="0.69"/>
<ellipse cx="312" cy="132" rx="45" ry="33" fill="none" stroke="#3a1cf0" stroke-width="5" opacity="0.96" transform="rotate(-15 312 132)"/>
<ellipse cx="178" cy="185" rx="37" ry="42" fill="none" stroke="#3a1cf0" stroke-width="5" opacity="1.00"/>
<ellipse cx="281" cy="212" rx="37" ry="41" fill="none" stroke="#3a1cf0" stroke-width="5" opacity="0.93"/>
<ellipse cx="490" cy="225" rx="47" ry="36" fill="none" stroke="#3a1cf0" stroke-width="5" opacity="0.79"/>
<ellipse cx="534" cy="285" rx="26" ry="33" fill="none" stroke="#3a1cf0" stroke-width="5" opacity="0.69"/>
<ellipse cx="524" cy="367" rx="32" ry="39" fill="none" stroke="#3a1cf0" stroke-width="5" opacity="0.93"/>
<ellipse cx="70" cy="288" rx="49" ry="30" fill="none" stroke="#3a1cf0" stroke-width="5" opacity="0.82"/>
<ellipse cx="107" cy="333" rx="70" ry="43" fill="none" stroke="#3a1cf0" stroke-width="5" opacity="0.82"/>
<ellipse cx="104" cy="428" rx="51" ry="32" fill="none" stroke="#3a1cf0" stroke-width="5" opacity="0.93"/>
<ellipse cx="216" cy="395" rx="53" ry="50" fill="none" stroke="#3a1cf0" stroke-width="5" opacity="0.82"/>
<ellipse cx="284" cy="298" rx="55" ry="32" fill="none" stroke="#3a1cf0" stroke-width="5" opacity="0.72"/>
<ellipse cx="289" cy="387" rx="22" ry="28" fill="none" stroke="#3a1cf0" stroke-width="5" opacity="0.58"/>
<ellipse cx="390" cy="398" rx="62" ry="54" fill="none" stroke="#3a1cf0" stroke-width="5" opacity="0.93"/>
<ellipse cx="404" cy="310" rx="68" ry="35" fill="none" stroke="#3a1cf0" stroke-width="5" opacity="0.82"/>
<ellipse cx="465" cy="314" rx="26" ry="24" fill="none" stroke="#3a1cf0" stroke-width="5" opacity="0.72"/>
</g>
<g filter="url(#ovTex)" opacity="0.85">
<ellipse cx="178" cy="185" rx="40" ry="40" fill="#f030c8" opacity="0.90"/>
<ellipse cx="256" cy="40" rx="50" ry="35" fill="#f030c8" opacity="0.90"/>
<ellipse cx="140" cy="75" rx="45" ry="45" fill="#f030c8" opacity="0.60"/>
<ellipse cx="68" cy="280" rx="50" ry="25" fill="#f030c8" opacity="0.90"/>
<ellipse cx="86" cy="425" rx="40" ry="28" fill="#f030c8" opacity="0.80"/>
<ellipse cx="240" cy="395" rx="32" ry="35" fill="#f030c8" opacity="0.80"/>
<ellipse cx="400" cy="340" rx="70" ry="55" fill="#f030c8" opacity="0.80"/>
<ellipse cx="490" cy="265" rx="40" ry="40" fill="#f030c8" opacity="0.70"/>
<ellipse cx="312" cy="135" rx="45" ry="33" fill="#f030c8" opacity="0.60"/>
<ellipse cx="290" cy="300" rx="30" ry="25" fill="#f030c8" opacity="0.40"/>
</g>
</g></g></g>
<clipPath id="cP"><rect x="0" y="0" width="562" height="476"/></clipPath>
<g transform="translate(1783 1504)" clip-path="url(#cP)">
<rect width="562" height="476" fill="#03021a"/>
<g><g transform="translate(0 0)">
<g filter="url(#blurMid)" opacity="0.90">
<ellipse cx="230" cy="60" rx="120" ry="60" fill="#b87830" opacity="0.80"/>
<ellipse cx="230" cy="190" rx="65" ry="55" fill="#b87830" opacity="0.60"/>
<ellipse cx="260" cy="365" rx="230" ry="95" fill="#b87830" opacity="0.90"/>
<ellipse cx="505" cy="300" rx="45" ry="100" fill="#b87830" opacity="0.60"/>
</g>
<g filter="url(#redTex)">
<ellipse cx="178" cy="185" rx="40" ry="40" fill="#f0a030" opacity="0.95"/>
<ellipse cx="256" cy="40" rx="50" ry="35" fill="#f0a030" opacity="0.95"/>
<ellipse cx="140" cy="75" rx="45" ry="45" fill="#f0a030" opacity="0.78"/>
<ellipse cx="68" cy="280" rx="50" ry="25" fill="#f0a030" opacity="0.95"/>
<ellipse cx="86" cy="425" rx="40" ry="28" fill="#f0a030" opacity="0.89"/>
<ellipse cx="240" cy="395" rx="32" ry="35" fill="#f0a030" opacity="0.89"/>
<ellipse cx="400" cy="340" rx="70" ry="55" fill="#f0a030" opacity="0.89"/>
<ellipse cx="490" cy="265" rx="40" ry="40" fill="#f0a030" opacity="0.83"/>
<ellipse cx="312" cy="135" rx="45" ry="33" fill="#f0a030" opacity="0.78"/>
<ellipse cx="290" cy="300" rx="30" ry="25" fill="#f0a030" opacity="0.67"/>
</g>
<g filter="url(#nucBase)">
<ellipse cx="158" cy="70" rx="52" ry="52" fill="#160aa8" opacity="0.85"/>
<ellipse cx="262" cy="30" rx="94" ry="38" fill="#160aa8" opacity="0.93"/>
<ellipse cx="252" cy="95" rx="50" ry="43" fill="#160aa8" opacity="0.78"/>
<ellipse cx="312" cy="132" rx="48" ry="36" fill="#160aa8" opacity="0.97" transform="rotate(-15 312 132)"/>
<ellipse cx="178" cy="185" rx="40" ry="45" fill="#160aa8"/>
<ellipse cx="281" cy="212" rx="40" ry="44" fill="#160aa8" opacity="0.95"/>
<ellipse cx="490" cy="225" rx="50" ry="39" fill="#160aa8" opacity="0.85"/>
<ellipse cx="534" cy="285" rx="29" ry="36" fill="#160aa8" opacity="0.78"/>
<ellipse cx="524" cy="367" rx="35" ry="42" fill="#160aa8" opacity="0.95"/>
<ellipse cx="70" cy="288" rx="52" ry="33" fill="#160aa8" opacity="0.88"/>
<ellipse cx="107" cy="333" rx="73" ry="46" fill="#160aa8" opacity="0.88"/>
<ellipse cx="104" cy="428" rx="54" ry="35" fill="#160aa8" opacity="0.95"/>
<ellipse cx="216" cy="395" rx="56" ry="53" fill="#160aa8" opacity="0.88"/>
<ellipse cx="284" cy="298" rx="58" ry="35" fill="#160aa8" opacity="0.80"/>
<ellipse cx="289" cy="387" rx="25" ry="31" fill="#160aa8" opacity="0.70"/>
<ellipse cx="390" cy="398" rx="65" ry="57" fill="#160aa8" opacity="0.95"/>
<ellipse cx="404" cy="310" rx="71" ry="38" fill="#160aa8" opacity="0.88"/>
<ellipse cx="465" cy="314" rx="29" ry="27" fill="#160aa8" opacity="0.80"/>
</g>
<g filter="url(#mot)">
<ellipse cx="158" cy="70" rx="52" ry="52" fill="#2818e0" opacity="0.78"/>
<ellipse cx="262" cy="30" rx="94" ry="38" fill="#2818e0" opacity="0.92"/>
<ellipse cx="252" cy="95" rx="50" ry="43" fill="#2818e0" opacity="0.65"/>
<ellipse cx="312" cy="132" rx="48" ry="36" fill="#2818e0" transform="rotate(-15 312 132)"/>
<ellipse cx="178" cy="185" rx="40" ry="45" fill="#2818e0"/>
<ellipse cx="281" cy="212" rx="40" ry="44" fill="#2818e0" opacity="0.96"/>
<ellipse cx="490" cy="225" rx="50" ry="39" fill="#2818e0" opacity="0.78"/>
<ellipse cx="534" cy="285" rx="29" ry="36" fill="#2818e0" opacity="0.65"/>
<ellipse cx="524" cy="367" rx="35" ry="42" fill="#2818e0" opacity="0.96"/>
<ellipse cx="70" cy="288" rx="52" ry="33" fill="#2818e0" opacity="0.83"/>
<ellipse cx="107" cy="333" rx="73" ry="46" fill="#2818e0" opacity="0.83"/>
<ellipse cx="104" cy="428" rx="54" ry="35" fill="#2818e0" opacity="0.96"/>
<ellipse cx="216" cy="395" rx="56" ry="53" fill="#2818e0" opacity="0.83"/>
<ellipse cx="284" cy="298" rx="58" ry="35" fill="#2818e0" opacity="0.69"/>
<ellipse cx="289" cy="387" rx="25" ry="31" fill="#2818e0" opacity="0.51"/>
<ellipse cx="390" cy="398" rx="65" ry="57" fill="#2818e0" opacity="0.96"/>
<ellipse cx="404" cy="310" rx="71" ry="38" fill="#2818e0" opacity="0.83"/>
<ellipse cx="465" cy="314" rx="29" ry="27" fill="#2818e0" opacity="0.69"/>
</g>
<g filter="url(#nucBase)">
</g>
<g filter="url(#mot2)">
<ellipse cx="158" cy="70" rx="49" ry="49" fill="none" stroke="#2818e0" stroke-width="5" opacity="0.79"/>
<ellipse cx="262" cy="30" rx="91" ry="35" fill="none" stroke="#2818e0" stroke-width="5" opacity="0.90"/>
<ellipse cx="252" cy="95" rx="47" ry="40" fill="none" stroke="#2818e0" stroke-width="5" opacity="0.69"/>
<ellipse cx="312" cy="132" rx="45" ry="33" fill="none" stroke="#2818e0" stroke-width="5" opacity="0.96" transform="rotate(-15 312 132)"/>
<ellipse cx="178" cy="185" rx="37" ry="42" fill="none" stroke="#2818e0" stroke-width="5" opacity="1.00"/>
<ellipse cx="281" cy="212" rx="37" ry="41" fill="none" stroke="#2818e0" stroke-width="5" opacity="0.93"/>
<ellipse cx="490" cy="225" rx="47" ry="36" fill="none" stroke="#2818e0" stroke-width="5" opacity="0.79"/>
<ellipse cx="534" cy="285" rx="26" ry="33" fill="none" stroke="#2818e0" stroke-width="5" opacity="0.69"/>
<ellipse cx="524" cy="367" rx="32" ry="39" fill="none" stroke="#2818e0" stroke-width="5" opacity="0.93"/>
<ellipse cx="70" cy="288" rx="49" ry="30" fill="none" stroke="#2818e0" stroke-width="5" opacity="0.82"/>
<ellipse cx="107" cy="333" rx="70" ry="43" fill="none" stroke="#2818e0" stroke-width="5" opacity="0.82"/>
<ellipse cx="104" cy="428" rx="51" ry="32" fill="none" stroke="#2818e0" stroke-width="5" opacity="0.93"/>
<ellipse cx="216" cy="395" rx="53" ry="50" fill="none" stroke="#2818e0" stroke-width="5" opacity="0.82"/>
<ellipse cx="284" cy="298" rx="55" ry="32" fill="none" stroke="#2818e0" stroke-width="5" opacity="0.72"/>
<ellipse cx="289" cy="387" rx="22" ry="28" fill="none" stroke="#2818e0" stroke-width="5" opacity="0.58"/>
<ellipse cx="390" cy="398" rx="62" ry="54" fill="none" stroke="#2818e0" stroke-width="5" opacity="0.93"/>
<ellipse cx="404" cy="310" rx="68" ry="35" fill="none" stroke="#2818e0" stroke-width="5" opacity="0.82"/>
<ellipse cx="465" cy="314" rx="26" ry="24" fill="none" stroke="#2818e0" stroke-width="5" opacity="0.72"/>
</g>
<g filter="url(#ovTex2)" opacity="1.00">
<ellipse cx="178" cy="185" rx="40" ry="40" fill="#ffd058" opacity="0.90"/>
<ellipse cx="256" cy="40" rx="50" ry="35" fill="#ffd058" opacity="0.90"/>
<ellipse cx="140" cy="75" rx="45" ry="45" fill="#ffd058" opacity="0.60"/>
<ellipse cx="68" cy="280" rx="50" ry="25" fill="#ffd058" opacity="0.90"/>
<ellipse cx="86" cy="425" rx="40" ry="28" fill="#ffd058" opacity="0.80"/>
<ellipse cx="240" cy="395" rx="32" ry="35" fill="#ffd058" opacity="0.80"/>
<ellipse cx="400" cy="340" rx="70" ry="55" fill="#ffd058" opacity="0.80"/>
<ellipse cx="490" cy="265" rx="40" ry="40" fill="#ffd058" opacity="0.70"/>
<ellipse cx="312" cy="135" rx="45" ry="33" fill="#ffd058" opacity="0.60"/>
<ellipse cx="290" cy="300" rx="30" ry="25" fill="#ffd058" opacity="0.40"/>
</g>
<g filter="url(#speckB)">
<ellipse cx="158" cy="70" rx="49.4" ry="49.4" fill="#fff0e0" opacity="0.85"/>
<ellipse cx="262" cy="30" rx="89.3" ry="36.1" fill="#fff0e0" opacity="0.93"/>
<ellipse cx="252" cy="95" rx="47.5" ry="40.85" fill="#fff0e0" opacity="0.78"/>
<ellipse cx="312" cy="132" rx="45.6" ry="34.2" fill="#fff0e0" opacity="0.97" transform="rotate(-15 312 132)"/>
<ellipse cx="178" cy="185" rx="38" ry="42.75" fill="#fff0e0"/>
<ellipse cx="281" cy="212" rx="38" ry="41.8" fill="#fff0e0" opacity="0.95"/>
<ellipse cx="490" cy="225" rx="47.5" ry="37.05" fill="#fff0e0" opacity="0.85"/>
<ellipse cx="534" cy="285" rx="27.55" ry="34.2" fill="#fff0e0" opacity="0.78"/>
<ellipse cx="524" cy="367" rx="33.25" ry="39.9" fill="#fff0e0" opacity="0.95"/>
<ellipse cx="70" cy="288" rx="49.4" ry="31.35" fill="#fff0e0" opacity="0.88"/>
<ellipse cx="107" cy="333" rx="69.35" ry="43.7" fill="#fff0e0" opacity="0.88"/>
<ellipse cx="104" cy="428" rx="51.3" ry="33.25" fill="#fff0e0" opacity="0.95"/>
<ellipse cx="216" cy="395" rx="53.2" ry="50.35" fill="#fff0e0" opacity="0.88"/>
<ellipse cx="284" cy="298" rx="55.1" ry="33.25" fill="#fff0e0" opacity="0.80"/>
<ellipse cx="289" cy="387" rx="23.75" ry="29.45" fill="#fff0e0" opacity="0.70"/>
<ellipse cx="390" cy="398" rx="61.75" ry="54.15" fill="#fff0e0" opacity="0.95"/>
<ellipse cx="404" cy="310" rx="67.45" ry="36.1" fill="#fff0e0" opacity="0.88"/>
<ellipse cx="465" cy="314" rx="27.55" ry="25.65" fill="#fff0e0" opacity="0.80"/>
<ellipse cx="178" cy="185" rx="32" ry="32" fill="#fff0e0" opacity="0.54"/>
<ellipse cx="256" cy="40" rx="40" ry="28" fill="#fff0e0" opacity="0.54"/>
<ellipse cx="140" cy="75" rx="36" ry="36" fill="#fff0e0" opacity="0.36"/>
<ellipse cx="68" cy="280" rx="40" ry="20" fill="#fff0e0" opacity="0.54"/>
<ellipse cx="86" cy="425" rx="32" ry="22.4" fill="#fff0e0" opacity="0.48"/>
<ellipse cx="240" cy="395" rx="25.6" ry="28" fill="#fff0e0" opacity="0.48"/>
<ellipse cx="400" cy="340" rx="56" ry="44" fill="#fff0e0" opacity="0.48"/>
<ellipse cx="490" cy="265" rx="32" ry="32" fill="#fff0e0" opacity="0.42"/>
<ellipse cx="312" cy="135" rx="36" ry="26.4" fill="#fff0e0" opacity="0.36"/>
<ellipse cx="290" cy="300" rx="24" ry="20" fill="#fff0e0" opacity="0.24"/>
</g>
</g></g></g>
<rect x="628" y="54" width="7" height="472" fill="#c4c4cc"/>
<rect x="1770" y="58" width="8" height="103" fill="#a9a9a9"/>
<text x="567.5" y="128" font-family="'Liberation Sans', Arial, sans-serif" font-size="58" font-weight="bold" fill="#fff" text-anchor="middle">A</text>
<text x="1126" y="134" font-family="'Liberation Sans', Arial, sans-serif" font-size="58" font-weight="bold" fill="#fff" text-anchor="middle">E</text>
<text x="1705" y="131.5" font-family="'Liberation Sans', Arial, sans-serif" font-size="58" font-weight="bold" fill="#fff" text-anchor="middle">I</text>
<text x="2288" y="132" font-family="'Liberation Sans', Arial, sans-serif" font-size="58" font-weight="bold" fill="#fff" text-anchor="middle">M</text>
<text x="553" y="610.5" font-family="'Liberation Sans', Arial, sans-serif" font-size="58" font-weight="bold" fill="#fff" text-anchor="middle">B</text>
<text x="1126" y="614" font-family="'Liberation Sans', Arial, sans-serif" font-size="58" font-weight="bold" fill="#fff" text-anchor="middle">F</text>
<text x="1694" y="614" font-family="'Liberation Sans', Arial, sans-serif" font-size="58" font-weight="bold" fill="#fff" text-anchor="middle">J</text>
<text x="2283" y="614" font-family="'Liberation Sans', Arial, sans-serif" font-size="58" font-weight="bold" fill="#fff" text-anchor="middle">N</text>
<text x="555" y="1104" font-family="'Liberation Sans', Arial, sans-serif" font-size="58" font-weight="bold" fill="#fff" text-anchor="middle">C</text>
<text x="1131.5" y="1099" font-family="'Liberation Sans', Arial, sans-serif" font-size="58" font-weight="bold" fill="#fff" text-anchor="middle">G</text>
<text x="1712" y="1100" font-family="'Liberation Sans', Arial, sans-serif" font-size="58" font-weight="bold" fill="#fff" text-anchor="middle">K</text>
<text x="2283" y="1099" font-family="'Liberation Sans', Arial, sans-serif" font-size="58" font-weight="bold" fill="#fff" text-anchor="middle">O</text>
<text x="560" y="1580" font-family="'Liberation Sans', Arial, sans-serif" font-size="58" font-weight="bold" fill="#fff" text-anchor="middle">D</text>
<text x="1128" y="1588" font-family="'Liberation Sans', Arial, sans-serif" font-size="58" font-weight="bold" fill="#fff" text-anchor="middle">H</text>
<text x="1701" y="1580" font-family="'Liberation Sans', Arial, sans-serif" font-size="58" font-weight="bold" fill="#fff" text-anchor="middle">L</text>
<text x="2284" y="1580" font-family="'Liberation Sans', Arial, sans-serif" font-size="58" font-weight="bold" fill="#fff" text-anchor="middle">P</text>
<text x="75" y="101.5" font-family="'Liberation Sans', Arial, sans-serif" font-size="42" font-weight="bold" fill="#1f9f3a" text-anchor="start" textLength="184" lengthAdjust="spacingAndGlyphs">ds-DNA</text>
<text x="83" y="145.5" font-family="'Liberation Sans', Arial, sans-serif" font-size="42" font-weight="bold" fill="#f01414" text-anchor="start" textLength="67" lengthAdjust="spacingAndGlyphs">mt</text>
<text x="77" y="207" font-family="'Liberation Sans', Arial, sans-serif" font-size="43" font-weight="bold" fill="#1e34c8" text-anchor="start" textLength="113" lengthAdjust="spacingAndGlyphs">DAPI</text>
<text transform="translate(127 419.5) rotate(-90)" font-family="'Liberation Sans', Arial, sans-serif" font-size="46" font-weight="bold" fill="#fff" text-anchor="start" textLength="130" lengthAdjust="spacingAndGlyphs">Control</text>
<text transform="translate(126 877) rotate(-90)" font-family="'Liberation Sans', Arial, sans-serif" font-size="46" font-weight="bold" fill="#fff" text-anchor="start" textLength="211" lengthAdjust="spacingAndGlyphs">PA (100µM)</text>
<text transform="translate(129.5 1360) rotate(-90)" font-family="'Liberation Sans', Arial, sans-serif" font-size="46" font-weight="bold" fill="#fff" text-anchor="start" textLength="208" lengthAdjust="spacingAndGlyphs">PA (200µM)</text>
<text transform="translate(129.5 1848) rotate(-90)" font-family="'Liberation Sans', Arial, sans-serif" font-size="46" font-weight="bold" fill="#fff" text-anchor="start" textLength="210" lengthAdjust="spacingAndGlyphs">PA (400µM)</text>
<rect x="2220" y="498" width="89" height="12" fill="#fff"/>
<text x="2265.5" y="490" font-family="'Liberation Sans', Arial, sans-serif" font-size="18" font-weight="normal" fill="#b8b8b8" text-anchor="middle" textLength="67" lengthAdjust="spacingAndGlyphs">10 µm</text>
<rect x="2225" y="979" width="89.5" height="12" fill="#fff"/>
<text x="2271" y="973" font-family="'Liberation Sans', Arial, sans-serif" font-size="18" font-weight="normal" fill="#b8b8b8" text-anchor="middle" textLength="66" lengthAdjust="spacingAndGlyphs">10 µm</text>
<rect x="2220" y="1463" width="98" height="8.5" fill="#fff"/>
<text x="2269" y="1456" font-family="'Liberation Sans', Arial, sans-serif" font-size="18" font-weight="normal" fill="#b8b8b8" text-anchor="middle" textLength="67" lengthAdjust="spacingAndGlyphs">10 µm</text>
<rect x="2231" y="1955" width="87" height="9" fill="#fff"/>
<text x="2274.75" y="1948" font-family="'Liberation Sans', Arial, sans-serif" font-size="18" font-weight="normal" fill="#b8b8b8" text-anchor="middle" textLength="55.5" lengthAdjust="spacingAndGlyphs">10 µm</text>
<polygon points="1856,159.5 1932,179.25 1856,199" fill="#000" stroke="#fff" stroke-width="5" stroke-linejoin="miter"/>
<polygon points="1835,730 1912,751 1835,772" fill="#000" stroke="#fff" stroke-width="5" stroke-linejoin="miter"/>
<polygon points="1825,1220 1902,1237 1825,1254" fill="#000" stroke="#fff" stroke-width="5" stroke-linejoin="miter"/>
<polygon points="1821,1675 1898,1695 1821,1715" fill="#000" stroke="#fff" stroke-width="5" stroke-linejoin="miter"/>
<line x1="316" y1="2126" x2="316" y2="2702" stroke="#000" stroke-width="6"/>
<line x1="313" y1="2696" x2="1093" y2="2696" stroke="#000" stroke-width="5"/>
<line x1="303" y1="2696" x2="316" y2="2696" stroke="#000" stroke-width="5"/>
<text x="274" y="2711" font-family="'Liberation Sans', Arial, sans-serif" font-size="42" font-weight="normal" fill="#111" text-anchor="end" textLength="67" lengthAdjust="spacingAndGlyphs">0.0</text>
<line x1="303" y1="2601.5" x2="316" y2="2601.5" stroke="#000" stroke-width="5"/>
<text x="274" y="2616.5" font-family="'Liberation Sans', Arial, sans-serif" font-size="42" font-weight="normal" fill="#111" text-anchor="end" textLength="67" lengthAdjust="spacingAndGlyphs">0.2</text>
<line x1="303" y1="2507" x2="316" y2="2507" stroke="#000" stroke-width="5"/>
<text x="274" y="2522" font-family="'Liberation Sans', Arial, sans-serif" font-size="42" font-weight="normal" fill="#111" text-anchor="end" textLength="67" lengthAdjust="spacingAndGlyphs">0.4</text>
<line x1="303" y1="2412.5" x2="316" y2="2412.5" stroke="#000" stroke-width="5"/>
<text x="274" y="2427.5" font-family="'Liberation Sans', Arial, sans-serif" font-size="42" font-weight="normal" fill="#111" text-anchor="end" textLength="67" lengthAdjust="spacingAndGlyphs">0.6</text>
<line x1="303" y1="2318" x2="316" y2="2318" stroke="#000" stroke-width="5"/>
<text x="274" y="2333" font-family="'Liberation Sans', Arial, sans-serif" font-size="42" font-weight="normal" fill="#111" text-anchor="end" textLength="67" lengthAdjust="spacingAndGlyphs">0.8</text>
<line x1="303" y1="2223.5" x2="316" y2="2223.5" stroke="#000" stroke-width="5"/>
<text x="274" y="2238.5" font-family="'Liberation Sans', Arial, sans-serif" font-size="42" font-weight="normal" fill="#111" text-anchor="end" textLength="67" lengthAdjust="spacingAndGlyphs">1.0</text>
<line x1="303" y1="2129" x2="316" y2="2129" stroke="#000" stroke-width="5"/>
<text x="274" y="2144" font-family="'Liberation Sans', Arial, sans-serif" font-size="42" font-weight="normal" fill="#111" text-anchor="end" textLength="67" lengthAdjust="spacingAndGlyphs">1.2</text>
<line x1="316" y1="2694" x2="316" y2="2707" stroke="#000" stroke-width="5"/>
<text x="316" y="2755" font-family="'Liberation Serif', 'Times New Roman', serif" font-size="36" font-weight="bold" fill="#3c3c3c" text-anchor="middle" textLength="19" lengthAdjust="spacingAndGlyphs">0</text>
<line x1="509.6" y1="2694" x2="509.6" y2="2707" stroke="#000" stroke-width="5"/>
<text x="509.6" y="2755" font-family="'Liberation Serif', 'Times New Roman', serif" font-size="36" font-weight="bold" fill="#3c3c3c" text-anchor="middle" textLength="63" lengthAdjust="spacingAndGlyphs">100</text>
<line x1="703.2" y1="2694" x2="703.2" y2="2707" stroke="#000" stroke-width="5"/>
<text x="703.2" y="2755" font-family="'Liberation Serif', 'Times New Roman', serif" font-size="36" font-weight="bold" fill="#3c3c3c" text-anchor="middle" textLength="63" lengthAdjust="spacingAndGlyphs">200</text>
<line x1="896.8" y1="2694" x2="896.8" y2="2707" stroke="#000" stroke-width="5"/>
<text x="896.8" y="2755" font-family="'Liberation Serif', 'Times New Roman', serif" font-size="36" font-weight="bold" fill="#3c3c3c" text-anchor="middle" textLength="63" lengthAdjust="spacingAndGlyphs">300</text>
<line x1="1090.4" y1="2694" x2="1090.4" y2="2707" stroke="#000" stroke-width="5"/>
<text x="1090.4" y="2755" font-family="'Liberation Serif', 'Times New Roman', serif" font-size="36" font-weight="bold" fill="#3c3c3c" text-anchor="middle" textLength="63" lengthAdjust="spacingAndGlyphs">400</text>
<text x="720" y="2811" font-family="'Liberation Sans', Arial, sans-serif" font-size="34" font-weight="bold" fill="#111" text-anchor="middle" textLength="655" lengthAdjust="spacingAndGlyphs">Palmitic acid concentration (µM)</text>
<text transform="translate(96 2669) rotate(-90)" font-family="'Liberation Sans', Arial, sans-serif" font-size="44" font-weight="bold" fill="#111" text-anchor="start" textLength="566" lengthAdjust="spacingAndGlyphs">Mander’s overlap coefficient</text>
<text transform="translate(160 2499) rotate(-90)" font-family="'Liberation Sans', Arial, sans-serif" font-size="44" font-weight="bold" fill="#111"><tspan textLength="205" lengthAdjust="spacingAndGlyphs">(MOC) x 10</tspan><tspan dy="-16" font-size="28">6</tspan></text>
<line x1="316" y1="2606.5" x2="1080" y2="2303.5" stroke="#000" stroke-width="5" stroke-dasharray="16 8"/>
<line x1="316" y1="2622" x2="316" y2="2657" stroke="#4a4a4a" stroke-width="2.5"/>
<line x1="310" y1="2657" x2="322" y2="2657" stroke="#4a4a4a" stroke-width="2.5"/>
<line x1="509" y1="2410" x2="509" y2="2506" stroke="#4a4a4a" stroke-width="2.5"/>
<line x1="501.5" y1="2410" x2="516.5" y2="2410" stroke="#4a4a4a" stroke-width="2.5"/>
<line x1="501.5" y1="2506" x2="516.5" y2="2506" stroke="#4a4a4a" stroke-width="2.5"/>
<line x1="703.5" y1="2447" x2="703.5" y2="2550" stroke="#4a4a4a" stroke-width="2.5"/>
<line x1="696" y1="2447" x2="711" y2="2447" stroke="#4a4a4a" stroke-width="2.5"/>
<line x1="696" y1="2550" x2="711" y2="2550" stroke="#4a4a4a" stroke-width="2.5"/>
<line x1="1091.5" y1="2230" x2="1091.5" y2="2348" stroke="#4a4a4a" stroke-width="2.5"/>
<line x1="1082.5" y1="2230" x2="1091.5" y2="2230" stroke="#4a4a4a" stroke-width="2.5"/>
<line x1="1082.5" y1="2348" x2="1091.5" y2="2348" stroke="#4a4a4a" stroke-width="2.5"/>
<polygon points="318,2623 304,2645 332,2645" fill="#000"/>
<polygon points="509,2448 495,2470 523,2470" fill="#000"/>
<polygon points="703.5,2489 689.5,2511 717.5,2511" fill="#000"/>
<polygon points="1090,2278 1076,2300 1104,2300" fill="#000"/>
<text x="1184.5" y="2123" font-family="'Liberation Sans', Arial, sans-serif" font-size="57" font-weight="bold" fill="#000" text-anchor="middle" textLength="51" lengthAdjust="spacingAndGlyphs">Q</text>
<line x1="1519.5" y1="2121" x2="1519.5" y2="2692" stroke="#000" stroke-width="6"/>
<line x1="1516" y1="2687" x2="2338" y2="2687" stroke="#000" stroke-width="5"/>
<line x1="1507" y1="2686" x2="1519.5" y2="2686" stroke="#000" stroke-width="5"/>
<line x1="1507" y1="2405" x2="1519.5" y2="2405" stroke="#000" stroke-width="5"/>
<line x1="1507" y1="2124" x2="1519.5" y2="2124" stroke="#000" stroke-width="5"/>
<text x="1480.5" y="2154" font-family="'Liberation Sans', Arial, sans-serif" font-size="42" font-weight="normal" fill="#111" text-anchor="end" textLength="67" lengthAdjust="spacingAndGlyphs">1.0</text>
<text x="1480.5" y="2416.5" font-family="'Liberation Sans', Arial, sans-serif" font-size="42" font-weight="normal" fill="#111" text-anchor="end" textLength="68" lengthAdjust="spacingAndGlyphs">0.5</text>
<text x="1479" y="2700.5" font-family="'Liberation Sans', Arial, sans-serif" font-size="42" font-weight="normal" fill="#111" text-anchor="end" textLength="26" lengthAdjust="spacingAndGlyphs">0</text>
<line x1="1521" y1="2685" x2="1521" y2="2700" stroke="#000" stroke-width="5"/>
<text x="1521" y="2750" font-family="'Liberation Serif', 'Times New Roman', serif" font-size="36" font-weight="bold" fill="#3c3c3c" text-anchor="middle" textLength="19" lengthAdjust="spacingAndGlyphs">0</text>
<line x1="1724.3" y1="2685" x2="1724.3" y2="2700" stroke="#000" stroke-width="5"/>
<text x="1724.3" y="2750" font-family="'Liberation Serif', 'Times New Roman', serif" font-size="36" font-weight="bold" fill="#3c3c3c" text-anchor="middle" textLength="63" lengthAdjust="spacingAndGlyphs">100</text>
<line x1="1927.6" y1="2685" x2="1927.6" y2="2700" stroke="#000" stroke-width="5"/>
<text x="1927.6" y="2750" font-family="'Liberation Serif', 'Times New Roman', serif" font-size="36" font-weight="bold" fill="#3c3c3c" text-anchor="middle" textLength="63" lengthAdjust="spacingAndGlyphs">200</text>
<line x1="2130.9" y1="2685" x2="2130.9" y2="2700" stroke="#000" stroke-width="5"/>
<text x="2130.9" y="2750" font-family="'Liberation Serif', 'Times New Roman', serif" font-size="36" font-weight="bold" fill="#3c3c3c" text-anchor="middle" textLength="63" lengthAdjust="spacingAndGlyphs">300</text>
<line x1="2334.2" y1="2685" x2="2334.2" y2="2700" stroke="#000" stroke-width="5"/>
<text x="2334.2" y="2750" font-family="'Liberation Serif', 'Times New Roman', serif" font-size="36" font-weight="bold" fill="#3c3c3c" text-anchor="middle" textLength="63" lengthAdjust="spacingAndGlyphs">400</text>
<text x="1935.5" y="2807" font-family="'Liberation Sans', Arial, sans-serif" font-size="34" font-weight="bold" fill="#111" text-anchor="middle" textLength="657" lengthAdjust="spacingAndGlyphs">Palmitic acid concentration (µM)</text>
<text transform="translate(1318 2697) rotate(-90)" font-family="'Liberation Sans', Arial, sans-serif" font-size="44" font-weight="bold" fill="#111" text-anchor="start" textLength="561" lengthAdjust="spacingAndGlyphs">Mander’s overlap coefficient</text>
<text transform="translate(1381 2493) rotate(-90)" font-family="'Liberation Sans', Arial, sans-serif" font-size="44" font-weight="bold" fill="#111" text-anchor="start" textLength="168" lengthAdjust="spacingAndGlyphs">(M1 + 2)</text>
<polygon points="1596,2112.5 1582.5,2133.5 1609.5,2133.5" fill="#000"/>
<text x="1612" y="2133" font-family="'Liberation Serif', 'Times New Roman', serif" font-size="30" font-weight="bold" fill="#222" text-anchor="start" textLength="280" lengthAdjust="spacingAndGlyphs">M1 (dsDNA/mt)</text>
<rect x="1935.5" y="2112" width="21" height="18" fill="#000"/>
<text x="1966" y="2133" font-family="'Liberation Serif', 'Times New Roman', serif" font-size="30" font-weight="bold" fill="#222" text-anchor="start" textLength="281" lengthAdjust="spacingAndGlyphs">M2 (mt/dsDNA)</text>
<text x="2334" y="2124.5" font-family="'Liberation Sans', Arial, sans-serif" font-size="47" font-weight="bold" fill="#000" text-anchor="middle" textLength="47" lengthAdjust="spacingAndGlyphs">R</text>
<path d="M1531 2605 C1536.8 2600.0 1554.5 2584.3 1566 2575 C1577.5 2565.7 1589.3 2557.2 1600 2549 C1610.7 2540.8 1619.7 2534.2 1630 2526 C1640.3 2517.8 1652.7 2507.2 1662 2500 C1671.3 2492.8 1677.0 2489.5 1686 2483 C1695.0 2476.5 1707.5 2467.2 1716 2461 C1724.5 2454.8 1728.2 2452.3 1737 2446 C1745.8 2439.7 1759.0 2430.0 1769 2423 C1779.0 2416.0 1788.5 2409.7 1797 2404 C1805.5 2398.3 1809.5 2395.8 1820 2389 C1830.5 2382.2 1846.7 2371.3 1860 2363 C1873.3 2354.7 1888.5 2345.3 1900 2339 C1911.5 2332.7 1918.8 2330.0 1929 2325 C1939.2 2320.0 1945.7 2316.3 1961 2309 C1976.3 2301.7 2001.0 2289.7 2021 2281 C2041.0 2272.3 2061.0 2265.0 2081 2257 C2101.0 2249.0 2120.8 2240.3 2141 2233 C2161.2 2225.7 2181.8 2218.5 2202 2213 C2222.2 2207.5 2245.3 2203.5 2262 2200 C2278.7 2196.5 2289.7 2194.5 2302 2192 C2314.3 2189.5 2330.3 2186.2 2336 2185" fill="none" stroke="#000" stroke-width="5" stroke-dasharray="15 8"/>
<line x1="1531" y1="2495.5" x2="2322" y2="2448.5" stroke="#000" stroke-width="5" stroke-dasharray="17 9"/>
<line x1="1521" y1="2595" x2="1521" y2="2640" stroke="#111" stroke-width="3"/>
<line x1="1515" y1="2595" x2="1527" y2="2595" stroke="#111" stroke-width="3"/>
<line x1="1515" y1="2640" x2="1527" y2="2640" stroke="#111" stroke-width="3"/>
<line x1="1521" y1="2488" x2="1521" y2="2541" stroke="#111" stroke-width="3"/>
<line x1="1515" y1="2488" x2="1527" y2="2488" stroke="#111" stroke-width="3"/>
<line x1="1515" y1="2541" x2="1527" y2="2541" stroke="#111" stroke-width="3"/>
<line x1="1726" y1="2375" x2="1726" y2="2430" stroke="#111" stroke-width="3"/>
<line x1="1718" y1="2375" x2="1734" y2="2375" stroke="#111" stroke-width="3"/>
<line x1="1726" y1="2440" x2="1726" y2="2523.5" stroke="#111" stroke-width="3"/>
<line x1="1718" y1="2523.5" x2="1734" y2="2523.5" stroke="#111" stroke-width="3"/>
<line x1="1928.5" y1="2288" x2="1928.5" y2="2350" stroke="#111" stroke-width="3"/>
<line x1="1920.5" y1="2288" x2="1936.5" y2="2288" stroke="#111" stroke-width="3"/>
<line x1="1920.5" y1="2350" x2="1936.5" y2="2350" stroke="#111" stroke-width="3"/>
<line x1="1928.5" y1="2485" x2="1928.5" y2="2555" stroke="#111" stroke-width="3"/>
<line x1="1920.5" y1="2485" x2="1936.5" y2="2485" stroke="#111" stroke-width="3"/>
<line x1="1920.5" y1="2555" x2="1936.5" y2="2555" stroke="#111" stroke-width="3"/>
<line x1="2338" y1="2176" x2="2338" y2="2218.5" stroke="#111" stroke-width="3"/>
<line x1="2330" y1="2176" x2="2338" y2="2176" stroke="#111" stroke-width="3"/>
<line x1="2330" y1="2218.5" x2="2338" y2="2218.5" stroke="#111" stroke-width="3"/>
<line x1="2338" y1="2408.5" x2="2338" y2="2471.5" stroke="#111" stroke-width="3"/>
<line x1="2330" y1="2408.5" x2="2338" y2="2408.5" stroke="#111" stroke-width="3"/>
<line x1="2330" y1="2471.5" x2="2338" y2="2471.5" stroke="#111" stroke-width="3"/>
<polygon points="1522,2602 1509,2622 1535,2622" fill="#000"/>
<polygon points="1725,2460 1712,2480 1738,2480" fill="#000"/>
<polygon points="1929,2306 1916,2326 1942,2326" fill="#000"/>
<polygon points="2338,2176 2325,2196 2351,2196" fill="#000"/>
<rect x="1505" y="2496" width="26" height="22" fill="#000"/>
<rect x="1708" y="2415" width="26" height="22" fill="#000"/>
<rect x="1911" y="2503.5" width="26" height="22" fill="#000"/>
<rect x="2321" y="2425" width="26" height="22" fill="#000"/>
<path d="M946.5 3277.0 L946.5 3258.7 L950.1 3258.7 L950.1 3208.2 L953.7 3208.2 L953.7 3262.7 L957.3 3262.7 L957.3 3232.4 L960.9 3232.4 L960.9 3248.0 L964.5 3248.0 L964.5 3222.9 L968.1 3222.9 L968.1 3198.5 L971.7 3198.5 L971.7 3277.0 L975.3 3277.0 L975.3 3227.2 L978.9 3227.2 L978.9 3277.0 L982.5 3277.0 L982.5 3241.4 L986.1 3241.4 L986.1 3264.6 L989.7 3264.6 L989.7 3243.8 L993.3 3243.8 L993.3 3277.0 L996.9 3277.0 L996.9 3277.0 L1000.5 3277.0 L1000.5 3230.8 L1004.1 3230.8 L1004.1 3192.3 L1007.7 3192.3 L1007.7 3249.0 L1011.3 3249.0 L1011.3 3211.5 L1014.9 3211.5 L1014.9 3229.0 L1018.5 3229.0 L1018.5 3271.0 L1022.1 3271.0 L1022.1 3249.9 L1025.7 3249.9 L1025.7 3260.6 L1029.3 3260.6 L1029.3 3255.4 L1032.9 3255.4 L1032.9 3191.3 L1036.5 3191.3 L1036.5 3218.9 L1040.1 3218.9 L1040.1 3277.0 L1043.7 3277.0 L1043.7 3193.0 L1047.3 3193.0 L1047.3 3228.4 L1050.9 3228.4 L1050.9 3277.0 L1054.5 3277.0 L1054.5 3205.5 L1058.1 3205.5 L1058.1 3277.0 L1061.7 3277.0 L1061.7 3277.0 L1065.3 3277.0 L1065.3 3216.5 L1068.9 3216.5 L1068.9 3256.4 L1072.5 3256.4 L1072.5 3274.5 L1076.1 3274.5 L1076.1 3277.0 L1079.7 3277.0 L1079.7 3270.1 L1083.3 3270.1 L1083.3 3259.8 L1086.9 3259.8 L1086.9 3255.6 L1090.5 3255.6 L1090.5 3215.4 L1094.1 3215.4 L1094.1 3237.5 L1097.7 3237.5 L1097.7 3224.6 L1101.3 3224.6 L1101.3 3259.4 L1104.9 3259.4 L1104.9 3241.6 L1108.5 3241.6 L1108.5 3277.0 L1112.1 3277.0 L1112.1 3227.4 L1115.7 3227.4 L1115.7 3241.9 L1119.3 3241.9 L1119.3 3230.8 L1122.9 3230.8 L1122.9 3257.3 L1126.5 3257.3 L1126.5 3277.0 L1130.1 3277.0 L1130.1 3262.3 L1133.7 3262.3 L1133.7 3224.4 L1137.3 3224.4 L1137.3 3252.3 L1140.9 3252.3 L1140.9 3261.9 L1144.5 3261.9 L1144.5 3249.0 L1148.1 3249.0 L1148.1 3273.7 L1151.7 3273.7 L1151.7 3264.1 L1155.3 3264.1 L1155.3 3267.9 L1158.9 3267.9 L1158.9 3253.6 L1162.5 3253.6 L1162.5 3241.5 L1166.1 3241.5 L1166.1 3259.9 L1169.7 3259.9 L1169.7 3273.5 L1173.3 3273.5 L1173.3 3277.0 L1176.9 3277.0 L1176.9 3243.6 L1180.5 3243.6 L1180.5 3227.0 L1184.1 3227.0 L1184.1 3247.5 L1187.7 3247.5 L1187.7 3259.5 L1191.3 3259.5 L1191.3 3159.6 L1194.9 3159.6 L1194.9 3277.0 L1198.5 3277.0 L1198.5 3277.0 L1202.1 3277.0 L1202.1 3222.7 L1205.7 3222.7 L1205.7 3277.0 L1209.3 3277.0 L1209.3 3206.3 L1212.9 3206.3 L1212.9 3277.0 L1216.5 3277.0 L1216.5 3222.0 L1220.1 3222.0 L1220.1 3233.1 L1223.7 3233.1 L1223.7 3277.0 L1227.3 3277.0 L1227.3 3277.0 L1230.9 3277.0 L1230.9 3277.0 L1234.5 3277.0 L1234.5 3254.3 L1238.1 3254.3 L1238.1 3255.8 L1241.7 3255.8 L1241.7 3277.0 L1245.3 3277.0 L1245.3 3271.5 L1248.9 3271.5 L1248.9 3209.8 L1252.0 3209.8 L1252.0 3277.0 Z" fill="#f7c2c2" opacity="0.45"/>
<path d="M360.0 3277.0 L360.0 3174.7 L363.8 3174.7 L363.8 3163.9 L367.6 3163.9 L367.6 3187.9 L371.4 3187.9 L371.4 3277.0 L375.2 3277.0 L375.2 3277.0 L379.0 3277.0 L379.0 3277.0 L382.8 3277.0 L382.8 3277.0 L386.6 3277.0 L386.6 3277.0 L390.4 3277.0 L390.4 3081.5 L394.2 3081.5 L394.2 3017.1 L398.0 3017.1 L398.0 3001.2 L401.8 3001.2 L401.8 2949.9 L405.6 2949.9 L405.6 3018.2 L409.4 3018.2 L409.4 2965.3 L413.2 2965.3 L413.2 3005.6 L417.0 3005.6 L417.0 2972.4 L420.8 2972.4 L420.8 2937.5 L424.6 2937.5 L424.6 2954.1 L428.4 2954.1 L428.4 2948.6 L432.2 2948.6 L432.2 3036.8 L436.0 3036.8 L436.0 2974.0 L439.8 2974.0 L439.8 2937.5 L443.6 2937.5 L443.6 2941.7 L447.4 2941.7 L447.4 2944.0 L451.2 2944.0 L451.2 3007.3 L455.0 3007.3 L455.0 3043.7 L458.8 3043.7 L458.8 3038.2 L462.6 3038.2 L462.6 3036.3 L466.4 3036.3 L466.4 3036.1 L470.2 3036.1 L470.2 3072.1 L474.0 3072.1 L474.0 3024.1 L477.8 3024.1 L477.8 3033.4 L481.6 3033.4 L481.6 3089.2 L485.4 3089.2 L485.4 3052.4 L489.2 3052.4 L489.2 3003.3 L493.0 3003.3 L493.0 3006.3 L496.8 3006.3 L496.8 3051.3 L500.6 3051.3 L500.6 3002.3 L504.4 3002.3 L504.4 3116.1 L508.2 3116.1 L508.2 3027.2 L512.0 3027.2 L512.0 3030.8 L515.8 3030.8 L515.8 3024.4 L519.6 3024.4 L519.6 3065.3 L523.4 3065.3 L523.4 3080.4 L527.2 3080.4 L527.2 3106.3 L531.0 3106.3 L531.0 3115.2 L534.8 3115.2 L534.8 3133.4 L538.6 3133.4 L538.6 3119.8 L542.4 3119.8 L542.4 3111.0 L546.2 3111.0 L546.2 3109.6 L550.0 3109.6 L550.0 3129.7 L553.8 3129.7 L553.8 3124.1 L557.6 3124.1 L557.6 3124.5 L561.4 3124.5 L561.4 3154.5 L565.2 3154.5 L565.2 3143.5 L569.0 3143.5 L569.0 3143.0 L572.8 3143.0 L572.8 3146.5 L576.6 3146.5 L576.6 3151.7 L580.4 3151.7 L580.4 3143.9 L584.2 3143.9 L584.2 3166.0 L588.0 3166.0 L588.0 3162.8 L591.8 3162.8 L591.8 3149.7 L595.6 3149.7 L595.6 3105.4 L599.4 3105.4 L599.4 3145.2 L603.2 3145.2 L603.2 3134.4 L607.0 3134.4 L607.0 3141.8 L610.8 3141.8 L610.8 3140.3 L614.6 3140.3 L614.6 3143.0 L618.4 3143.0 L618.4 3163.7 L622.2 3163.7 L622.2 3189.7 L626.0 3189.7 L626.0 3134.5 L629.8 3134.5 L629.8 3156.4 L633.6 3156.4 L633.6 3144.2 L637.4 3144.2 L637.4 3158.0 L641.2 3158.0 L641.2 3218.3 L645.0 3218.3 L645.0 3123.3 L648.8 3123.3 L648.8 3147.5 L652.6 3147.5 L652.6 3173.9 L656.4 3173.9 L656.4 3156.8 L660.2 3156.8 L660.2 3172.1 L664.0 3172.1 L664.0 3161.2 L667.8 3161.2 L667.8 3178.3 L671.6 3178.3 L671.6 3185.2 L675.4 3185.2 L675.4 3180.3 L679.2 3180.3 L679.2 3178.4 L683.0 3178.4 L683.0 3177.8 L686.8 3177.8 L686.8 3163.2 L690.6 3163.2 L690.6 3186.4 L694.4 3186.4 L694.4 3184.7 L698.2 3184.7 L698.2 3229.1 L702.0 3229.1 L702.0 3163.8 L705.8 3163.8 L705.8 3176.7 L709.6 3176.7 L709.6 3184.9 L713.4 3184.9 L713.4 3194.1 L717.2 3194.1 L717.2 3185.3 L721.0 3185.3 L721.0 3185.8 L724.8 3185.8 L724.8 3187.6 L728.6 3187.6 L728.6 3185.8 L732.4 3185.8 L732.4 3211.5 L736.2 3211.5 L736.2 3188.4 L740.0 3188.4 L740.0 3194.2 L743.8 3194.2 L743.8 3189.6 L747.6 3189.6 L747.6 3191.1 L751.4 3191.1 L751.4 3202.6 L755.2 3202.6 L755.2 3188.3 L759.0 3188.3 L759.0 3186.1 L762.8 3186.1 L762.8 3198.7 L766.6 3198.7 L766.6 3214.3 L770.4 3214.3 L770.4 3198.1 L774.2 3198.1 L774.2 3187.6 L778.0 3187.6 L778.0 3196.6 L781.8 3196.6 L781.8 3197.3 L785.6 3197.3 L785.6 3197.3 L789.4 3197.3 L789.4 3192.2 L793.2 3192.2 L793.2 3177.6 L797.0 3177.6 L797.0 3188.8 L800.8 3188.8 L800.8 3226.4 L804.6 3226.4 L804.6 3142.3 L808.4 3142.3 L808.4 3149.8 L812.2 3149.8 L812.2 3190.6 L816.0 3190.6 L816.0 3205.6 L819.8 3205.6 L819.8 3206.9 L823.6 3206.9 L823.6 3200.4 L827.4 3200.4 L827.4 3204.3 L831.2 3204.3 L831.2 3188.8 L835.0 3188.8 L835.0 3198.2 L838.8 3198.2 L838.8 3200.1 L842.6 3200.1 L842.6 3190.7 L846.4 3190.7 L846.4 3210.3 L850.2 3210.3 L850.2 3208.9 L854.0 3208.9 L854.0 3195.7 L857.8 3195.7 L857.8 3201.1 L861.6 3201.1 L861.6 3197.9 L865.4 3197.9 L865.4 3203.7 L869.2 3203.7 L869.2 3224.0 L873.0 3224.0 L873.0 3215.4 L876.8 3215.4 L876.8 3214.5 L880.6 3214.5 L880.6 3225.7 L884.4 3225.7 L884.4 3225.2 L888.2 3225.2 L888.2 3236.9 L892.0 3236.9 L892.0 3218.8 L895.8 3218.8 L895.8 3206.4 L899.6 3206.4 L899.6 3236.4 L903.4 3236.4 L903.4 3227.0 L907.2 3227.0 L907.2 3248.4 L911.0 3248.4 L911.0 3231.1 L914.8 3231.1 L914.8 3172.7 L918.6 3172.7 L918.6 3272.5 L922.4 3272.5 L922.4 3224.9 L926.2 3224.9 L926.2 3240.5 L930.0 3240.5 L930.0 3241.6 L933.8 3241.6 L933.8 3231.8 L937.6 3231.8 L937.6 3223.3 L941.4 3223.3 L941.4 3253.6 L945.2 3253.6 L945.2 3238.8 L946.5 3238.8 L946.5 3277.0 Z" fill="#f00008"/>
<path d="M361.0 3277.0 L361.0 3177.8 L364.8 3177.8 L364.8 3148.7 L368.6 3148.7 L368.6 3099.4 L372.4 3099.4 L372.4 3040.8 L376.2 3040.8 L376.2 2985.7 L380.0 2985.7 L380.0 2962.5 L383.8 2962.5 L383.8 2945.5 L387.6 2945.5 L387.6 2994.4 L391.4 2994.4 L391.4 3119.2 L395.2 3119.2 L395.2 3106.1 L399.0 3106.1 L399.0 3155.8 L402.8 3155.8 L402.8 3210.5 L406.6 3210.5 L406.6 3254.0 L410.4 3254.0 L410.4 3266.9 L412.0 3266.9 L412.0 3277.0 Z" fill="#6cc232"/>
<rect x="944.5" y="3271" width="308.5" height="5" fill="#e00010"/>
<line x1="357.5" y1="2935.5" x2="357.5" y2="3289" stroke="#000" stroke-width="6"/>
<line x1="345.5" y1="3277" x2="1253" y2="3277" stroke="#000" stroke-width="6"/>
<line x1="345.5" y1="2937.5" x2="357.5" y2="2937.5" stroke="#000" stroke-width="5"/>
<text x="311" y="2949.5" font-family="'Liberation Serif', 'Times New Roman', serif" font-size="38" font-weight="bold" fill="#3a3a3a" text-anchor="end" textLength="16" lengthAdjust="spacingAndGlyphs">1</text>
<line x1="345.5" y1="3107.25" x2="357.5" y2="3107.25" stroke="#000" stroke-width="5"/>
<text x="311.5" y="3119.25" font-family="'Liberation Serif', 'Times New Roman', serif" font-size="38" font-weight="bold" fill="#3a3a3a" text-anchor="end" textLength="55" lengthAdjust="spacingAndGlyphs">0.5</text>
<line x1="345.5" y1="3277" x2="357.5" y2="3277" stroke="#000" stroke-width="5"/>
<text x="312" y="3289" font-family="'Liberation Serif', 'Times New Roman', serif" font-size="38" font-weight="bold" fill="#3a3a3a" text-anchor="end" textLength="19" lengthAdjust="spacingAndGlyphs">0</text>
<line x1="491.6" y1="3277" x2="491.6" y2="3289" stroke="#000" stroke-width="5"/>
<line x1="625.7" y1="3277" x2="625.7" y2="3289" stroke="#000" stroke-width="5"/>
<line x1="759.8" y1="3277" x2="759.8" y2="3289" stroke="#000" stroke-width="5"/>
<line x1="893.9" y1="3277" x2="893.9" y2="3289" stroke="#000" stroke-width="5"/>
<line x1="1028" y1="3277" x2="1028" y2="3289" stroke="#000" stroke-width="5"/>
<line x1="1162.1" y1="3277" x2="1162.1" y2="3289" stroke="#000" stroke-width="5"/>
<text x="358.5" y="3338" font-family="'Liberation Serif', 'Times New Roman', serif" font-size="39" font-weight="bold" fill="#3a3a3a" text-anchor="middle" textLength="82" lengthAdjust="spacingAndGlyphs">2.00</text>
<text x="492.6" y="3338" font-family="'Liberation Serif', 'Times New Roman', serif" font-size="39" font-weight="bold" fill="#3a3a3a" text-anchor="middle" textLength="82" lengthAdjust="spacingAndGlyphs">3.49</text>
<text x="626.7" y="3338" font-family="'Liberation Serif', 'Times New Roman', serif" font-size="39" font-weight="bold" fill="#3a3a3a" text-anchor="middle" textLength="82" lengthAdjust="spacingAndGlyphs">3.79</text>
<text x="760.8" y="3338" font-family="'Liberation Serif', 'Times New Roman', serif" font-size="39" font-weight="bold" fill="#3a3a3a" text-anchor="middle" textLength="82" lengthAdjust="spacingAndGlyphs">3.96</text>
<text x="894.9" y="3338" font-family="'Liberation Serif', 'Times New Roman', serif" font-size="39" font-weight="bold" fill="#3a3a3a" text-anchor="middle" textLength="82" lengthAdjust="spacingAndGlyphs">4.08</text>
<text x="1029" y="3338" font-family="'Liberation Serif', 'Times New Roman', serif" font-size="39" font-weight="bold" fill="#3a3a3a" text-anchor="middle" textLength="82" lengthAdjust="spacingAndGlyphs">4.18</text>
<text x="1163.1" y="3338" font-family="'Liberation Serif', 'Times New Roman', serif" font-size="39" font-weight="bold" fill="#3a3a3a" text-anchor="middle" textLength="82" lengthAdjust="spacingAndGlyphs">4.26</text>
<text x="814" y="2980.5" font-family="'Liberation Sans', Arial, sans-serif" font-size="41" font-weight="bold" fill="#111" text-anchor="middle" textLength="158" lengthAdjust="spacingAndGlyphs">Control</text>
<text x="1192" y="2954" font-family="'Liberation Sans', Arial, sans-serif" font-size="58" font-weight="bold" fill="#000" text-anchor="middle" textLength="37" lengthAdjust="spacingAndGlyphs">S</text>
<rect x="998.5" y="3176.5" width="28" height="25" fill="#f00010"/>
<rect x="998.5" y="3230.5" width="28" height="25" fill="#62c030"/>
<text x="1041.5" y="3201.5" font-family="'Liberation Sans', Arial, sans-serif" font-size="36" font-weight="bold" fill="#333" text-anchor="start" textLength="144" lengthAdjust="spacingAndGlyphs">mt-ave</text>
<text x="1041.5" y="3253.5" font-family="'Liberation Sans', Arial, sans-serif" font-size="36" font-weight="bold" fill="#333" text-anchor="start" textLength="215" lengthAdjust="spacingAndGlyphs">dsDNA-ctr</text>
<path d="M1945.0 3275.0 L1945.0 3144.9 L1948.6 3144.9 L1948.6 3275.0 L1952.2 3275.0 L1952.2 3275.0 L1955.8 3275.0 L1955.8 3205.2 L1959.4 3205.2 L1959.4 3196.3 L1963.0 3196.3 L1963.0 3182.8 L1966.6 3182.8 L1966.6 3268.1 L1970.2 3268.1 L1970.2 3201.8 L1973.8 3201.8 L1973.8 3157.6 L1977.4 3157.6 L1977.4 3198.1 L1981.0 3198.1 L1981.0 3275.0 L1984.6 3275.0 L1984.6 3275.0 L1988.2 3275.0 L1988.2 3257.8 L1991.8 3257.8 L1991.8 3180.6 L1995.4 3180.6 L1995.4 3179.1 L1999.0 3179.1 L1999.0 3194.9 L2002.6 3194.9 L2002.6 3275.0 L2006.2 3275.0 L2006.2 3200.6 L2009.8 3200.6 L2009.8 3227.4 L2013.4 3227.4 L2013.4 3213.9 L2017.0 3213.9 L2017.0 3275.0 L2020.6 3275.0 L2020.6 3255.4 L2024.2 3255.4 L2024.2 3230.4 L2027.8 3230.4 L2027.8 3188.4 L2031.4 3188.4 L2031.4 3223.9 L2035.0 3223.9 L2035.0 3203.8 L2038.6 3203.8 L2038.6 3209.4 L2042.2 3209.4 L2042.2 3250.5 L2045.8 3250.5 L2045.8 3275.0 L2049.4 3275.0 L2049.4 3239.8 L2053.0 3239.8 L2053.0 3152.5 L2056.6 3152.5 L2056.6 3214.9 L2060.2 3214.9 L2060.2 3192.9 L2063.8 3192.9 L2063.8 3275.0 L2067.4 3275.0 L2067.4 3227.1 L2071.0 3227.1 L2071.0 3264.0 L2074.6 3264.0 L2074.6 3222.2 L2078.2 3222.2 L2078.2 3262.8 L2081.8 3262.8 L2081.8 3238.4 L2085.4 3238.4 L2085.4 3267.1 L2089.0 3267.1 L2089.0 3217.7 L2092.6 3217.7 L2092.6 3257.4 L2096.2 3257.4 L2096.2 3263.8 L2099.8 3263.8 L2099.8 3218.2 L2103.4 3218.2 L2103.4 3183.6 L2107.0 3183.6 L2107.0 3267.3 L2110.6 3267.3 L2110.6 3230.9 L2114.2 3230.9 L2114.2 3275.0 L2117.8 3275.0 L2117.8 3225.0 L2121.4 3225.0 L2121.4 3275.0 L2125.0 3275.0 L2125.0 3189.9 L2128.6 3189.9 L2128.6 3198.3 L2132.2 3198.3 L2132.2 3218.0 L2135.8 3218.0 L2135.8 3212.2 L2139.4 3212.2 L2139.4 3260.5 L2143.0 3260.5 L2143.0 3240.9 L2146.6 3240.9 L2146.6 3254.8 L2150.2 3254.8 L2150.2 3215.3 L2153.8 3215.3 L2153.8 3232.4 L2157.4 3232.4 L2157.4 3213.1 L2161.0 3213.1 L2161.0 3248.8 L2164.6 3248.8 L2164.6 3227.9 L2168.2 3227.9 L2168.2 3253.1 L2171.8 3253.1 L2171.8 3275.0 L2175.4 3275.0 L2175.4 3275.0 L2179.0 3275.0 L2179.0 3159.4 L2182.6 3159.4 L2182.6 3275.0 L2186.2 3275.0 L2186.2 3236.0 L2189.8 3236.0 L2189.8 3245.6 L2193.4 3245.6 L2193.4 3205.7 L2197.0 3205.7 L2197.0 3204.7 L2200.6 3204.7 L2200.6 3246.5 L2204.2 3246.5 L2204.2 3221.2 L2207.8 3221.2 L2207.8 3275.0 L2211.4 3275.0 L2211.4 3262.5 L2215.0 3262.5 L2215.0 3225.7 L2218.6 3225.7 L2218.6 3244.7 L2222.2 3244.7 L2222.2 3214.0 L2225.8 3214.0 L2225.8 3222.6 L2229.4 3222.6 L2229.4 3275.0 L2233.0 3275.0 L2233.0 3248.3 L2236.6 3248.3 L2236.6 3271.4 L2240.2 3271.4 L2240.2 3245.3 L2243.8 3245.3 L2243.8 3187.3 L2247.4 3187.3 L2247.4 3192.5 L2251.0 3192.5 L2251.0 3269.9 L2254.6 3269.9 L2254.6 3195.8 L2258.2 3195.8 L2258.2 3177.2 L2261.8 3177.2 L2261.8 3258.9 L2265.4 3258.9 L2265.4 3256.8 L2269.0 3256.8 L2269.0 3256.4 L2272.6 3256.4 L2272.6 3275.0 L2276.2 3275.0 L2276.2 3275.0 L2279.8 3275.0 L2279.8 3275.0 L2283.4 3275.0 L2283.4 3231.2 L2287.0 3231.2 L2287.0 3265.1 L2290.6 3265.1 L2290.6 3275.0 L2294.2 3275.0 L2294.2 3275.0 L2297.8 3275.0 L2297.8 3275.0 L2301.4 3275.0 L2301.4 3209.3 L2305.0 3209.3 L2305.0 3275.0 L2308.6 3275.0 L2308.6 3181.8 L2312.2 3181.8 L2312.2 3225.6 L2315.8 3225.6 L2315.8 3224.8 L2319.4 3224.8 L2319.4 3216.2 L2323.0 3216.2 L2323.0 3241.5 L2326.6 3241.5 L2326.6 3273.2 L2330.2 3273.2 L2330.2 3221.8 L2333.8 3221.8 L2333.8 3275.0 L2337.4 3275.0 L2337.4 3223.5 L2341.0 3223.5 L2341.0 3250.9 L2344.6 3250.9 L2344.6 3222.7 L2348.2 3222.7 L2348.2 3223.4 L2351.8 3223.4 L2351.8 3197.4 L2353.0 3197.4 L2353.0 3275.0 Z" fill="#f7c2c2" opacity="0.55"/>
<path d="M1517.0 3275.0 L1517.0 3006.7 L1520.8 3006.7 L1520.8 2951.1 L1524.6 2951.1 L1524.6 2946.0 L1528.4 2946.0 L1528.4 2903.6 L1532.2 2903.6 L1532.2 2925.5 L1536.0 2925.5 L1536.0 2936.6 L1539.8 2936.6 L1539.8 2902.5 L1543.6 2902.5 L1543.6 2904.7 L1547.4 2904.7 L1547.4 2902.5 L1551.2 2902.5 L1551.2 2902.5 L1555.0 2902.5 L1555.0 2919.3 L1558.8 2919.3 L1558.8 2918.6 L1562.6 2918.6 L1562.6 2902.5 L1566.4 2902.5 L1566.4 2902.5 L1570.2 2902.5 L1570.2 2907.6 L1574.0 2907.6 L1574.0 2930.9 L1577.8 2930.9 L1577.8 2958.2 L1581.6 2958.2 L1581.6 2959.3 L1585.4 2959.3 L1585.4 2911.4 L1589.2 2911.4 L1589.2 2954.2 L1593.0 2954.2 L1593.0 2953.7 L1596.8 2953.7 L1596.8 2912.6 L1600.6 2912.6 L1600.6 2973.1 L1604.4 2973.1 L1604.4 3076.7 L1608.2 3076.7 L1608.2 2964.2 L1612.0 2964.2 L1612.0 2984.9 L1615.8 2984.9 L1615.8 2993.5 L1619.6 2993.5 L1619.6 2966.7 L1623.4 2966.7 L1623.4 2937.9 L1627.2 2937.9 L1627.2 2991.3 L1631.0 2991.3 L1631.0 2968.8 L1634.8 2968.8 L1634.8 3003.1 L1638.6 3003.1 L1638.6 3007.5 L1642.4 3007.5 L1642.4 3027.0 L1646.2 3027.0 L1646.2 3025.0 L1650.0 3025.0 L1650.0 3028.3 L1653.8 3028.3 L1653.8 3009.8 L1657.6 3009.8 L1657.6 3068.0 L1661.4 3068.0 L1661.4 3077.0 L1665.2 3077.0 L1665.2 3081.5 L1669.0 3081.5 L1669.0 3107.8 L1672.8 3107.8 L1672.8 3072.8 L1676.6 3072.8 L1676.6 3077.7 L1680.4 3077.7 L1680.4 3102.9 L1684.2 3102.9 L1684.2 3131.7 L1688.0 3131.7 L1688.0 3124.3 L1691.8 3124.3 L1691.8 3108.4 L1695.6 3108.4 L1695.6 3158.0 L1699.4 3158.0 L1699.4 3112.8 L1703.2 3112.8 L1703.2 3170.6 L1707.0 3170.6 L1707.0 3124.5 L1710.8 3124.5 L1710.8 3149.9 L1714.6 3149.9 L1714.6 3088.8 L1718.4 3088.8 L1718.4 3153.8 L1722.2 3153.8 L1722.2 3130.3 L1726.0 3130.3 L1726.0 3093.6 L1729.8 3093.6 L1729.8 3123.8 L1733.6 3123.8 L1733.6 3133.7 L1737.4 3133.7 L1737.4 3122.0 L1741.2 3122.0 L1741.2 3152.0 L1745.0 3152.0 L1745.0 3132.3 L1748.8 3132.3 L1748.8 3151.4 L1752.6 3151.4 L1752.6 3142.3 L1756.4 3142.3 L1756.4 3146.1 L1760.2 3146.1 L1760.2 3126.8 L1764.0 3126.8 L1764.0 3145.6 L1767.8 3145.6 L1767.8 3160.4 L1771.6 3160.4 L1771.6 3158.9 L1775.4 3158.9 L1775.4 3173.6 L1779.2 3173.6 L1779.2 3122.2 L1783.0 3122.2 L1783.0 3143.6 L1786.8 3143.6 L1786.8 3191.0 L1790.6 3191.0 L1790.6 3172.8 L1794.4 3172.8 L1794.4 3154.6 L1798.2 3154.6 L1798.2 3165.6 L1802.0 3165.6 L1802.0 3160.7 L1805.8 3160.7 L1805.8 3154.3 L1809.6 3154.3 L1809.6 3169.3 L1813.4 3169.3 L1813.4 3176.0 L1817.2 3176.0 L1817.2 3230.8 L1821.0 3230.8 L1821.0 3170.4 L1824.8 3170.4 L1824.8 3163.3 L1828.6 3163.3 L1828.6 3183.5 L1832.4 3183.5 L1832.4 3180.2 L1836.2 3180.2 L1836.2 3176.7 L1840.0 3176.7 L1840.0 3192.2 L1843.8 3192.2 L1843.8 3182.6 L1847.6 3182.6 L1847.6 3190.9 L1851.4 3190.9 L1851.4 3193.5 L1855.2 3193.5 L1855.2 3222.4 L1859.0 3222.4 L1859.0 3254.4 L1862.8 3254.4 L1862.8 3197.2 L1866.6 3197.2 L1866.6 3202.4 L1870.4 3202.4 L1870.4 3208.8 L1874.2 3208.8 L1874.2 3180.5 L1878.0 3180.5 L1878.0 3191.3 L1881.8 3191.3 L1881.8 3202.5 L1885.6 3202.5 L1885.6 3202.9 L1889.4 3202.9 L1889.4 3212.8 L1893.2 3212.8 L1893.2 3203.4 L1897.0 3203.4 L1897.0 3191.4 L1900.8 3191.4 L1900.8 3199.6 L1904.6 3199.6 L1904.6 3196.3 L1908.4 3196.3 L1908.4 3220.0 L1912.2 3220.0 L1912.2 3213.9 L1916.0 3213.9 L1916.0 3196.5 L1919.8 3196.5 L1919.8 3194.6 L1923.6 3194.6 L1923.6 3199.4 L1927.4 3199.4 L1927.4 3191.6 L1931.2 3191.6 L1931.2 3218.5 L1935.0 3218.5 L1935.0 3217.5 L1938.8 3217.5 L1938.8 3226.0 L1942.6 3226.0 L1942.6 3207.1 L1945.0 3207.1 L1945.0 3275.0 Z" fill="#f00008"/>
<path d="M1482.0 3275.0 L1482.0 2916.1 L1485.8 2916.1 L1485.8 3011.8 L1489.6 3011.8 L1489.6 2983.9 L1493.4 2983.9 L1493.4 2994.1 L1497.2 2994.1 L1497.2 3022.8 L1501.0 3022.8 L1501.0 2958.4 L1504.8 2958.4 L1504.8 2986.8 L1508.6 2986.8 L1508.6 3041.4 L1512.4 3041.4 L1512.4 2961.7 L1516.2 2961.7 L1516.2 2997.7 L1520.0 2997.7 L1520.0 2991.1 L1523.8 2991.1 L1523.8 2954.2 L1527.6 2954.2 L1527.6 2993.7 L1531.4 2993.7 L1531.4 3079.5 L1535.2 3079.5 L1535.2 3016.6 L1539.0 3016.6 L1539.0 3010.2 L1542.8 3010.2 L1542.8 2974.4 L1546.6 2974.4 L1546.6 3148.0 L1550.4 3148.0 L1550.4 3068.7 L1554.2 3068.7 L1554.2 3104.0 L1558.0 3104.0 L1558.0 3003.3 L1561.8 3003.3 L1561.8 2952.7 L1565.6 2952.7 L1565.6 2913.2 L1569.4 2913.2 L1569.4 2955.9 L1573.2 2955.9 L1573.2 2977.9 L1577.0 2977.9 L1577.0 2947.7 L1580.8 2947.7 L1580.8 3134.1 L1584.6 3134.1 L1584.6 3059.1 L1588.4 3059.1 L1588.4 3071.9 L1592.2 3071.9 L1592.2 3054.8 L1596.0 3054.8 L1596.0 3179.9 L1599.8 3179.9 L1599.8 3145.0 L1603.6 3145.0 L1603.6 3102.1 L1607.4 3102.1 L1607.4 3079.9 L1611.2 3079.9 L1611.2 3076.6 L1615.0 3076.6 L1615.0 3103.9 L1618.8 3103.9 L1618.8 3153.7 L1622.6 3153.7 L1622.6 3090.4 L1626.4 3090.4 L1626.4 3106.9 L1630.2 3106.9 L1630.2 3143.6 L1634.0 3143.6 L1634.0 3164.5 L1637.8 3164.5 L1637.8 3148.0 L1641.6 3148.0 L1641.6 3178.2 L1645.4 3178.2 L1645.4 3146.3 L1649.2 3146.3 L1649.2 3147.6 L1653.0 3147.6 L1653.0 3191.5 L1656.8 3191.5 L1656.8 3141.0 L1660.6 3141.0 L1660.6 3164.6 L1664.4 3164.6 L1664.4 3160.2 L1668.2 3160.2 L1668.2 3155.8 L1672.0 3155.8 L1672.0 3143.0 L1675.8 3143.0 L1675.8 3205.4 L1679.6 3205.4 L1679.6 3196.0 L1683.4 3196.0 L1683.4 3170.0 L1687.2 3170.0 L1687.2 3191.5 L1691.0 3191.5 L1691.0 3200.7 L1694.8 3200.7 L1694.8 3217.8 L1698.6 3217.8 L1698.6 3272.1 L1702.4 3272.1 L1702.4 3219.8 L1706.2 3219.8 L1706.2 3226.9 L1710.0 3226.9 L1710.0 3242.3 L1713.8 3242.3 L1713.8 3214.7 L1717.6 3214.7 L1717.6 3231.2 L1721.4 3231.2 L1721.4 3261.4 L1725.2 3261.4 L1725.2 3222.1 L1729.0 3222.1 L1729.0 3249.2 L1732.8 3249.2 L1732.8 3241.6 L1736.6 3241.6 L1736.6 3186.0 L1740.4 3186.0 L1740.4 3224.0 L1744.2 3224.0 L1744.2 3240.9 L1748.0 3240.9 L1748.0 3263.4 L1751.8 3263.4 L1751.8 3228.9 L1755.6 3228.9 L1755.6 3243.3 L1759.4 3243.3 L1759.4 3246.1 L1763.2 3246.1 L1763.2 3236.4 L1767.0 3236.4 L1767.0 3228.4 L1770.8 3228.4 L1770.8 3261.3 L1774.6 3261.3 L1774.6 3231.7 L1778.4 3231.7 L1778.4 3250.1 L1782.2 3250.1 L1782.2 3243.1 L1786.0 3243.1 L1786.0 3256.6 L1789.8 3256.6 L1789.8 3269.4 L1793.6 3269.4 L1793.6 3269.2 L1797.4 3269.2 L1797.4 3239.0 L1801.2 3239.0 L1801.2 3267.7 L1805.0 3267.7 L1805.0 3258.2 L1808.8 3258.2 L1808.8 3251.7 L1812.6 3251.7 L1812.6 3270.1 L1816.4 3270.1 L1816.4 3244.3 L1820.2 3244.3 L1820.2 3265.0 L1824.0 3265.0 L1824.0 3229.2 L1827.8 3229.2 L1827.8 3251.7 L1831.6 3251.7 L1831.6 3269.4 L1835.4 3269.4 L1835.4 3260.4 L1839.0 3260.4 L1839.0 3275.0 Z" fill="#6cc232"/>
<rect x="1943" y="3269" width="411" height="5" fill="#e00010"/>
<rect x="2120.5" y="3148.5" width="5" height="7" fill="#e01010"/>
<line x1="1480" y1="2900.5" x2="1480" y2="3287" stroke="#000" stroke-width="6"/>
<line x1="1468" y1="3275" x2="2354" y2="3275" stroke="#000" stroke-width="6"/>
<line x1="1468" y1="2902.5" x2="1480" y2="2902.5" stroke="#000" stroke-width="5"/>
<text x="1437" y="2914.5" font-family="'Liberation Serif', 'Times New Roman', serif" font-size="38" font-weight="bold" fill="#3a3a3a" text-anchor="end" textLength="18" lengthAdjust="spacingAndGlyphs">1</text>
<line x1="1468" y1="2977" x2="1480" y2="2977" stroke="#000" stroke-width="5"/>
<text x="1438" y="2989" font-family="'Liberation Serif', 'Times New Roman', serif" font-size="38" font-weight="bold" fill="#3a3a3a" text-anchor="end" textLength="57" lengthAdjust="spacingAndGlyphs">0.8</text>
<line x1="1468" y1="3051.5" x2="1480" y2="3051.5" stroke="#000" stroke-width="5"/>
<text x="1438" y="3063.5" font-family="'Liberation Serif', 'Times New Roman', serif" font-size="38" font-weight="bold" fill="#3a3a3a" text-anchor="end" textLength="57" lengthAdjust="spacingAndGlyphs">0.6</text>
<line x1="1468" y1="3126" x2="1480" y2="3126" stroke="#000" stroke-width="5"/>
<text x="1438" y="3138" font-family="'Liberation Serif', 'Times New Roman', serif" font-size="38" font-weight="bold" fill="#3a3a3a" text-anchor="end" textLength="57" lengthAdjust="spacingAndGlyphs">0.4</text>
<line x1="1468" y1="3200.5" x2="1480" y2="3200.5" stroke="#000" stroke-width="5"/>
<text x="1438" y="3212.5" font-family="'Liberation Serif', 'Times New Roman', serif" font-size="38" font-weight="bold" fill="#3a3a3a" text-anchor="end" textLength="57" lengthAdjust="spacingAndGlyphs">0.2</text>
<line x1="1468" y1="3275" x2="1480" y2="3275" stroke="#000" stroke-width="5"/>
<text x="1438" y="3287" font-family="'Liberation Serif', 'Times New Roman', serif" font-size="38" font-weight="bold" fill="#3a3a3a" text-anchor="end" textLength="19" lengthAdjust="spacingAndGlyphs">0</text>
<line x1="1610.9" y1="3275" x2="1610.9" y2="3287" stroke="#000" stroke-width="5"/>
<line x1="1741.8" y1="3275" x2="1741.8" y2="3287" stroke="#000" stroke-width="5"/>
<line x1="1872.7" y1="3275" x2="1872.7" y2="3287" stroke="#000" stroke-width="5"/>
<line x1="2003.6" y1="3275" x2="2003.6" y2="3287" stroke="#000" stroke-width="5"/>
<line x1="2134.5" y1="3275" x2="2134.5" y2="3287" stroke="#000" stroke-width="5"/>
<line x1="2265.4" y1="3275" x2="2265.4" y2="3287" stroke="#000" stroke-width="5"/>
<text x="1481" y="3336" font-family="'Liberation Serif', 'Times New Roman', serif" font-size="39" font-weight="bold" fill="#3a3a3a" text-anchor="middle" textLength="82" lengthAdjust="spacingAndGlyphs">2.00</text>
<text x="1611.9" y="3336" font-family="'Liberation Serif', 'Times New Roman', serif" font-size="39" font-weight="bold" fill="#3a3a3a" text-anchor="middle" textLength="82" lengthAdjust="spacingAndGlyphs">3.49</text>
<text x="1742.8" y="3336" font-family="'Liberation Serif', 'Times New Roman', serif" font-size="39" font-weight="bold" fill="#3a3a3a" text-anchor="middle" textLength="82" lengthAdjust="spacingAndGlyphs">3.79</text>
<text x="1873.7" y="3336" font-family="'Liberation Serif', 'Times New Roman', serif" font-size="39" font-weight="bold" fill="#3a3a3a" text-anchor="middle" textLength="82" lengthAdjust="spacingAndGlyphs">3.96</text>
<text x="2004.6" y="3336" font-family="'Liberation Serif', 'Times New Roman', serif" font-size="39" font-weight="bold" fill="#3a3a3a" text-anchor="middle" textLength="82" lengthAdjust="spacingAndGlyphs">4.08</text>
<text x="2135.5" y="3336" font-family="'Liberation Serif', 'Times New Roman', serif" font-size="39" font-weight="bold" fill="#3a3a3a" text-anchor="middle" textLength="82" lengthAdjust="spacingAndGlyphs">4.18</text>
<text x="2266.4" y="3336" font-family="'Liberation Serif', 'Times New Roman', serif" font-size="39" font-weight="bold" fill="#3a3a3a" text-anchor="middle" textLength="82" lengthAdjust="spacingAndGlyphs">4.26</text>
<text x="1947.5" y="2951" font-family="'Liberation Sans', Arial, sans-serif" font-size="41" font-weight="bold" fill="#111" text-anchor="middle" textLength="217" lengthAdjust="spacingAndGlyphs">PA 100µM</text>
<text x="2281.5" y="2955" font-family="'Liberation Sans', Arial, sans-serif" font-size="58" font-weight="bold" fill="#000" text-anchor="middle" textLength="37" lengthAdjust="spacingAndGlyphs">T</text>
<rect x="1989" y="3172" width="28" height="25" fill="#f00010"/>
<rect x="1989" y="3227" width="28" height="25" fill="#62c030"/>
<text x="2032" y="3197" font-family="'Liberation Sans', Arial, sans-serif" font-size="36" font-weight="bold" fill="#333" text-anchor="start" textLength="150" lengthAdjust="spacingAndGlyphs">mt-ave</text>
<text x="2032" y="3250" font-family="'Liberation Sans', Arial, sans-serif" font-size="36" font-weight="bold" fill="#333" text-anchor="start" textLength="307" lengthAdjust="spacingAndGlyphs">dsDNA-100 PA</text>
<path d="M880.5 3808.0 L880.5 3793.0 L884.1 3793.0 L884.1 3780.2 L887.7 3780.2 L887.7 3791.2 L891.3 3791.2 L891.3 3800.1 L894.9 3800.1 L894.9 3782.8 L898.5 3782.8 L898.5 3788.5 L902.1 3788.5 L902.1 3787.1 L905.7 3787.1 L905.7 3770.3 L909.3 3770.3 L909.3 3771.4 L912.9 3771.4 L912.9 3684.8 L916.5 3684.8 L916.5 3767.3 L920.1 3767.3 L920.1 3785.0 L923.7 3785.0 L923.7 3803.8 L927.3 3803.8 L927.3 3774.2 L930.9 3774.2 L930.9 3766.8 L934.5 3766.8 L934.5 3750.6 L938.1 3750.6 L938.1 3751.1 L941.7 3751.1 L941.7 3750.9 L945.3 3750.9 L945.3 3738.9 L948.9 3738.9 L948.9 3761.1 L952.5 3761.1 L952.5 3672.4 L956.1 3672.4 L956.1 3753.5 L959.7 3753.5 L959.7 3771.3 L963.3 3771.3 L963.3 3789.2 L966.9 3789.2 L966.9 3747.5 L970.5 3747.5 L970.5 3756.6 L974.1 3756.6 L974.1 3774.2 L977.7 3774.2 L977.7 3779.6 L981.3 3779.6 L981.3 3794.9 L984.9 3794.9 L984.9 3714.2 L988.5 3714.2 L988.5 3808.0 L992.1 3808.0 L992.1 3678.2 L995.7 3678.2 L995.7 3777.8 L999.3 3777.8 L999.3 3756.2 L1002.9 3756.2 L1002.9 3750.3 L1006.5 3750.3 L1006.5 3716.9 L1010.1 3716.9 L1010.1 3787.1 L1013.7 3787.1 L1013.7 3780.7 L1017.3 3780.7 L1017.3 3777.0 L1020.9 3777.0 L1020.9 3762.7 L1024.5 3762.7 L1024.5 3765.9 L1028.1 3765.9 L1028.1 3761.6 L1031.7 3761.6 L1031.7 3766.2 L1035.3 3766.2 L1035.3 3753.9 L1038.9 3753.9 L1038.9 3773.5 L1042.5 3773.5 L1042.5 3773.0 L1046.1 3773.0 L1046.1 3726.4 L1049.7 3726.4 L1049.7 3769.8 L1053.3 3769.8 L1053.3 3727.8 L1056.9 3727.8 L1056.9 3780.2 L1060.5 3780.2 L1060.5 3800.3 L1064.1 3800.3 L1064.1 3765.9 L1067.7 3765.9 L1067.7 3762.4 L1071.3 3762.4 L1071.3 3755.5 L1074.9 3755.5 L1074.9 3775.5 L1078.5 3775.5 L1078.5 3770.0 L1082.1 3770.0 L1082.1 3725.6 L1085.7 3725.6 L1085.7 3746.1 L1089.3 3746.1 L1089.3 3645.6 L1092.9 3645.6 L1092.9 3766.3 L1096.5 3766.3 L1096.5 3752.4 L1100.1 3752.4 L1100.1 3704.3 L1103.7 3704.3 L1103.7 3788.5 L1107.3 3788.5 L1107.3 3779.6 L1110.9 3779.6 L1110.9 3769.0 L1114.5 3769.0 L1114.5 3804.6 L1118.1 3804.6 L1118.1 3680.4 L1121.7 3680.4 L1121.7 3770.6 L1125.3 3770.6 L1125.3 3772.5 L1128.9 3772.5 L1128.9 3759.6 L1132.5 3759.6 L1132.5 3788.7 L1136.1 3788.7 L1136.1 3787.5 L1139.7 3787.5 L1139.7 3763.2 L1143.3 3763.2 L1143.3 3804.1 L1146.9 3804.1 L1146.9 3789.2 L1150.5 3789.2 L1150.5 3775.7 L1154.1 3775.7 L1154.1 3763.2 L1157.7 3763.2 L1157.7 3769.9 L1161.3 3769.9 L1161.3 3771.8 L1164.9 3771.8 L1164.9 3703.0 L1168.5 3703.0 L1168.5 3783.4 L1172.1 3783.4 L1172.1 3763.2 L1175.7 3763.2 L1175.7 3763.4 L1179.3 3763.4 L1179.3 3771.3 L1182.9 3771.3 L1182.9 3739.5 L1186.5 3739.5 L1186.5 3743.4 L1190.1 3743.4 L1190.1 3754.0 L1193.7 3754.0 L1193.7 3748.1 L1197.3 3748.1 L1197.3 3807.4 L1200.9 3807.4 L1200.9 3780.2 L1204.5 3780.2 L1204.5 3756.0 L1208.1 3756.0 L1208.1 3766.7 L1211.7 3766.7 L1211.7 3764.9 L1215.3 3764.9 L1215.3 3791.3 L1218.9 3791.3 L1218.9 3784.2 L1222.5 3784.2 L1222.5 3808.0 L1226.1 3808.0 L1226.1 3801.2 L1229.7 3801.2 L1229.7 3808.0 L1233.3 3808.0 L1233.3 3787.8 L1236.9 3787.8 L1236.9 3777.6 L1240.5 3777.6 L1240.5 3781.7 L1244.1 3781.7 L1244.1 3778.8 L1247.7 3778.8 L1247.7 3793.9 L1251.3 3793.9 L1251.3 3782.6 L1254.9 3782.6 L1254.9 3777.3 L1258.5 3777.3 L1258.5 3780.0 L1262.1 3780.0 L1262.1 3808.0 L1265.7 3808.0 L1265.7 3796.7 L1269.3 3796.7 L1269.3 3770.4 L1272.9 3770.4 L1272.9 3799.0 L1276.5 3799.0 L1276.5 3774.5 L1280.1 3774.5 L1280.1 3808.0 L1283.7 3808.0 L1283.7 3796.1 L1287.0 3796.1 L1287.0 3808.0 Z" fill="#f7c2c2" opacity="1.00"/>
<path d="M359.0 3808.0 L359.0 3682.3 L362.8 3682.3 L362.8 3687.2 L366.6 3687.2 L366.6 3678.4 L370.4 3678.4 L370.4 3673.7 L374.2 3673.7 L374.2 3658.1 L378.0 3658.1 L378.0 3702.3 L381.8 3702.3 L381.8 3682.5 L385.6 3682.5 L385.6 3666.4 L389.4 3666.4 L389.4 3663.2 L393.2 3663.2 L393.2 3622.7 L397.0 3622.7 L397.0 3568.3 L400.8 3568.3 L400.8 3568.2 L404.6 3568.2 L404.6 3613.3 L408.4 3613.3 L408.4 3542.1 L412.2 3542.1 L412.2 3472.5 L416.0 3472.5 L416.0 3425.0 L419.8 3425.0 L419.8 3425.0 L423.6 3425.0 L423.6 3491.6 L427.4 3491.6 L427.4 3448.4 L431.2 3448.4 L431.2 3467.8 L435.0 3467.8 L435.0 3425.0 L438.8 3425.0 L438.8 3430.6 L442.6 3430.6 L442.6 3482.6 L446.4 3482.6 L446.4 3496.7 L450.2 3496.7 L450.2 3425.0 L454.0 3425.0 L454.0 3573.8 L457.8 3573.8 L457.8 3588.6 L461.6 3588.6 L461.6 3511.1 L465.4 3511.1 L465.4 3605.5 L469.2 3605.5 L469.2 3533.8 L473.0 3533.8 L473.0 3632.4 L476.8 3632.4 L476.8 3594.6 L480.6 3594.6 L480.6 3571.3 L484.4 3571.3 L484.4 3548.4 L488.2 3548.4 L488.2 3583.8 L492.0 3583.8 L492.0 3551.9 L495.8 3551.9 L495.8 3543.0 L499.6 3543.0 L499.6 3600.2 L503.4 3600.2 L503.4 3591.3 L507.2 3591.3 L507.2 3573.8 L511.0 3573.8 L511.0 3676.0 L514.8 3676.0 L514.8 3615.0 L518.6 3615.0 L518.6 3580.0 L522.4 3580.0 L522.4 3630.5 L526.2 3630.5 L526.2 3566.8 L530.0 3566.8 L530.0 3631.5 L533.8 3631.5 L533.8 3708.6 L537.6 3708.6 L537.6 3579.3 L541.4 3579.3 L541.4 3633.5 L545.2 3633.5 L545.2 3625.4 L549.0 3625.4 L549.0 3631.9 L552.8 3631.9 L552.8 3621.6 L556.6 3621.6 L556.6 3632.0 L560.4 3632.0 L560.4 3664.9 L564.2 3664.9 L564.2 3682.5 L568.0 3682.5 L568.0 3671.5 L571.8 3671.5 L571.8 3643.2 L575.6 3643.2 L575.6 3686.7 L579.4 3686.7 L579.4 3664.0 L583.2 3664.0 L583.2 3705.4 L587.0 3705.4 L587.0 3641.2 L590.8 3641.2 L590.8 3642.4 L594.6 3642.4 L594.6 3669.8 L598.4 3669.8 L598.4 3693.3 L602.2 3693.3 L602.2 3627.4 L606.0 3627.4 L606.0 3715.2 L609.8 3715.2 L609.8 3683.0 L613.6 3683.0 L613.6 3670.9 L617.4 3670.9 L617.4 3713.7 L621.2 3713.7 L621.2 3699.0 L625.0 3699.0 L625.0 3704.5 L628.8 3704.5 L628.8 3665.7 L632.6 3665.7 L632.6 3678.1 L636.4 3678.1 L636.4 3686.8 L640.2 3686.8 L640.2 3736.6 L644.0 3736.6 L644.0 3714.5 L647.8 3714.5 L647.8 3710.8 L651.6 3710.8 L651.6 3675.7 L655.4 3675.7 L655.4 3719.6 L659.2 3719.6 L659.2 3677.8 L663.0 3677.8 L663.0 3715.4 L666.8 3715.4 L666.8 3709.1 L670.6 3709.1 L670.6 3728.8 L674.4 3728.8 L674.4 3724.1 L678.2 3724.1 L678.2 3724.3 L682.0 3724.3 L682.0 3693.2 L685.8 3693.2 L685.8 3683.5 L689.6 3683.5 L689.6 3718.3 L693.4 3718.3 L693.4 3716.5 L697.2 3716.5 L697.2 3696.3 L701.0 3696.3 L701.0 3709.7 L704.8 3709.7 L704.8 3696.6 L708.6 3696.6 L708.6 3715.7 L712.4 3715.7 L712.4 3720.0 L716.2 3720.0 L716.2 3736.9 L720.0 3736.9 L720.0 3707.7 L723.8 3707.7 L723.8 3789.0 L727.6 3789.0 L727.6 3714.9 L731.4 3714.9 L731.4 3702.5 L735.2 3702.5 L735.2 3714.7 L739.0 3714.7 L739.0 3717.9 L742.8 3717.9 L742.8 3718.1 L746.6 3718.1 L746.6 3739.8 L750.4 3739.8 L750.4 3720.0 L754.2 3720.0 L754.2 3711.0 L758.0 3711.0 L758.0 3764.0 L761.8 3764.0 L761.8 3720.7 L765.6 3720.7 L765.6 3728.8 L769.4 3728.8 L769.4 3731.9 L773.2 3731.9 L773.2 3711.3 L777.0 3711.3 L777.0 3682.4 L780.8 3682.4 L780.8 3753.8 L784.6 3753.8 L784.6 3750.2 L788.4 3750.2 L788.4 3710.3 L792.2 3710.3 L792.2 3729.9 L796.0 3729.9 L796.0 3762.0 L799.8 3762.0 L799.8 3766.0 L803.6 3766.0 L803.6 3745.4 L807.4 3745.4 L807.4 3723.6 L811.2 3723.6 L811.2 3735.4 L815.0 3735.4 L815.0 3751.1 L818.8 3751.1 L818.8 3697.6 L822.6 3697.6 L822.6 3733.1 L826.4 3733.1 L826.4 3714.9 L830.2 3714.9 L830.2 3727.6 L834.0 3727.6 L834.0 3722.7 L837.8 3722.7 L837.8 3772.3 L841.6 3772.3 L841.6 3712.4 L845.4 3712.4 L845.4 3751.6 L849.2 3751.6 L849.2 3751.9 L853.0 3751.9 L853.0 3753.7 L856.8 3753.7 L856.8 3742.4 L860.6 3742.4 L860.6 3744.1 L864.4 3744.1 L864.4 3739.2 L868.2 3739.2 L868.2 3730.1 L872.0 3730.1 L872.0 3795.7 L875.8 3795.7 L875.8 3764.0 L879.6 3764.0 L879.6 3760.9 L880.5 3760.9 L880.5 3808.0 Z" fill="#f00008"/>
<path d="M362.0 3808.0 L362.0 3767.9 L365.8 3767.9 L365.8 3760.2 L369.6 3760.2 L369.6 3796.6 L373.4 3796.6 L373.4 3743.1 L377.2 3743.1 L377.2 3756.2 L381.0 3756.2 L381.0 3727.4 L384.8 3727.4 L384.8 3715.3 L388.6 3715.3 L388.6 3704.5 L392.4 3704.5 L392.4 3682.9 L396.2 3682.9 L396.2 3700.4 L400.0 3700.4 L400.0 3661.0 L403.8 3661.0 L403.8 3680.3 L407.6 3680.3 L407.6 3678.8 L411.4 3678.8 L411.4 3620.7 L415.2 3620.7 L415.2 3618.2 L419.0 3618.2 L419.0 3552.6 L422.8 3552.6 L422.8 3573.5 L426.6 3573.5 L426.6 3578.3 L430.4 3578.3 L430.4 3548.9 L434.2 3548.9 L434.2 3527.1 L438.0 3527.1 L438.0 3552.5 L441.8 3552.5 L441.8 3534.2 L445.6 3534.2 L445.6 3456.2 L449.4 3456.2 L449.4 3513.7 L453.2 3513.7 L453.2 3458.4 L457.0 3458.4 L457.0 3473.4 L460.8 3473.4 L460.8 3425.0 L464.6 3425.0 L464.6 3498.8 L468.4 3498.8 L468.4 3501.4 L472.2 3501.4 L472.2 3544.9 L476.0 3544.9 L476.0 3566.0 L479.8 3566.0 L479.8 3575.1 L483.6 3575.1 L483.6 3591.1 L487.4 3591.1 L487.4 3564.1 L491.2 3564.1 L491.2 3619.8 L495.0 3619.8 L495.0 3613.6 L498.8 3613.6 L498.8 3598.7 L502.6 3598.7 L502.6 3630.9 L506.4 3630.9 L506.4 3681.5 L510.2 3681.5 L510.2 3683.1 L514.0 3683.1 L514.0 3648.9 L517.8 3648.9 L517.8 3726.2 L521.6 3726.2 L521.6 3745.3 L525.4 3745.3 L525.4 3696.4 L529.2 3696.4 L529.2 3709.3 L533.0 3709.3 L533.0 3701.6 L536.8 3701.6 L536.8 3715.8 L540.6 3715.8 L540.6 3789.4 L544.4 3789.4 L544.4 3733.8 L548.2 3733.8 L548.2 3738.5 L552.0 3738.5 L552.0 3751.9 L555.8 3751.9 L555.8 3787.8 L559.6 3787.8 L559.6 3734.2 L563.4 3734.2 L563.4 3769.0 L567.2 3769.0 L567.2 3723.8 L571.0 3723.8 L571.0 3766.5 L574.8 3766.5 L574.8 3808.0 L578.6 3808.0 L578.6 3777.6 L582.4 3777.6 L582.4 3764.6 L586.2 3764.6 L586.2 3808.0 L590.0 3808.0 L590.0 3793.2 L593.8 3793.2 L593.8 3786.5 L597.6 3786.5 L597.6 3783.1 L600.0 3783.1 L600.0 3808.0 Z" fill="#6cc232"/>
<rect x="878.5" y="3802" width="408.5" height="5" fill="#e00010"/>
<rect x="1037.5" y="3678.5" width="5" height="7" fill="#e01010"/>
<line x1="357" y1="3423" x2="357" y2="3820" stroke="#000" stroke-width="6"/>
<line x1="345" y1="3808" x2="1287" y2="3808" stroke="#000" stroke-width="6"/>
<line x1="345" y1="3425" x2="357" y2="3425" stroke="#000" stroke-width="5"/>
<text x="311" y="3437" font-family="'Liberation Serif', 'Times New Roman', serif" font-size="38" font-weight="bold" fill="#3a3a3a" text-anchor="end" textLength="16" lengthAdjust="spacingAndGlyphs">1</text>
<line x1="345" y1="3616.5" x2="357" y2="3616.5" stroke="#000" stroke-width="5"/>
<text x="311.5" y="3628.5" font-family="'Liberation Serif', 'Times New Roman', serif" font-size="38" font-weight="bold" fill="#3a3a3a" text-anchor="end" textLength="55" lengthAdjust="spacingAndGlyphs">0.5</text>
<line x1="345" y1="3808" x2="357" y2="3808" stroke="#000" stroke-width="5"/>
<text x="312" y="3820" font-family="'Liberation Serif', 'Times New Roman', serif" font-size="38" font-weight="bold" fill="#3a3a3a" text-anchor="end" textLength="19" lengthAdjust="spacingAndGlyphs">0</text>
<line x1="495" y1="3808" x2="495" y2="3820" stroke="#000" stroke-width="5"/>
<line x1="633" y1="3808" x2="633" y2="3820" stroke="#000" stroke-width="5"/>
<line x1="771" y1="3808" x2="771" y2="3820" stroke="#000" stroke-width="5"/>
<line x1="909" y1="3808" x2="909" y2="3820" stroke="#000" stroke-width="5"/>
<line x1="1047" y1="3808" x2="1047" y2="3820" stroke="#000" stroke-width="5"/>
<line x1="1185" y1="3808" x2="1185" y2="3820" stroke="#000" stroke-width="5"/>
<text x="358" y="3868" font-family="'Liberation Serif', 'Times New Roman', serif" font-size="39" font-weight="bold" fill="#3a3a3a" text-anchor="middle" textLength="82" lengthAdjust="spacingAndGlyphs">2.00</text>
<text x="496" y="3868" font-family="'Liberation Serif', 'Times New Roman', serif" font-size="39" font-weight="bold" fill="#3a3a3a" text-anchor="middle" textLength="82" lengthAdjust="spacingAndGlyphs">3.49</text>
<text x="634" y="3868" font-family="'Liberation Serif', 'Times New Roman', serif" font-size="39" font-weight="bold" fill="#3a3a3a" text-anchor="middle" textLength="82" lengthAdjust="spacingAndGlyphs">3.79</text>
<text x="772" y="3868" font-family="'Liberation Serif', 'Times New Roman', serif" font-size="39" font-weight="bold" fill="#3a3a3a" text-anchor="middle" textLength="82" lengthAdjust="spacingAndGlyphs">3.96</text>
<text x="910" y="3868" font-family="'Liberation Serif', 'Times New Roman', serif" font-size="39" font-weight="bold" fill="#3a3a3a" text-anchor="middle" textLength="82" lengthAdjust="spacingAndGlyphs">4.08</text>
<text x="1048" y="3868" font-family="'Liberation Serif', 'Times New Roman', serif" font-size="39" font-weight="bold" fill="#3a3a3a" text-anchor="middle" textLength="82" lengthAdjust="spacingAndGlyphs">4.18</text>
<text x="1186" y="3868" font-family="'Liberation Serif', 'Times New Roman', serif" font-size="39" font-weight="bold" fill="#3a3a3a" text-anchor="middle" textLength="82" lengthAdjust="spacingAndGlyphs">4.26</text>
<text x="819.5" y="3466.5" font-family="'Liberation Sans', Arial, sans-serif" font-size="41" font-weight="bold" fill="#111" text-anchor="middle" textLength="217" lengthAdjust="spacingAndGlyphs">PA 200µM</text>
<text x="1252.5" y="3485" font-family="'Liberation Sans', Arial, sans-serif" font-size="58" font-weight="bold" fill="#000" text-anchor="middle" textLength="41" lengthAdjust="spacingAndGlyphs">U</text>
<rect x="916" y="3702" width="28" height="25" fill="#f00010"/>
<rect x="916" y="3761" width="28" height="25" fill="#62c030"/>
<text x="959" y="3727" font-family="'Liberation Sans', Arial, sans-serif" font-size="36" font-weight="bold" fill="#333" text-anchor="start" textLength="146" lengthAdjust="spacingAndGlyphs">mt-ave</text>
<text x="959" y="3784" font-family="'Liberation Sans', Arial, sans-serif" font-size="36" font-weight="bold" fill="#333" text-anchor="start" textLength="308" lengthAdjust="spacingAndGlyphs">dsDNA-200 PA</text>
<path d="M1936.0 3802.7 L1936.0 3734.9 L1939.6 3734.9 L1939.6 3755.8 L1943.2 3755.8 L1943.2 3778.2 L1946.8 3778.2 L1946.8 3791.7 L1950.4 3791.7 L1950.4 3741.3 L1954.0 3741.3 L1954.0 3758.6 L1957.6 3758.6 L1957.6 3791.4 L1961.2 3791.4 L1961.2 3769.5 L1964.8 3769.5 L1964.8 3738.5 L1968.4 3738.5 L1968.4 3802.7 L1972.0 3802.7 L1972.0 3792.2 L1975.6 3792.2 L1975.6 3757.5 L1979.2 3757.5 L1979.2 3750.4 L1982.8 3750.4 L1982.8 3766.1 L1986.4 3766.1 L1986.4 3748.3 L1990.0 3748.3 L1990.0 3770.6 L1993.6 3770.6 L1993.6 3725.2 L1997.2 3725.2 L1997.2 3732.2 L2000.8 3732.2 L2000.8 3759.4 L2004.4 3759.4 L2004.4 3763.5 L2008.0 3763.5 L2008.0 3741.3 L2011.6 3741.3 L2011.6 3766.1 L2015.2 3766.1 L2015.2 3736.4 L2018.8 3736.4 L2018.8 3656.2 L2022.4 3656.2 L2022.4 3764.2 L2026.0 3764.2 L2026.0 3746.2 L2029.6 3746.2 L2029.6 3764.8 L2033.2 3764.8 L2033.2 3758.7 L2036.8 3758.7 L2036.8 3629.9 L2040.4 3629.9 L2040.4 3764.3 L2044.0 3764.3 L2044.0 3786.0 L2047.6 3786.0 L2047.6 3750.4 L2051.2 3750.4 L2051.2 3752.2 L2054.8 3752.2 L2054.8 3764.5 L2058.4 3764.5 L2058.4 3754.2 L2062.0 3754.2 L2062.0 3755.2 L2065.6 3755.2 L2065.6 3732.7 L2069.2 3732.7 L2069.2 3732.9 L2072.8 3732.9 L2072.8 3742.1 L2076.4 3742.1 L2076.4 3767.5 L2080.0 3767.5 L2080.0 3727.1 L2083.6 3727.1 L2083.6 3767.4 L2087.2 3767.4 L2087.2 3796.8 L2090.8 3796.8 L2090.8 3735.0 L2094.4 3735.0 L2094.4 3780.4 L2098.0 3780.4 L2098.0 3738.6 L2101.6 3738.6 L2101.6 3793.2 L2105.2 3793.2 L2105.2 3778.6 L2108.8 3778.6 L2108.8 3751.6 L2112.4 3751.6 L2112.4 3745.4 L2116.0 3745.4 L2116.0 3728.5 L2119.6 3728.5 L2119.6 3763.6 L2123.2 3763.6 L2123.2 3752.3 L2126.8 3752.3 L2126.8 3745.2 L2130.4 3745.2 L2130.4 3732.9 L2134.0 3732.9 L2134.0 3737.1 L2137.6 3737.1 L2137.6 3776.3 L2141.2 3776.3 L2141.2 3774.1 L2144.8 3774.1 L2144.8 3735.0 L2148.4 3735.0 L2148.4 3802.7 L2152.0 3802.7 L2152.0 3758.6 L2155.6 3758.6 L2155.6 3793.5 L2159.2 3793.5 L2159.2 3705.1 L2162.8 3705.1 L2162.8 3741.4 L2166.4 3741.4 L2166.4 3761.7 L2170.0 3761.7 L2170.0 3751.0 L2173.6 3751.0 L2173.6 3759.7 L2177.2 3759.7 L2177.2 3756.4 L2180.8 3756.4 L2180.8 3691.2 L2184.4 3691.2 L2184.4 3735.2 L2188.0 3735.2 L2188.0 3757.5 L2191.6 3757.5 L2191.6 3732.8 L2195.2 3732.8 L2195.2 3769.5 L2198.8 3769.5 L2198.8 3736.3 L2202.4 3736.3 L2202.4 3802.7 L2206.0 3802.7 L2206.0 3750.5 L2209.6 3750.5 L2209.6 3750.9 L2213.2 3750.9 L2213.2 3786.9 L2216.8 3786.9 L2216.8 3777.9 L2220.4 3777.9 L2220.4 3772.9 L2224.0 3772.9 L2224.0 3729.0 L2227.6 3729.0 L2227.6 3790.9 L2231.2 3790.9 L2231.2 3781.1 L2234.8 3781.1 L2234.8 3802.7 L2238.4 3802.7 L2238.4 3745.4 L2242.0 3745.4 L2242.0 3773.0 L2245.6 3773.0 L2245.6 3772.1 L2249.2 3772.1 L2249.2 3751.3 L2252.8 3751.3 L2252.8 3782.9 L2256.4 3782.9 L2256.4 3799.0 L2260.0 3799.0 L2260.0 3784.2 L2263.6 3784.2 L2263.6 3761.2 L2267.2 3761.2 L2267.2 3789.1 L2270.8 3789.1 L2270.8 3770.6 L2274.4 3770.6 L2274.4 3792.3 L2278.0 3792.3 L2278.0 3772.7 L2281.6 3772.7 L2281.6 3760.8 L2285.2 3760.8 L2285.2 3789.4 L2288.8 3789.4 L2288.8 3775.5 L2292.4 3775.5 L2292.4 3790.4 L2296.0 3790.4 L2296.0 3802.4 L2299.6 3802.4 L2299.6 3794.3 L2303.2 3794.3 L2303.2 3802.7 L2306.8 3802.7 L2306.8 3781.3 L2310.4 3781.3 L2310.4 3758.4 L2314.0 3758.4 L2314.0 3802.7 L2317.6 3802.7 L2317.6 3792.9 L2319.0 3792.9 L2319.0 3802.7 Z" fill="#f7c2c2" opacity="1.00"/>
<path d="M1481.0 3802.7 L1481.0 3770.5 L1484.8 3770.5 L1484.8 3689.9 L1488.6 3689.9 L1488.6 3703.1 L1492.4 3703.1 L1492.4 3712.5 L1496.2 3712.5 L1496.2 3715.8 L1500.0 3715.8 L1500.0 3689.6 L1503.8 3689.6 L1503.8 3724.5 L1507.6 3724.5 L1507.6 3690.3 L1511.4 3690.3 L1511.4 3612.9 L1515.2 3612.9 L1515.2 3526.8 L1519.0 3526.8 L1519.0 3547.3 L1522.8 3547.3 L1522.8 3539.7 L1526.6 3539.7 L1526.6 3581.9 L1530.4 3581.9 L1530.4 3430.2 L1534.2 3430.2 L1534.2 3438.0 L1538.0 3438.0 L1538.0 3439.9 L1541.8 3439.9 L1541.8 3451.4 L1545.6 3451.4 L1545.6 3441.6 L1549.4 3441.6 L1549.4 3430.2 L1553.2 3430.2 L1553.2 3410.0 L1557.0 3410.0 L1557.0 3454.7 L1560.8 3454.7 L1560.8 3447.3 L1564.6 3447.3 L1564.6 3507.0 L1568.4 3507.0 L1568.4 3460.1 L1572.2 3460.1 L1572.2 3568.7 L1576.0 3568.7 L1576.0 3532.6 L1579.8 3532.6 L1579.8 3455.5 L1583.6 3455.5 L1583.6 3525.4 L1587.4 3525.4 L1587.4 3522.0 L1591.2 3522.0 L1591.2 3634.7 L1595.0 3634.7 L1595.0 3529.7 L1598.8 3529.7 L1598.8 3536.4 L1602.6 3536.4 L1602.6 3439.4 L1606.4 3439.4 L1606.4 3563.2 L1610.2 3563.2 L1610.2 3498.7 L1614.0 3498.7 L1614.0 3545.9 L1617.8 3545.9 L1617.8 3469.6 L1621.6 3469.6 L1621.6 3510.7 L1625.4 3510.7 L1625.4 3526.7 L1629.2 3526.7 L1629.2 3458.1 L1633.0 3458.1 L1633.0 3581.2 L1636.8 3581.2 L1636.8 3501.2 L1640.6 3501.2 L1640.6 3517.1 L1644.4 3517.1 L1644.4 3536.5 L1648.2 3536.5 L1648.2 3537.7 L1652.0 3537.7 L1652.0 3608.8 L1655.8 3608.8 L1655.8 3667.3 L1659.6 3667.3 L1659.6 3525.8 L1663.4 3525.8 L1663.4 3577.9 L1667.2 3577.9 L1667.2 3606.0 L1671.0 3606.0 L1671.0 3483.2 L1674.8 3483.2 L1674.8 3607.1 L1678.6 3607.1 L1678.6 3598.4 L1682.4 3598.4 L1682.4 3680.0 L1686.2 3680.0 L1686.2 3578.7 L1690.0 3578.7 L1690.0 3592.9 L1693.8 3592.9 L1693.8 3608.9 L1697.6 3608.9 L1697.6 3554.1 L1701.4 3554.1 L1701.4 3593.4 L1705.2 3593.4 L1705.2 3575.3 L1709.0 3575.3 L1709.0 3565.5 L1712.8 3565.5 L1712.8 3638.9 L1716.6 3638.9 L1716.6 3609.3 L1720.4 3609.3 L1720.4 3551.6 L1724.2 3551.6 L1724.2 3631.7 L1728.0 3631.7 L1728.0 3657.8 L1731.8 3657.8 L1731.8 3573.0 L1735.6 3573.0 L1735.6 3588.4 L1739.4 3588.4 L1739.4 3558.2 L1743.2 3558.2 L1743.2 3588.6 L1747.0 3588.6 L1747.0 3655.5 L1750.8 3655.5 L1750.8 3602.5 L1754.6 3602.5 L1754.6 3624.1 L1758.4 3624.1 L1758.4 3607.4 L1762.2 3607.4 L1762.2 3674.2 L1766.0 3674.2 L1766.0 3647.6 L1769.8 3647.6 L1769.8 3589.5 L1773.6 3589.5 L1773.6 3570.5 L1777.4 3570.5 L1777.4 3698.2 L1781.2 3698.2 L1781.2 3666.9 L1785.0 3666.9 L1785.0 3659.1 L1788.8 3659.1 L1788.8 3677.2 L1792.6 3677.2 L1792.6 3653.9 L1796.4 3653.9 L1796.4 3651.2 L1800.2 3651.2 L1800.2 3653.7 L1804.0 3653.7 L1804.0 3706.4 L1807.8 3706.4 L1807.8 3725.8 L1811.6 3725.8 L1811.6 3662.0 L1815.4 3662.0 L1815.4 3692.3 L1819.2 3692.3 L1819.2 3707.3 L1823.0 3707.3 L1823.0 3665.7 L1826.8 3665.7 L1826.8 3674.8 L1830.6 3674.8 L1830.6 3744.9 L1834.4 3744.9 L1834.4 3679.4 L1838.2 3679.4 L1838.2 3678.5 L1842.0 3678.5 L1842.0 3763.6 L1845.8 3763.6 L1845.8 3660.2 L1849.6 3660.2 L1849.6 3705.0 L1853.4 3705.0 L1853.4 3662.7 L1857.2 3662.7 L1857.2 3726.8 L1861.0 3726.8 L1861.0 3763.0 L1864.8 3763.0 L1864.8 3722.0 L1868.6 3722.0 L1868.6 3742.5 L1872.4 3742.5 L1872.4 3715.4 L1876.2 3715.4 L1876.2 3718.0 L1880.0 3718.0 L1880.0 3730.0 L1883.8 3730.0 L1883.8 3701.8 L1887.6 3701.8 L1887.6 3720.3 L1891.4 3720.3 L1891.4 3725.0 L1895.2 3725.0 L1895.2 3717.0 L1899.0 3717.0 L1899.0 3716.9 L1902.8 3716.9 L1902.8 3748.9 L1906.6 3748.9 L1906.6 3706.3 L1910.4 3706.3 L1910.4 3722.1 L1914.2 3722.1 L1914.2 3723.3 L1918.0 3723.3 L1918.0 3727.4 L1921.8 3727.4 L1921.8 3712.2 L1925.6 3712.2 L1925.6 3735.2 L1929.4 3735.2 L1929.4 3732.3 L1933.2 3732.3 L1933.2 3734.9 L1936.0 3734.9 L1936.0 3802.7 Z" fill="#f00008"/>
<path d="M1483.0 3802.7 L1483.0 3784.5 L1486.8 3784.5 L1486.8 3802.7 L1490.6 3802.7 L1490.6 3698.9 L1494.4 3698.9 L1494.4 3727.7 L1498.2 3727.7 L1498.2 3793.6 L1502.0 3793.6 L1502.0 3742.4 L1505.8 3742.4 L1505.8 3727.0 L1509.6 3727.0 L1509.6 3572.7 L1513.4 3572.7 L1513.4 3768.8 L1517.2 3768.8 L1517.2 3700.5 L1521.0 3700.5 L1521.0 3673.1 L1524.8 3673.1 L1524.8 3661.5 L1528.6 3661.5 L1528.6 3644.3 L1532.4 3644.3 L1532.4 3661.2 L1536.2 3661.2 L1536.2 3641.4 L1540.0 3641.4 L1540.0 3602.8 L1543.8 3602.8 L1543.8 3591.9 L1547.6 3591.9 L1547.6 3564.4 L1551.4 3564.4 L1551.4 3628.2 L1555.2 3628.2 L1555.2 3580.8 L1559.0 3580.8 L1559.0 3592.7 L1562.8 3592.7 L1562.8 3637.0 L1566.6 3637.0 L1566.6 3553.2 L1570.4 3553.2 L1570.4 3664.0 L1574.2 3664.0 L1574.2 3561.3 L1578.0 3561.3 L1578.0 3552.4 L1581.8 3552.4 L1581.8 3591.3 L1585.6 3591.3 L1585.6 3574.6 L1589.4 3574.6 L1589.4 3563.5 L1593.2 3563.5 L1593.2 3558.6 L1597.0 3558.6 L1597.0 3551.7 L1600.8 3551.7 L1600.8 3519.4 L1604.6 3519.4 L1604.6 3570.3 L1608.4 3570.3 L1608.4 3574.2 L1612.2 3574.2 L1612.2 3560.1 L1616.0 3560.1 L1616.0 3544.9 L1619.8 3544.9 L1619.8 3591.4 L1623.6 3591.4 L1623.6 3680.1 L1627.4 3680.1 L1627.4 3530.5 L1631.2 3530.5 L1631.2 3557.4 L1635.0 3557.4 L1635.0 3479.5 L1638.8 3479.5 L1638.8 3574.6 L1642.6 3574.6 L1642.6 3603.6 L1646.4 3603.6 L1646.4 3445.6 L1650.2 3445.6 L1650.2 3564.1 L1654.0 3564.1 L1654.0 3574.3 L1657.8 3574.3 L1657.8 3537.4 L1661.6 3537.4 L1661.6 3538.6 L1665.4 3538.6 L1665.4 3539.9 L1669.2 3539.9 L1669.2 3660.7 L1673.0 3660.7 L1673.0 3537.2 L1676.8 3537.2 L1676.8 3558.3 L1680.6 3558.3 L1680.6 3527.5 L1684.4 3527.5 L1684.4 3518.5 L1688.2 3518.5 L1688.2 3544.1 L1692.0 3544.1 L1692.0 3410.0 L1695.8 3410.0 L1695.8 3514.5 L1699.6 3514.5 L1699.6 3423.5 L1703.4 3423.5 L1703.4 3529.9 L1707.2 3529.9 L1707.2 3414.5 L1711.0 3414.5 L1711.0 3539.2 L1714.8 3539.2 L1714.8 3556.0 L1718.6 3556.0 L1718.6 3555.7 L1722.4 3555.7 L1722.4 3600.8 L1726.2 3600.8 L1726.2 3565.6 L1730.0 3565.6 L1730.0 3580.3 L1733.8 3580.3 L1733.8 3582.6 L1737.6 3582.6 L1737.6 3539.0 L1741.4 3539.0 L1741.4 3632.0 L1745.2 3632.0 L1745.2 3454.9 L1749.0 3454.9 L1749.0 3578.7 L1752.8 3578.7 L1752.8 3498.2 L1756.6 3498.2 L1756.6 3449.6 L1760.4 3449.6 L1760.4 3608.0 L1764.2 3608.0 L1764.2 3631.5 L1768.0 3631.5 L1768.0 3637.4 L1771.8 3637.4 L1771.8 3630.6 L1775.6 3630.6 L1775.6 3615.5 L1779.4 3615.5 L1779.4 3573.0 L1783.2 3573.0 L1783.2 3672.3 L1787.0 3672.3 L1787.0 3687.4 L1790.8 3687.4 L1790.8 3658.7 L1794.6 3658.7 L1794.6 3660.2 L1798.4 3660.2 L1798.4 3656.8 L1802.2 3656.8 L1802.2 3512.4 L1806.0 3512.4 L1806.0 3703.2 L1809.8 3703.2 L1809.8 3680.9 L1813.6 3680.9 L1813.6 3758.6 L1817.4 3758.6 L1817.4 3647.0 L1821.2 3647.0 L1821.2 3715.6 L1825.0 3715.6 L1825.0 3731.0 L1828.8 3731.0 L1828.8 3717.3 L1832.6 3717.3 L1832.6 3708.8 L1836.4 3708.8 L1836.4 3749.7 L1840.2 3749.7 L1840.2 3741.7 L1844.0 3741.7 L1844.0 3743.7 L1847.8 3743.7 L1847.8 3666.8 L1851.6 3666.8 L1851.6 3760.6 L1855.4 3760.6 L1855.4 3758.0 L1859.2 3758.0 L1859.2 3722.6 L1863.0 3722.6 L1863.0 3791.5 L1866.8 3791.5 L1866.8 3775.5 L1870.6 3775.5 L1870.6 3771.4 L1874.4 3771.4 L1874.4 3764.3 L1878.2 3764.3 L1878.2 3784.2 L1882.0 3784.2 L1882.0 3802.7 L1885.8 3802.7 L1885.8 3781.1 L1889.6 3781.1 L1889.6 3776.5 L1893.4 3776.5 L1893.4 3705.9 L1897.2 3705.9 L1897.2 3774.2 L1901.0 3774.2 L1901.0 3801.7 L1904.8 3801.7 L1904.8 3786.0 L1908.6 3786.0 L1908.6 3776.5 L1912.4 3776.5 L1912.4 3802.7 L1916.2 3802.7 L1916.2 3790.5 L1920.0 3790.5 L1920.0 3797.2 L1923.8 3797.2 L1923.8 3777.1 L1927.6 3777.1 L1927.6 3789.2 L1931.4 3789.2 L1931.4 3752.9 L1935.2 3752.9 L1935.2 3792.2 L1936.0 3792.2 L1936.0 3802.7 Z" fill="#6cc232"/>
<rect x="1934" y="3796.7" width="385" height="5" fill="#e00010"/>
<rect x="2094.5" y="3674.5" width="5" height="7" fill="#e01010"/>
<line x1="1478" y1="3408" x2="1478" y2="3814.7" stroke="#000" stroke-width="6"/>
<line x1="1466" y1="3802.7" x2="2319" y2="3802.7" stroke="#000" stroke-width="6"/>
<line x1="1466" y1="3410" x2="1478" y2="3410" stroke="#000" stroke-width="5"/>
<text x="1437" y="3422" font-family="'Liberation Serif', 'Times New Roman', serif" font-size="38" font-weight="bold" fill="#3a3a3a" text-anchor="end" textLength="18" lengthAdjust="spacingAndGlyphs">1</text>
<line x1="1466" y1="3488.54" x2="1478" y2="3488.54" stroke="#000" stroke-width="5"/>
<text x="1438" y="3500.54" font-family="'Liberation Serif', 'Times New Roman', serif" font-size="38" font-weight="bold" fill="#3a3a3a" text-anchor="end" textLength="57" lengthAdjust="spacingAndGlyphs">0.8</text>
<line x1="1466" y1="3567.08" x2="1478" y2="3567.08" stroke="#000" stroke-width="5"/>
<text x="1438" y="3579.08" font-family="'Liberation Serif', 'Times New Roman', serif" font-size="38" font-weight="bold" fill="#3a3a3a" text-anchor="end" textLength="57" lengthAdjust="spacingAndGlyphs">0.6</text>
<line x1="1466" y1="3645.62" x2="1478" y2="3645.62" stroke="#000" stroke-width="5"/>
<text x="1438" y="3657.62" font-family="'Liberation Serif', 'Times New Roman', serif" font-size="38" font-weight="bold" fill="#3a3a3a" text-anchor="end" textLength="57" lengthAdjust="spacingAndGlyphs">0.4</text>
<line x1="1466" y1="3724.16" x2="1478" y2="3724.16" stroke="#000" stroke-width="5"/>
<text x="1438" y="3736.16" font-family="'Liberation Serif', 'Times New Roman', serif" font-size="38" font-weight="bold" fill="#3a3a3a" text-anchor="end" textLength="57" lengthAdjust="spacingAndGlyphs">0.2</text>
<line x1="1466" y1="3802.7" x2="1478" y2="3802.7" stroke="#000" stroke-width="5"/>
<text x="1438" y="3814.7" font-family="'Liberation Serif', 'Times New Roman', serif" font-size="38" font-weight="bold" fill="#3a3a3a" text-anchor="end" textLength="19" lengthAdjust="spacingAndGlyphs">0</text>
<line x1="1603.6" y1="3802.7" x2="1603.6" y2="3814.7" stroke="#000" stroke-width="5"/>
<line x1="1729.2" y1="3802.7" x2="1729.2" y2="3814.7" stroke="#000" stroke-width="5"/>
<line x1="1854.8" y1="3802.7" x2="1854.8" y2="3814.7" stroke="#000" stroke-width="5"/>
<line x1="1980.4" y1="3802.7" x2="1980.4" y2="3814.7" stroke="#000" stroke-width="5"/>
<line x1="2106" y1="3802.7" x2="2106" y2="3814.7" stroke="#000" stroke-width="5"/>
<line x1="2231.6" y1="3802.7" x2="2231.6" y2="3814.7" stroke="#000" stroke-width="5"/>
<text x="1479" y="3864" font-family="'Liberation Serif', 'Times New Roman', serif" font-size="39" font-weight="bold" fill="#3a3a3a" text-anchor="middle" textLength="82" lengthAdjust="spacingAndGlyphs">2.00</text>
<text x="1604.6" y="3864" font-family="'Liberation Serif', 'Times New Roman', serif" font-size="39" font-weight="bold" fill="#3a3a3a" text-anchor="middle" textLength="82" lengthAdjust="spacingAndGlyphs">3.49</text>
<text x="1730.2" y="3864" font-family="'Liberation Serif', 'Times New Roman', serif" font-size="39" font-weight="bold" fill="#3a3a3a" text-anchor="middle" textLength="82" lengthAdjust="spacingAndGlyphs">3.79</text>
<text x="1855.8" y="3864" font-family="'Liberation Serif', 'Times New Roman', serif" font-size="39" font-weight="bold" fill="#3a3a3a" text-anchor="middle" textLength="82" lengthAdjust="spacingAndGlyphs">3.96</text>
<text x="1981.4" y="3864" font-family="'Liberation Serif', 'Times New Roman', serif" font-size="39" font-weight="bold" fill="#3a3a3a" text-anchor="middle" textLength="82" lengthAdjust="spacingAndGlyphs">4.08</text>
<text x="2107" y="3864" font-family="'Liberation Serif', 'Times New Roman', serif" font-size="39" font-weight="bold" fill="#3a3a3a" text-anchor="middle" textLength="82" lengthAdjust="spacingAndGlyphs">4.18</text>
<text x="2232.6" y="3864" font-family="'Liberation Serif', 'Times New Roman', serif" font-size="39" font-weight="bold" fill="#3a3a3a" text-anchor="middle" textLength="82" lengthAdjust="spacingAndGlyphs">4.26</text>
<text x="1930.5" y="3467.5" font-family="'Liberation Sans', Arial, sans-serif" font-size="41" font-weight="bold" fill="#111" text-anchor="middle" textLength="213" lengthAdjust="spacingAndGlyphs">PA 400µM</text>
<text x="2321.5" y="3493.5" font-family="'Liberation Sans', Arial, sans-serif" font-size="58" font-weight="bold" fill="#000" text-anchor="middle" textLength="43" lengthAdjust="spacingAndGlyphs">V</text>
<rect x="1968" y="3701" width="28" height="25" fill="#f00010"/>
<rect x="1968" y="3760" width="28" height="25" fill="#62c030"/>
<text x="2011" y="3726" font-family="'Liberation Sans', Arial, sans-serif" font-size="36" font-weight="bold" fill="#333" text-anchor="start" textLength="150" lengthAdjust="spacingAndGlyphs">mt-ave</text>
<text x="2011" y="3783" font-family="'Liberation Sans', Arial, sans-serif" font-size="36" font-weight="bold" fill="#333" text-anchor="start" textLength="307" lengthAdjust="spacingAndGlyphs">dsDNA-400 PA</text>
<text transform="translate(199 3611) rotate(-90)" font-family="'Liberation Sans', Arial, sans-serif" font-size="46" font-weight="bold" fill="#111" text-anchor="start" textLength="418" lengthAdjust="spacingAndGlyphs">Pixel Frequency (norm)</text>
<text x="1377.5" y="3983" font-family="'Liberation Sans', Arial, sans-serif" font-size="38" font-weight="bold" fill="#111" text-anchor="middle" textLength="621" lengthAdjust="spacingAndGlyphs">Dynamic range (Intensity log)</text>
</svg>
</body></html>
